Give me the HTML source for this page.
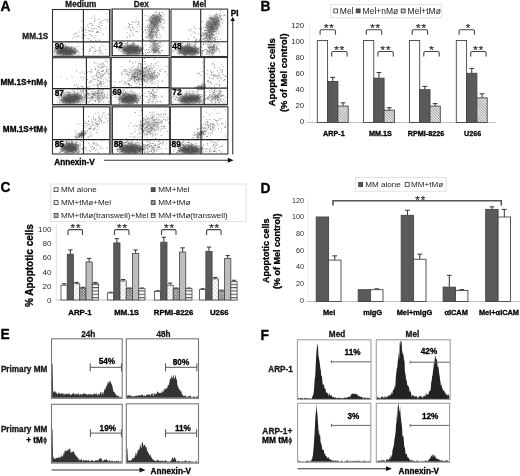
<!DOCTYPE html>
<html><head><meta charset="utf-8"><style>
html,body{margin:0;padding:0;background:#fff;overflow:hidden;}
svg{display:block;font-family:"Liberation Sans",sans-serif;filter:blur(0.35px);}
</style></head><body>
<svg width="520" height="476" viewBox="0 0 520 476">
<defs><filter id="b2" x="-50%" y="-50%" width="200%" height="200%"><feGaussianBlur stdDeviation="1.6"/></filter><filter id="b1" x="-50%" y="-50%" width="200%" height="200%"><feGaussianBlur stdDeviation="0.8"/></filter>
<pattern id="hatB" width="2.0" height="2.0" patternUnits="userSpaceOnUse" patternTransform="rotate(-45)"><rect width="2.0" height="2.0" fill="#f4f4f4"/><rect width="0.8" height="2.0" fill="#8c8c8c"/></pattern>
<pattern id="dotC" width="4" height="4" patternUnits="userSpaceOnUse"><rect width="4" height="4" fill="#fcfcfc"/><rect x="0.5" y="0.5" width="0.9" height="0.9" fill="#999"/><rect x="2.5" y="2.5" width="0.9" height="0.9" fill="#999"/></pattern>
<pattern id="crossC" width="2.0" height="2.0" patternUnits="userSpaceOnUse" patternTransform="rotate(45)"><rect width="2.0" height="2.0" fill="#eee"/><rect width="0.75" height="2.0" fill="#666"/><rect width="2.0" height="0.75" fill="#666"/></pattern>
<pattern id="strC" width="3" height="3.3" patternUnits="userSpaceOnUse"><rect width="3" height="3.3" fill="#fff"/><rect width="3" height="1.1" fill="#555"/></pattern>
<clipPath id="c52_9"><rect x="52.5" y="9.5" width="57.0" height="46.8"/></clipPath><clipPath id="c112_9"><rect x="112.3" y="9.0" width="57.000000000000014" height="46.6"/></clipPath><clipPath id="c171_9"><rect x="171" y="9.1" width="56.599999999999994" height="47.4"/></clipPath><clipPath id="c52_57"><rect x="52.5" y="57.7" width="57.8" height="46.8"/></clipPath><clipPath id="c111_57"><rect x="111.2" y="57.5" width="57.999999999999986" height="47.5"/></clipPath><clipPath id="c171_57"><rect x="171" y="57.5" width="56.5" height="46.900000000000006"/></clipPath><clipPath id="c52_106"><rect x="52.5" y="106.9" width="57.3" height="47.099999999999994"/></clipPath><clipPath id="c112_106"><rect x="112.4" y="106.9" width="57.400000000000006" height="47.099999999999994"/></clipPath><clipPath id="c170_106"><rect x="170.3" y="106.9" width="57.599999999999994" height="47.099999999999994"/></clipPath></defs>
<rect width="520" height="476" fill="#fff"/>
<text x="0.60" y="10.75" font-size="13.8" font-weight="bold" stroke="#000" stroke-width="0.3" text-anchor="start" fill="#000">A</text>
<text x="80.80" y="6.72" font-size="8.2" font-weight="bold" stroke="#1a1a1a" stroke-width="0.3" text-anchor="middle" fill="#1a1a1a">Medium</text>
<text x="141.30" y="6.72" font-size="8.2" font-weight="bold" stroke="#1a1a1a" stroke-width="0.3" text-anchor="middle" fill="#1a1a1a">Dex</text>
<text x="199.40" y="6.72" font-size="8.2" font-weight="bold" stroke="#1a1a1a" stroke-width="0.3" text-anchor="middle" fill="#1a1a1a">Mel</text>
<text x="48.30" y="39.02" font-size="8.2" font-weight="bold" stroke="#1a1a1a" stroke-width="0.3" text-anchor="end" fill="#1a1a1a">MM.1S</text>
<text x="43.10" y="85.42" font-size="8.2" font-weight="bold" stroke="#000" stroke-width="0.3" text-anchor="end" fill="#000">MM.1S+nM</text>
<ellipse cx="45.30" cy="83.29" rx="1.45" ry="1.80" fill="none" stroke="#000" stroke-width="0.85"/>
<line x1="45.30" y1="79.84" x2="45.30" y2="87.22" stroke="#000" stroke-width="0.9"/>
<text x="43.10" y="131.62" font-size="8.2" font-weight="bold" stroke="#000" stroke-width="0.3" text-anchor="end" fill="#000">MM.1S+tM</text>
<ellipse cx="45.30" cy="129.49" rx="1.45" ry="1.80" fill="none" stroke="#000" stroke-width="0.85"/>
<line x1="45.30" y1="126.04" x2="45.30" y2="133.42" stroke="#000" stroke-width="0.9"/>
<rect x="109.80" y="8.50" width="2.30" height="48.50" fill="#a0a0a0" stroke="none" stroke-width="1"/>
<rect x="168.80" y="57.00" width="2.00" height="98.00" fill="#a8a8a8" stroke="none" stroke-width="1"/>
<rect x="109.80" y="106.00" width="2.30" height="49.00" fill="#a0a0a0" stroke="none" stroke-width="1"/>
<rect x="52.00" y="104.60" width="176.00" height="2.40" fill="#aaaaaa" stroke="none" stroke-width="1"/>
<rect x="52.00" y="56.30" width="176.00" height="1.30" fill="#c8c8c8" stroke="none" stroke-width="1"/>
<g clip-path="url(#c52_9)"><ellipse cx="66" cy="51.5" rx="10.5" ry="4.2" fill="#505050" fill-opacity="0.85" filter="url(#b2)" transform="rotate(0 66 51.5)"/></g>
<path d="M66.0 50.5h0.9v0.9h-0.9zM67.8 48.1h0.9v0.9h-0.9zM64.4 51.1h0.9v0.9h-0.9zM60.7 47.3h0.9v0.9h-0.9zM63.3 53.7h0.9v0.9h-0.9zM60.1 53.2h0.9v0.9h-0.9zM66.4 54.0h0.9v0.9h-0.9zM74.0 50.7h0.9v0.9h-0.9zM63.0 52.1h0.9v0.9h-0.9zM62.3 50.2h0.9v0.9h-0.9zM68.9 50.3h0.9v0.9h-0.9zM68.1 50.3h0.9v0.9h-0.9zM66.6 47.6h0.9v0.9h-0.9zM60.4 46.4h0.9v0.9h-0.9zM65.8 53.1h0.9v0.9h-0.9zM70.2 51.0h0.9v0.9h-0.9zM57.9 50.6h0.9v0.9h-0.9zM63.3 53.4h0.9v0.9h-0.9zM54.6 45.0h0.9v0.9h-0.9zM58.3 48.0h0.9v0.9h-0.9zM54.9 50.2h0.9v0.9h-0.9zM64.6 51.9h0.9v0.9h-0.9zM58.4 49.1h0.9v0.9h-0.9zM67.6 54.0h0.9v0.9h-0.9zM66.9 51.7h0.9v0.9h-0.9zM64.9 47.6h0.9v0.9h-0.9zM62.8 52.8h0.9v0.9h-0.9zM65.7 52.2h0.9v0.9h-0.9zM66.7 45.9h0.9v0.9h-0.9zM56.8 53.6h0.9v0.9h-0.9zM63.1 52.3h0.9v0.9h-0.9zM60.1 54.0h0.9v0.9h-0.9zM61.1 49.4h0.9v0.9h-0.9zM72.4 50.9h0.9v0.9h-0.9zM61.2 47.4h0.9v0.9h-0.9zM71.3 51.1h0.9v0.9h-0.9zM65.3 49.2h0.9v0.9h-0.9zM66.7 51.5h0.9v0.9h-0.9zM66.4 46.5h0.9v0.9h-0.9zM58.6 49.1h0.9v0.9h-0.9zM66.5 53.7h0.9v0.9h-0.9zM74.2 48.6h0.9v0.9h-0.9zM56.7 52.8h0.9v0.9h-0.9zM71.2 52.5h0.9v0.9h-0.9zM66.7 48.3h0.9v0.9h-0.9zM62.2 49.2h0.9v0.9h-0.9zM78.0 51.2h0.9v0.9h-0.9zM70.6 51.4h0.9v0.9h-0.9zM58.8 48.7h0.9v0.9h-0.9zM66.4 48.8h0.9v0.9h-0.9zM69.5 50.6h0.9v0.9h-0.9zM64.9 48.1h0.9v0.9h-0.9zM70.1 48.0h0.9v0.9h-0.9zM65.6 50.8h0.9v0.9h-0.9zM70.0 53.9h0.9v0.9h-0.9zM74.6 47.9h0.9v0.9h-0.9zM61.9 50.5h0.9v0.9h-0.9zM67.2 49.4h0.9v0.9h-0.9zM63.2 48.0h0.9v0.9h-0.9zM66.8 53.4h0.9v0.9h-0.9zM58.9 48.8h0.9v0.9h-0.9zM62.5 54.7h0.9v0.9h-0.9zM64.8 48.7h0.9v0.9h-0.9zM71.4 52.7h0.9v0.9h-0.9zM72.9 51.2h0.9v0.9h-0.9zM58.1 48.0h0.9v0.9h-0.9zM61.2 52.0h0.9v0.9h-0.9zM69.9 51.0h0.9v0.9h-0.9zM54.0 51.2h0.9v0.9h-0.9zM63.2 50.5h0.9v0.9h-0.9zM65.4 48.0h0.9v0.9h-0.9zM73.5 51.6h0.9v0.9h-0.9zM70.1 51.6h0.9v0.9h-0.9zM64.0 53.4h0.9v0.9h-0.9zM63.8 48.3h0.9v0.9h-0.9zM64.5 50.7h0.9v0.9h-0.9zM75.1 47.4h0.9v0.9h-0.9zM63.4 52.5h0.9v0.9h-0.9zM64.2 47.9h0.9v0.9h-0.9zM68.1 46.3h0.9v0.9h-0.9zM65.3 50.8h0.9v0.9h-0.9zM64.8 53.9h0.9v0.9h-0.9zM59.3 46.1h0.9v0.9h-0.9zM65.9 48.0h0.9v0.9h-0.9zM63.3 48.7h0.9v0.9h-0.9zM73.0 48.8h0.9v0.9h-0.9zM69.9 52.5h0.9v0.9h-0.9zM65.9 48.8h0.9v0.9h-0.9zM70.0 49.5h0.9v0.9h-0.9zM64.0 52.3h0.9v0.9h-0.9zM72.3 49.7h0.9v0.9h-0.9zM66.0 52.2h0.9v0.9h-0.9zM69.5 48.8h0.9v0.9h-0.9zM58.3 46.8h0.9v0.9h-0.9zM68.1 46.3h0.9v0.9h-0.9zM53.8 48.7h0.9v0.9h-0.9zM64.2 51.4h0.9v0.9h-0.9zM60.6 50.3h0.9v0.9h-0.9zM67.0 51.5h0.9v0.9h-0.9zM79.5 52.7h0.9v0.9h-0.9zM62.3 47.7h0.9v0.9h-0.9zM67.2 46.9h0.9v0.9h-0.9zM69.0 48.6h0.9v0.9h-0.9zM64.9 47.3h0.9v0.9h-0.9zM64.8 52.9h0.9v0.9h-0.9zM70.2 53.7h0.9v0.9h-0.9zM69.1 48.8h0.9v0.9h-0.9zM59.8 46.5h0.9v0.9h-0.9zM65.5 50.0h0.9v0.9h-0.9zM66.2 54.8h0.9v0.9h-0.9zM59.7 42.6h0.9v0.9h-0.9zM67.6 52.6h0.9v0.9h-0.9zM60.9 47.5h0.9v0.9h-0.9zM71.8 54.5h0.9v0.9h-0.9zM67.2 48.2h0.9v0.9h-0.9zM66.5 50.3h0.9v0.9h-0.9zM62.5 46.5h0.9v0.9h-0.9zM65.3 48.3h0.9v0.9h-0.9zM54.0 53.4h0.9v0.9h-0.9zM59.2 52.4h0.9v0.9h-0.9zM68.2 50.2h0.9v0.9h-0.9zM53.2 47.2h0.9v0.9h-0.9zM71.1 46.5h0.9v0.9h-0.9zM55.5 48.7h0.9v0.9h-0.9zM70.5 51.4h0.9v0.9h-0.9zM60.9 50.2h0.9v0.9h-0.9zM70.7 51.3h0.9v0.9h-0.9zM66.8 48.1h0.9v0.9h-0.9zM56.8 49.7h0.9v0.9h-0.9zM73.5 51.8h0.9v0.9h-0.9zM64.4 50.4h0.9v0.9h-0.9zM65.0 48.8h0.9v0.9h-0.9zM60.1 50.1h0.9v0.9h-0.9zM72.6 50.1h0.9v0.9h-0.9zM62.7 48.6h0.9v0.9h-0.9zM65.7 50.8h0.9v0.9h-0.9zM61.2 47.6h0.9v0.9h-0.9zM62.2 52.2h0.9v0.9h-0.9zM58.3 49.8h0.9v0.9h-0.9zM73.5 52.6h0.9v0.9h-0.9zM65.1 50.4h0.9v0.9h-0.9zM71.8 49.7h0.9v0.9h-0.9zM66.1 48.4h0.9v0.9h-0.9zM61.8 49.9h0.9v0.9h-0.9zM64.0 49.3h0.9v0.9h-0.9zM62.6 51.2h0.9v0.9h-0.9zM66.0 51.0h0.9v0.9h-0.9zM63.7 47.0h0.9v0.9h-0.9zM64.2 51.0h0.9v0.9h-0.9zM57.7 46.4h0.9v0.9h-0.9zM61.2 48.8h0.9v0.9h-0.9zM75.9 51.4h0.9v0.9h-0.9zM62.0 44.9h0.9v0.9h-0.9zM59.7 50.5h0.9v0.9h-0.9zM68.0 51.6h0.9v0.9h-0.9zM74.4 51.6h0.9v0.9h-0.9zM57.3 48.8h0.9v0.9h-0.9zM64.7 49.8h0.9v0.9h-0.9zM62.2 47.9h0.9v0.9h-0.9zM55.4 49.0h0.9v0.9h-0.9zM70.4 50.0h0.9v0.9h-0.9zM65.9 51.2h0.9v0.9h-0.9zM66.4 47.8h0.9v0.9h-0.9zM61.5 51.1h0.9v0.9h-0.9zM68.7 51.7h0.9v0.9h-0.9zM62.8 50.2h0.9v0.9h-0.9zM65.1 49.7h0.9v0.9h-0.9zM59.4 51.7h0.9v0.9h-0.9zM58.7 45.6h0.9v0.9h-0.9zM74.0 53.2h0.9v0.9h-0.9zM63.0 51.3h0.9v0.9h-0.9zM67.8 52.0h0.9v0.9h-0.9zM65.8 52.0h0.9v0.9h-0.9zM63.4 48.9h0.9v0.9h-0.9zM63.0 49.9h0.9v0.9h-0.9zM69.8 53.2h0.9v0.9h-0.9zM64.2 52.0h0.9v0.9h-0.9zM65.1 51.5h0.9v0.9h-0.9zM66.1 46.9h0.9v0.9h-0.9zM73.1 53.3h0.9v0.9h-0.9zM70.1 54.6h0.9v0.9h-0.9zM68.3 54.0h0.9v0.9h-0.9zM62.6 51.2h0.9v0.9h-0.9zM57.7 45.8h0.9v0.9h-0.9zM71.7 54.2h0.9v0.9h-0.9zM71.8 51.3h0.9v0.9h-0.9zM65.2 44.0h0.9v0.9h-0.9zM69.3 52.4h0.9v0.9h-0.9zM70.7 47.5h0.9v0.9h-0.9zM71.0 48.1h0.9v0.9h-0.9zM71.5 49.9h0.9v0.9h-0.9zM63.3 54.1h0.9v0.9h-0.9zM75.1 51.1h0.9v0.9h-0.9zM58.5 50.9h0.9v0.9h-0.9zM71.2 51.3h0.9v0.9h-0.9zM77.3 51.7h0.9v0.9h-0.9zM74.9 48.6h0.9v0.9h-0.9zM59.1 48.3h0.9v0.9h-0.9zM55.9 51.0h0.9v0.9h-0.9zM70.9 52.6h0.9v0.9h-0.9zM59.9 50.6h0.9v0.9h-0.9zM65.9 53.7h0.9v0.9h-0.9zM71.0 49.5h0.9v0.9h-0.9zM56.1 49.7h0.9v0.9h-0.9zM53.3 51.5h0.9v0.9h-0.9zM67.6 52.8h0.9v0.9h-0.9zM66.3 53.9h0.9v0.9h-0.9zM64.5 51.9h0.9v0.9h-0.9zM66.2 50.2h0.9v0.9h-0.9zM60.8 51.4h0.9v0.9h-0.9zM56.9 47.2h0.9v0.9h-0.9zM65.0 46.4h0.9v0.9h-0.9zM60.2 51.9h0.9v0.9h-0.9zM56.1 49.7h0.9v0.9h-0.9zM69.0 52.2h0.9v0.9h-0.9zM65.6 46.4h0.9v0.9h-0.9zM68.4 50.3h0.9v0.9h-0.9zM60.1 48.7h0.9v0.9h-0.9zM62.1 48.2h0.9v0.9h-0.9zM60.0 44.2h0.9v0.9h-0.9zM60.7 49.5h0.9v0.9h-0.9zM67.2 53.6h0.9v0.9h-0.9zM61.3 51.5h0.9v0.9h-0.9zM68.1 49.6h0.9v0.9h-0.9zM68.0 51.2h0.9v0.9h-0.9zM78.2 54.5h0.9v0.9h-0.9zM57.6 42.5h0.9v0.9h-0.9zM71.3 51.3h0.9v0.9h-0.9zM65.5 52.4h0.9v0.9h-0.9zM65.9 52.8h0.9v0.9h-0.9zM57.3 54.6h0.9v0.9h-0.9zM63.2 53.8h0.9v0.9h-0.9zM70.5 52.4h0.9v0.9h-0.9zM65.5 51.8h0.9v0.9h-0.9zM66.5 53.2h0.9v0.9h-0.9zM64.3 49.3h0.9v0.9h-0.9zM72.9 51.7h0.9v0.9h-0.9zM65.9 53.4h0.9v0.9h-0.9zM61.8 50.1h0.9v0.9h-0.9zM54.2 49.5h0.9v0.9h-0.9zM62.8 54.3h0.9v0.9h-0.9zM74.0 51.9h0.9v0.9h-0.9zM59.0 47.6h0.9v0.9h-0.9zM60.4 49.8h0.9v0.9h-0.9zM72.8 51.3h0.9v0.9h-0.9zM66.9 53.2h0.9v0.9h-0.9zM66.3 53.9h0.9v0.9h-0.9zM65.7 46.9h0.9v0.9h-0.9zM66.2 48.5h0.9v0.9h-0.9zM70.8 52.5h0.9v0.9h-0.9zM69.3 49.6h0.9v0.9h-0.9zM67.3 47.0h0.9v0.9h-0.9zM59.7 53.1h0.9v0.9h-0.9zM69.1 52.7h0.9v0.9h-0.9zM61.9 51.9h0.9v0.9h-0.9zM72.6 50.5h0.9v0.9h-0.9zM58.4 52.9h0.9v0.9h-0.9zM65.2 50.3h0.9v0.9h-0.9zM66.0 54.0h0.9v0.9h-0.9zM58.1 47.6h0.9v0.9h-0.9zM76.3 49.9h0.9v0.9h-0.9zM74.8 52.6h0.9v0.9h-0.9zM63.2 48.8h0.9v0.9h-0.9zM70.6 53.4h0.9v0.9h-0.9zM68.3 52.0h0.9v0.9h-0.9zM67.5 51.4h0.9v0.9h-0.9zM65.6 50.0h0.9v0.9h-0.9zM66.5 53.5h0.9v0.9h-0.9zM59.5 48.5h0.9v0.9h-0.9zM64.4 49.6h0.9v0.9h-0.9zM64.9 54.2h0.9v0.9h-0.9zM66.0 51.2h0.9v0.9h-0.9zM75.2 52.7h0.9v0.9h-0.9zM62.7 54.8h0.9v0.9h-0.9zM63.7 50.4h0.9v0.9h-0.9zM55.1 47.1h0.9v0.9h-0.9zM75.4 52.4h0.9v0.9h-0.9zM71.8 52.9h0.9v0.9h-0.9zM71.5 49.4h0.9v0.9h-0.9zM70.0 47.0h0.9v0.9h-0.9zM66.7 47.2h0.9v0.9h-0.9zM67.3 53.0h0.9v0.9h-0.9zM64.5 48.8h0.9v0.9h-0.9zM64.8 50.5h0.9v0.9h-0.9zM66.3 51.6h0.9v0.9h-0.9zM75.1 53.7h0.9v0.9h-0.9zM69.3 50.5h0.9v0.9h-0.9zM65.6 52.3h0.9v0.9h-0.9zM62.5 48.2h0.9v0.9h-0.9zM62.2 49.6h0.9v0.9h-0.9zM75.6 49.3h0.9v0.9h-0.9zM69.0 54.4h0.9v0.9h-0.9zM66.4 51.0h0.9v0.9h-0.9zM63.9 48.8h0.9v0.9h-0.9zM59.3 49.3h0.9v0.9h-0.9zM65.6 50.4h0.9v0.9h-0.9zM71.2 53.5h0.9v0.9h-0.9zM63.6 46.4h0.9v0.9h-0.9zM64.6 48.0h0.9v0.9h-0.9zM64.7 49.8h0.9v0.9h-0.9zM56.4 52.5h0.9v0.9h-0.9zM64.6 50.5h0.9v0.9h-0.9zM60.9 52.3h0.9v0.9h-0.9zM61.4 49.8h0.9v0.9h-0.9zM69.5 50.4h0.9v0.9h-0.9zM64.1 52.1h0.9v0.9h-0.9zM62.4 52.4h0.9v0.9h-0.9zM67.1 49.8h0.9v0.9h-0.9zM68.8 52.9h0.9v0.9h-0.9zM78.1 54.3h0.9v0.9h-0.9zM64.5 45.3h0.9v0.9h-0.9zM64.8 52.6h0.9v0.9h-0.9zM59.7 49.7h0.9v0.9h-0.9zM67.9 52.4h0.9v0.9h-0.9zM58.5 52.0h0.9v0.9h-0.9zM59.4 49.3h0.9v0.9h-0.9zM73.7 47.3h0.9v0.9h-0.9zM60.6 51.4h0.9v0.9h-0.9zM72.5 49.7h0.9v0.9h-0.9zM75.1 51.2h0.9v0.9h-0.9zM67.6 49.5h0.9v0.9h-0.9zM69.3 50.5h0.9v0.9h-0.9zM77.7 46.1h0.9v0.9h-0.9zM64.8 54.2h0.9v0.9h-0.9zM62.4 51.3h0.9v0.9h-0.9zM57.9 53.1h0.9v0.9h-0.9zM74.9 52.1h0.9v0.9h-0.9zM71.8 46.8h0.9v0.9h-0.9zM60.3 47.9h0.9v0.9h-0.9zM60.9 47.1h0.9v0.9h-0.9zM63.0 49.3h0.9v0.9h-0.9zM67.8 51.4h0.9v0.9h-0.9zM64.8 45.4h0.9v0.9h-0.9zM67.3 52.1h0.9v0.9h-0.9zM67.8 47.1h0.9v0.9h-0.9zM64.2 51.6h0.9v0.9h-0.9zM65.8 50.7h0.9v0.9h-0.9zM67.2 50.3h0.9v0.9h-0.9zM65.5 50.7h0.9v0.9h-0.9zM69.0 49.9h0.9v0.9h-0.9zM77.2 50.6h0.9v0.9h-0.9zM69.6 46.9h0.9v0.9h-0.9zM66.3 51.0h0.9v0.9h-0.9zM54.3 53.2h0.9v0.9h-0.9zM57.5 51.9h0.9v0.9h-0.9zM71.1 49.8h0.9v0.9h-0.9zM65.1 50.7h0.9v0.9h-0.9zM55.7 49.6h0.9v0.9h-0.9zM63.8 50.0h0.9v0.9h-0.9zM61.9 50.8h0.9v0.9h-0.9zM69.8 50.3h0.9v0.9h-0.9zM79.5 52.4h0.9v0.9h-0.9zM67.3 48.2h0.9v0.9h-0.9zM61.3 49.4h0.9v0.9h-0.9zM65.7 50.8h0.9v0.9h-0.9zM94.3 17.9h0.9v0.9h-0.9zM99.7 22.0h0.9v0.9h-0.9zM101.0 25.2h0.9v0.9h-0.9zM88.2 30.2h0.9v0.9h-0.9zM94.5 15.5h0.9v0.9h-0.9zM102.4 20.1h0.9v0.9h-0.9zM97.9 31.5h0.9v0.9h-0.9zM96.9 30.4h0.9v0.9h-0.9zM106.9 20.2h0.9v0.9h-0.9zM91.3 23.6h0.9v0.9h-0.9zM96.6 31.0h0.9v0.9h-0.9zM92.4 25.1h0.9v0.9h-0.9zM106.4 12.9h0.9v0.9h-0.9zM82.3 29.2h0.9v0.9h-0.9zM91.3 39.7h0.9v0.9h-0.9zM92.3 30.6h0.9v0.9h-0.9zM100.6 32.4h0.9v0.9h-0.9zM100.2 21.3h0.9v0.9h-0.9zM105.8 27.9h0.9v0.9h-0.9zM85.0 29.1h0.9v0.9h-0.9zM101.3 22.9h0.9v0.9h-0.9zM93.9 45.4h0.9v0.9h-0.9zM91.3 35.0h0.9v0.9h-0.9zM99.8 21.4h0.9v0.9h-0.9zM89.6 30.1h0.9v0.9h-0.9zM81.5 37.6h0.9v0.9h-0.9zM93.4 36.9h0.9v0.9h-0.9zM85.5 29.6h0.9v0.9h-0.9zM91.5 17.5h0.9v0.9h-0.9zM98.6 23.6h0.9v0.9h-0.9zM98.2 25.9h0.9v0.9h-0.9zM107.1 21.4h0.9v0.9h-0.9zM94.6 36.9h0.9v0.9h-0.9zM85.3 35.3h0.9v0.9h-0.9zM90.7 35.7h0.9v0.9h-0.9zM89.6 23.0h0.9v0.9h-0.9zM87.5 37.9h0.9v0.9h-0.9zM99.0 39.8h0.9v0.9h-0.9zM91.5 34.9h0.9v0.9h-0.9zM82.2 36.7h0.9v0.9h-0.9zM100.9 25.3h0.9v0.9h-0.9zM95.2 39.8h0.9v0.9h-0.9zM98.5 19.1h0.9v0.9h-0.9zM96.7 25.8h0.9v0.9h-0.9zM100.4 27.7h0.9v0.9h-0.9zM96.3 32.0h0.9v0.9h-0.9zM104.7 19.0h0.9v0.9h-0.9zM99.0 27.4h0.9v0.9h-0.9zM98.7 23.5h0.9v0.9h-0.9zM98.9 26.2h0.9v0.9h-0.9zM85.8 31.9h0.9v0.9h-0.9zM94.8 19.7h0.9v0.9h-0.9zM94.2 27.9h0.9v0.9h-0.9zM97.5 32.2h0.9v0.9h-0.9zM86.5 25.7h0.9v0.9h-0.9zM107.4 18.8h0.9v0.9h-0.9zM96.7 31.2h0.9v0.9h-0.9zM87.5 24.4h0.9v0.9h-0.9zM84.0 35.1h0.9v0.9h-0.9zM94.0 20.8h0.9v0.9h-0.9zM95.4 35.2h0.9v0.9h-0.9zM91.0 45.9h0.9v0.9h-0.9zM96.6 40.6h0.9v0.9h-0.9zM91.5 28.0h0.9v0.9h-0.9zM99.9 29.9h0.9v0.9h-0.9zM90.9 30.7h0.9v0.9h-0.9zM95.7 27.9h0.9v0.9h-0.9zM102.9 33.8h0.9v0.9h-0.9zM88.9 38.3h0.9v0.9h-0.9zM92.7 28.5h0.9v0.9h-0.9zM90.1 40.1h0.9v0.9h-0.9zM101.5 25.2h0.9v0.9h-0.9zM88.0 26.9h0.9v0.9h-0.9zM92.6 30.9h0.9v0.9h-0.9zM95.8 32.2h0.9v0.9h-0.9zM89.1 31.2h0.9v0.9h-0.9zM89.3 34.2h0.9v0.9h-0.9zM92.7 25.3h0.9v0.9h-0.9zM81.3 20.6h0.9v0.9h-0.9zM81.6 30.5h0.9v0.9h-0.9zM80.8 27.2h0.9v0.9h-0.9zM78.6 31.5h0.9v0.9h-0.9zM78.3 35.8h0.9v0.9h-0.9zM82.1 34.3h0.9v0.9h-0.9zM76.2 32.7h0.9v0.9h-0.9zM75.2 36.0h0.9v0.9h-0.9zM77.2 35.7h0.9v0.9h-0.9zM82.8 28.1h0.9v0.9h-0.9zM72.5 37.5h0.9v0.9h-0.9zM82.8 30.0h0.9v0.9h-0.9zM75.4 32.8h0.9v0.9h-0.9zM73.6 34.1h0.9v0.9h-0.9zM83.0 30.2h0.9v0.9h-0.9zM95.2 51.1h0.9v0.9h-0.9zM91.6 47.3h0.9v0.9h-0.9zM92.4 47.3h0.9v0.9h-0.9zM101.7 45.3h0.9v0.9h-0.9zM96.3 49.9h0.9v0.9h-0.9zM100.3 51.5h0.9v0.9h-0.9zM102.2 53.1h0.9v0.9h-0.9zM98.5 49.6h0.9v0.9h-0.9zM90.0 50.1h0.9v0.9h-0.9zM99.9 49.7h0.9v0.9h-0.9zM93.1 51.7h0.9v0.9h-0.9zM106.1 53.2h0.9v0.9h-0.9zM105.2 49.0h0.9v0.9h-0.9zM83.3 49.3h0.9v0.9h-0.9zM89.2 49.5h0.9v0.9h-0.9zM99.0 50.2h0.9v0.9h-0.9zM99.7 47.3h0.9v0.9h-0.9zM99.4 53.1h0.9v0.9h-0.9zM94.6 48.8h0.9v0.9h-0.9zM97.7 51.4h0.9v0.9h-0.9zM98.9 47.5h0.9v0.9h-0.9zM94.5 51.1h0.9v0.9h-0.9zM101.2 51.2h0.9v0.9h-0.9zM81.4 48.7h0.9v0.9h-0.9zM88.8 51.1h0.9v0.9h-0.9zM93.6 52.9h0.9v0.9h-0.9zM89.7 48.0h0.9v0.9h-0.9z" fill="#3a3a3a" stroke="none" stroke-width="1" fill-opacity="0.6"/>
<rect x="52.50" y="9.50" width="57.00" height="46.80" fill="none" stroke="#333" stroke-width="1.1"/>
<line x1="83.40" y1="9.50" x2="83.40" y2="56.30" stroke="#222" stroke-width="1.1"/>
<line x1="52.50" y1="41.90" x2="109.50" y2="41.90" stroke="#222" stroke-width="1.1"/>
<text x="54.70" y="49.16" font-size="8.3" font-weight="bold" stroke="#000" stroke-width="0.3" text-anchor="start" fill="#000">90</text>
<g clip-path="url(#c112_9)"><ellipse cx="132" cy="50" rx="10" ry="4.8" fill="#505050" fill-opacity="0.85" filter="url(#b2)" transform="rotate(0 132 50)"/></g>
<g clip-path="url(#c112_9)"><ellipse cx="155" cy="21" rx="5.5" ry="6.5" fill="#555" fill-opacity="0.6" filter="url(#b2)" transform="rotate(20 155 21)"/></g>
<g clip-path="url(#c112_9)"><ellipse cx="151" cy="34" rx="3.5" ry="6" fill="#777" fill-opacity="0.45" filter="url(#b2)" transform="rotate(0 151 34)"/></g>
<g clip-path="url(#c112_9)"><ellipse cx="155" cy="48" rx="3.5" ry="5" fill="#777" fill-opacity="0.4" filter="url(#b2)" transform="rotate(0 155 48)"/></g>
<path d="M129.9 45.5h0.9v0.9h-0.9zM134.4 51.8h0.9v0.9h-0.9zM132.3 47.2h0.9v0.9h-0.9zM132.3 41.4h0.9v0.9h-0.9zM122.1 50.6h0.9v0.9h-0.9zM119.8 45.1h0.9v0.9h-0.9zM128.1 54.1h0.9v0.9h-0.9zM130.8 49.3h0.9v0.9h-0.9zM133.5 45.8h0.9v0.9h-0.9zM124.1 48.0h0.9v0.9h-0.9zM122.4 41.2h0.9v0.9h-0.9zM126.1 43.3h0.9v0.9h-0.9zM120.8 48.4h0.9v0.9h-0.9zM126.7 45.7h0.9v0.9h-0.9zM140.7 50.0h0.9v0.9h-0.9zM126.2 48.5h0.9v0.9h-0.9zM124.5 52.8h0.9v0.9h-0.9zM133.6 49.6h0.9v0.9h-0.9zM130.2 53.2h0.9v0.9h-0.9zM131.7 46.9h0.9v0.9h-0.9zM135.1 48.8h0.9v0.9h-0.9zM141.7 53.6h0.9v0.9h-0.9zM133.1 45.6h0.9v0.9h-0.9zM132.7 48.7h0.9v0.9h-0.9zM126.6 44.6h0.9v0.9h-0.9zM135.2 50.3h0.9v0.9h-0.9zM136.6 47.6h0.9v0.9h-0.9zM131.8 50.2h0.9v0.9h-0.9zM141.6 47.7h0.9v0.9h-0.9zM121.1 44.5h0.9v0.9h-0.9zM130.4 45.3h0.9v0.9h-0.9zM127.6 50.5h0.9v0.9h-0.9zM130.5 47.0h0.9v0.9h-0.9zM124.4 50.9h0.9v0.9h-0.9zM132.7 48.5h0.9v0.9h-0.9zM145.4 53.7h0.9v0.9h-0.9zM138.3 51.2h0.9v0.9h-0.9zM125.9 49.7h0.9v0.9h-0.9zM127.2 50.9h0.9v0.9h-0.9zM129.8 47.4h0.9v0.9h-0.9zM137.5 48.9h0.9v0.9h-0.9zM127.5 43.4h0.9v0.9h-0.9zM128.2 47.6h0.9v0.9h-0.9zM136.9 45.5h0.9v0.9h-0.9zM136.8 49.6h0.9v0.9h-0.9zM129.9 46.2h0.9v0.9h-0.9zM125.9 49.1h0.9v0.9h-0.9zM123.5 49.9h0.9v0.9h-0.9zM128.2 44.4h0.9v0.9h-0.9zM119.7 45.4h0.9v0.9h-0.9zM136.1 46.9h0.9v0.9h-0.9zM128.5 51.5h0.9v0.9h-0.9zM142.3 53.5h0.9v0.9h-0.9zM138.5 49.1h0.9v0.9h-0.9zM125.7 53.5h0.9v0.9h-0.9zM136.8 45.2h0.9v0.9h-0.9zM127.9 46.9h0.9v0.9h-0.9zM126.8 39.9h0.9v0.9h-0.9zM123.2 53.5h0.9v0.9h-0.9zM140.1 47.1h0.9v0.9h-0.9zM118.8 48.5h0.9v0.9h-0.9zM125.9 48.1h0.9v0.9h-0.9zM130.5 49.7h0.9v0.9h-0.9zM130.8 44.6h0.9v0.9h-0.9zM132.9 47.4h0.9v0.9h-0.9zM133.5 51.2h0.9v0.9h-0.9zM130.8 50.1h0.9v0.9h-0.9zM120.2 48.3h0.9v0.9h-0.9zM128.1 46.7h0.9v0.9h-0.9zM132.7 50.4h0.9v0.9h-0.9zM133.2 43.4h0.9v0.9h-0.9zM127.0 44.8h0.9v0.9h-0.9zM128.5 53.4h0.9v0.9h-0.9zM136.4 47.0h0.9v0.9h-0.9zM133.9 51.4h0.9v0.9h-0.9zM128.3 48.9h0.9v0.9h-0.9zM143.2 47.5h0.9v0.9h-0.9zM144.7 49.9h0.9v0.9h-0.9zM124.0 46.9h0.9v0.9h-0.9zM133.7 48.1h0.9v0.9h-0.9zM145.8 53.6h0.9v0.9h-0.9zM136.3 52.1h0.9v0.9h-0.9zM133.2 47.8h0.9v0.9h-0.9zM130.9 46.4h0.9v0.9h-0.9zM129.0 50.1h0.9v0.9h-0.9zM130.8 49.0h0.9v0.9h-0.9zM129.0 52.5h0.9v0.9h-0.9zM129.8 52.0h0.9v0.9h-0.9zM129.6 49.1h0.9v0.9h-0.9zM125.4 48.2h0.9v0.9h-0.9zM131.7 46.7h0.9v0.9h-0.9zM127.1 46.0h0.9v0.9h-0.9zM131.0 46.1h0.9v0.9h-0.9zM137.7 48.9h0.9v0.9h-0.9zM134.0 48.4h0.9v0.9h-0.9zM134.8 52.2h0.9v0.9h-0.9zM134.0 48.4h0.9v0.9h-0.9zM132.3 48.9h0.9v0.9h-0.9zM131.3 45.5h0.9v0.9h-0.9zM136.2 51.6h0.9v0.9h-0.9zM139.4 53.0h0.9v0.9h-0.9zM127.9 48.2h0.9v0.9h-0.9zM129.3 51.5h0.9v0.9h-0.9zM132.9 45.6h0.9v0.9h-0.9zM128.1 52.8h0.9v0.9h-0.9zM127.7 50.3h0.9v0.9h-0.9zM119.5 50.5h0.9v0.9h-0.9zM128.0 53.2h0.9v0.9h-0.9zM121.0 46.0h0.9v0.9h-0.9zM131.8 50.8h0.9v0.9h-0.9zM137.8 47.3h0.9v0.9h-0.9zM135.6 47.7h0.9v0.9h-0.9zM124.6 46.6h0.9v0.9h-0.9zM127.8 48.5h0.9v0.9h-0.9zM141.8 51.2h0.9v0.9h-0.9zM133.8 51.2h0.9v0.9h-0.9zM132.0 44.8h0.9v0.9h-0.9zM139.1 52.8h0.9v0.9h-0.9zM132.8 48.4h0.9v0.9h-0.9zM134.0 49.4h0.9v0.9h-0.9zM135.4 51.7h0.9v0.9h-0.9zM128.6 50.5h0.9v0.9h-0.9zM126.2 43.2h0.9v0.9h-0.9zM132.3 52.0h0.9v0.9h-0.9zM131.7 43.3h0.9v0.9h-0.9zM132.5 52.9h0.9v0.9h-0.9zM144.9 52.3h0.9v0.9h-0.9zM127.3 48.6h0.9v0.9h-0.9zM131.3 54.0h0.9v0.9h-0.9zM131.1 45.5h0.9v0.9h-0.9zM134.4 50.3h0.9v0.9h-0.9zM129.3 48.5h0.9v0.9h-0.9zM127.5 47.6h0.9v0.9h-0.9zM123.0 48.8h0.9v0.9h-0.9zM126.9 47.4h0.9v0.9h-0.9zM132.3 46.5h0.9v0.9h-0.9zM126.4 51.7h0.9v0.9h-0.9zM129.9 45.1h0.9v0.9h-0.9zM132.2 51.7h0.9v0.9h-0.9zM134.8 49.5h0.9v0.9h-0.9zM128.7 40.5h0.9v0.9h-0.9zM130.6 49.3h0.9v0.9h-0.9zM122.0 44.8h0.9v0.9h-0.9zM125.7 47.3h0.9v0.9h-0.9zM120.0 44.3h0.9v0.9h-0.9zM130.1 45.8h0.9v0.9h-0.9zM129.9 49.6h0.9v0.9h-0.9zM127.6 54.1h0.9v0.9h-0.9zM131.7 50.5h0.9v0.9h-0.9zM132.0 46.6h0.9v0.9h-0.9zM131.5 49.2h0.9v0.9h-0.9zM121.7 52.3h0.9v0.9h-0.9zM131.2 52.5h0.9v0.9h-0.9zM127.3 48.9h0.9v0.9h-0.9zM129.0 49.3h0.9v0.9h-0.9zM133.2 49.3h0.9v0.9h-0.9zM135.5 48.0h0.9v0.9h-0.9zM129.3 49.2h0.9v0.9h-0.9zM137.1 46.3h0.9v0.9h-0.9zM138.5 48.7h0.9v0.9h-0.9zM138.3 52.7h0.9v0.9h-0.9zM139.6 52.5h0.9v0.9h-0.9zM131.2 48.9h0.9v0.9h-0.9zM131.0 47.2h0.9v0.9h-0.9zM136.5 50.1h0.9v0.9h-0.9zM124.5 43.0h0.9v0.9h-0.9zM133.2 45.3h0.9v0.9h-0.9zM129.1 51.8h0.9v0.9h-0.9zM130.0 47.7h0.9v0.9h-0.9zM122.4 49.6h0.9v0.9h-0.9zM127.1 53.0h0.9v0.9h-0.9zM131.9 51.6h0.9v0.9h-0.9zM136.9 50.2h0.9v0.9h-0.9zM131.6 51.7h0.9v0.9h-0.9zM131.0 48.2h0.9v0.9h-0.9zM127.4 51.4h0.9v0.9h-0.9zM134.2 51.1h0.9v0.9h-0.9zM130.6 46.5h0.9v0.9h-0.9zM135.3 50.1h0.9v0.9h-0.9zM141.6 50.1h0.9v0.9h-0.9zM131.8 42.9h0.9v0.9h-0.9zM123.8 47.9h0.9v0.9h-0.9zM127.3 48.0h0.9v0.9h-0.9zM124.0 47.1h0.9v0.9h-0.9zM125.4 43.2h0.9v0.9h-0.9zM139.2 49.2h0.9v0.9h-0.9zM133.2 49.5h0.9v0.9h-0.9zM123.6 48.8h0.9v0.9h-0.9zM135.6 46.2h0.9v0.9h-0.9zM138.9 52.4h0.9v0.9h-0.9zM130.0 45.2h0.9v0.9h-0.9zM128.3 48.3h0.9v0.9h-0.9zM130.1 53.6h0.9v0.9h-0.9zM133.6 47.4h0.9v0.9h-0.9zM135.5 48.2h0.9v0.9h-0.9zM138.5 53.8h0.9v0.9h-0.9zM138.7 49.0h0.9v0.9h-0.9zM138.5 49.3h0.9v0.9h-0.9zM139.5 51.1h0.9v0.9h-0.9zM135.6 53.4h0.9v0.9h-0.9zM123.6 41.2h0.9v0.9h-0.9zM131.3 46.7h0.9v0.9h-0.9zM133.7 46.4h0.9v0.9h-0.9zM129.9 45.6h0.9v0.9h-0.9zM137.0 47.3h0.9v0.9h-0.9zM130.0 46.5h0.9v0.9h-0.9zM126.9 49.9h0.9v0.9h-0.9zM139.9 47.5h0.9v0.9h-0.9zM135.7 50.3h0.9v0.9h-0.9zM133.2 51.0h0.9v0.9h-0.9zM137.1 47.7h0.9v0.9h-0.9zM137.8 50.6h0.9v0.9h-0.9zM118.5 48.9h0.9v0.9h-0.9zM128.3 46.9h0.9v0.9h-0.9zM129.5 49.0h0.9v0.9h-0.9zM126.6 45.8h0.9v0.9h-0.9zM133.1 50.5h0.9v0.9h-0.9zM138.6 53.1h0.9v0.9h-0.9zM129.3 46.5h0.9v0.9h-0.9zM125.8 48.1h0.9v0.9h-0.9zM129.5 47.6h0.9v0.9h-0.9zM125.2 49.3h0.9v0.9h-0.9zM133.3 46.3h0.9v0.9h-0.9zM134.3 47.1h0.9v0.9h-0.9zM128.1 47.3h0.9v0.9h-0.9zM129.3 47.9h0.9v0.9h-0.9zM126.9 47.2h0.9v0.9h-0.9zM133.0 47.8h0.9v0.9h-0.9zM136.2 49.5h0.9v0.9h-0.9zM128.5 51.2h0.9v0.9h-0.9zM133.8 50.3h0.9v0.9h-0.9zM147.5 52.1h0.9v0.9h-0.9zM128.1 53.7h0.9v0.9h-0.9zM139.6 51.3h0.9v0.9h-0.9zM131.7 51.4h0.9v0.9h-0.9zM131.3 44.7h0.9v0.9h-0.9zM136.0 49.6h0.9v0.9h-0.9zM136.9 49.9h0.9v0.9h-0.9zM139.0 49.6h0.9v0.9h-0.9zM133.8 42.8h0.9v0.9h-0.9zM128.7 52.0h0.9v0.9h-0.9zM129.0 47.9h0.9v0.9h-0.9zM134.8 48.4h0.9v0.9h-0.9zM135.2 49.1h0.9v0.9h-0.9zM139.7 49.7h0.9v0.9h-0.9zM134.3 51.1h0.9v0.9h-0.9zM137.8 46.1h0.9v0.9h-0.9zM140.3 47.5h0.9v0.9h-0.9zM132.9 50.5h0.9v0.9h-0.9zM123.8 49.0h0.9v0.9h-0.9zM125.5 47.5h0.9v0.9h-0.9zM124.1 46.7h0.9v0.9h-0.9zM140.8 47.9h0.9v0.9h-0.9zM127.3 48.8h0.9v0.9h-0.9zM135.2 46.5h0.9v0.9h-0.9zM137.5 52.9h0.9v0.9h-0.9zM131.4 48.0h0.9v0.9h-0.9zM130.9 51.9h0.9v0.9h-0.9zM132.5 44.8h0.9v0.9h-0.9zM133.0 44.0h0.9v0.9h-0.9zM129.1 45.0h0.9v0.9h-0.9zM131.8 48.2h0.9v0.9h-0.9zM140.9 49.5h0.9v0.9h-0.9zM122.6 46.7h0.9v0.9h-0.9zM133.4 50.0h0.9v0.9h-0.9zM127.0 42.0h0.9v0.9h-0.9zM133.0 51.2h0.9v0.9h-0.9zM136.6 45.5h0.9v0.9h-0.9zM131.7 47.3h0.9v0.9h-0.9zM136.3 48.7h0.9v0.9h-0.9zM123.3 44.7h0.9v0.9h-0.9zM138.1 45.8h0.9v0.9h-0.9zM128.7 45.8h0.9v0.9h-0.9zM135.4 49.9h0.9v0.9h-0.9zM133.0 51.5h0.9v0.9h-0.9zM117.8 49.6h0.9v0.9h-0.9zM127.8 45.8h0.9v0.9h-0.9zM133.2 47.1h0.9v0.9h-0.9zM140.5 47.5h0.9v0.9h-0.9zM133.6 51.1h0.9v0.9h-0.9zM133.4 43.1h0.9v0.9h-0.9zM124.2 52.6h0.9v0.9h-0.9zM139.9 48.9h0.9v0.9h-0.9zM141.9 48.2h0.9v0.9h-0.9zM132.2 50.6h0.9v0.9h-0.9zM130.8 52.7h0.9v0.9h-0.9zM123.1 49.5h0.9v0.9h-0.9zM136.9 53.5h0.9v0.9h-0.9zM146.9 51.7h0.9v0.9h-0.9zM135.9 53.9h0.9v0.9h-0.9zM135.0 49.5h0.9v0.9h-0.9zM126.6 53.5h0.9v0.9h-0.9zM139.4 50.9h0.9v0.9h-0.9zM125.2 49.0h0.9v0.9h-0.9zM130.8 46.4h0.9v0.9h-0.9zM133.5 48.8h0.9v0.9h-0.9zM136.9 52.6h0.9v0.9h-0.9zM134.3 45.5h0.9v0.9h-0.9zM134.1 51.9h0.9v0.9h-0.9zM127.8 50.1h0.9v0.9h-0.9zM124.9 49.5h0.9v0.9h-0.9zM132.3 42.4h0.9v0.9h-0.9zM128.1 48.7h0.9v0.9h-0.9zM124.8 50.7h0.9v0.9h-0.9zM125.0 46.2h0.9v0.9h-0.9zM129.3 49.5h0.9v0.9h-0.9zM121.8 40.6h0.9v0.9h-0.9zM124.6 50.8h0.9v0.9h-0.9zM123.0 46.3h0.9v0.9h-0.9zM133.0 52.4h0.9v0.9h-0.9zM134.2 43.8h0.9v0.9h-0.9zM143.0 53.1h0.9v0.9h-0.9zM123.8 47.7h0.9v0.9h-0.9zM128.3 51.7h0.9v0.9h-0.9zM137.0 47.1h0.9v0.9h-0.9zM130.8 47.4h0.9v0.9h-0.9zM141.4 47.9h0.9v0.9h-0.9zM130.1 47.0h0.9v0.9h-0.9zM125.6 47.8h0.9v0.9h-0.9zM124.8 45.3h0.9v0.9h-0.9zM133.8 53.6h0.9v0.9h-0.9zM124.5 46.3h0.9v0.9h-0.9zM126.6 43.3h0.9v0.9h-0.9zM134.9 53.6h0.9v0.9h-0.9zM135.2 53.5h0.9v0.9h-0.9zM128.5 51.7h0.9v0.9h-0.9zM135.4 53.7h0.9v0.9h-0.9zM135.1 47.1h0.9v0.9h-0.9zM122.2 47.8h0.9v0.9h-0.9zM130.3 44.8h0.9v0.9h-0.9zM134.3 45.2h0.9v0.9h-0.9zM128.8 52.3h0.9v0.9h-0.9zM120.2 45.9h0.9v0.9h-0.9zM136.1 50.2h0.9v0.9h-0.9zM140.7 48.5h0.9v0.9h-0.9zM120.0 50.6h0.9v0.9h-0.9zM125.8 50.3h0.9v0.9h-0.9zM137.3 46.2h0.9v0.9h-0.9zM138.8 51.5h0.9v0.9h-0.9zM132.8 48.0h0.9v0.9h-0.9zM151.9 21.1h0.9v0.9h-0.9zM159.1 19.6h0.9v0.9h-0.9zM155.6 15.8h0.9v0.9h-0.9zM150.6 25.3h0.9v0.9h-0.9zM153.5 23.5h0.9v0.9h-0.9zM152.0 35.9h0.9v0.9h-0.9zM156.2 21.9h0.9v0.9h-0.9zM155.4 12.2h0.9v0.9h-0.9zM159.6 16.6h0.9v0.9h-0.9zM157.8 21.1h0.9v0.9h-0.9zM148.7 19.4h0.9v0.9h-0.9zM156.6 17.2h0.9v0.9h-0.9zM158.6 18.5h0.9v0.9h-0.9zM156.8 22.7h0.9v0.9h-0.9zM159.1 19.2h0.9v0.9h-0.9zM152.8 19.0h0.9v0.9h-0.9zM151.2 27.5h0.9v0.9h-0.9zM158.7 17.7h0.9v0.9h-0.9zM150.7 21.8h0.9v0.9h-0.9zM146.4 20.0h0.9v0.9h-0.9zM159.1 16.3h0.9v0.9h-0.9zM152.1 26.4h0.9v0.9h-0.9zM153.8 15.2h0.9v0.9h-0.9zM149.4 24.5h0.9v0.9h-0.9zM149.7 27.9h0.9v0.9h-0.9zM150.4 22.6h0.9v0.9h-0.9zM153.6 23.8h0.9v0.9h-0.9zM156.5 16.1h0.9v0.9h-0.9zM145.8 32.6h0.9v0.9h-0.9zM158.0 25.5h0.9v0.9h-0.9zM150.3 25.4h0.9v0.9h-0.9zM150.7 16.1h0.9v0.9h-0.9zM157.7 15.9h0.9v0.9h-0.9zM154.7 26.6h0.9v0.9h-0.9zM148.9 32.9h0.9v0.9h-0.9zM162.4 19.7h0.9v0.9h-0.9zM151.6 29.4h0.9v0.9h-0.9zM156.0 18.7h0.9v0.9h-0.9zM155.8 20.7h0.9v0.9h-0.9zM160.6 19.2h0.9v0.9h-0.9zM153.2 24.9h0.9v0.9h-0.9zM159.0 13.0h0.9v0.9h-0.9zM152.0 27.8h0.9v0.9h-0.9zM159.5 25.8h0.9v0.9h-0.9zM151.9 18.3h0.9v0.9h-0.9zM153.6 16.5h0.9v0.9h-0.9zM162.6 19.8h0.9v0.9h-0.9zM156.3 18.4h0.9v0.9h-0.9zM155.4 10.9h0.9v0.9h-0.9zM164.0 21.2h0.9v0.9h-0.9zM156.4 22.0h0.9v0.9h-0.9zM151.7 21.4h0.9v0.9h-0.9zM157.9 30.2h0.9v0.9h-0.9zM150.3 25.0h0.9v0.9h-0.9zM159.5 16.3h0.9v0.9h-0.9zM159.8 20.1h0.9v0.9h-0.9zM152.7 18.4h0.9v0.9h-0.9zM152.5 19.8h0.9v0.9h-0.9zM155.7 23.4h0.9v0.9h-0.9zM155.1 19.4h0.9v0.9h-0.9zM151.1 21.9h0.9v0.9h-0.9zM157.3 28.5h0.9v0.9h-0.9zM146.8 30.0h0.9v0.9h-0.9zM153.3 26.5h0.9v0.9h-0.9zM153.4 25.2h0.9v0.9h-0.9zM153.9 24.8h0.9v0.9h-0.9zM156.2 28.1h0.9v0.9h-0.9zM150.1 24.4h0.9v0.9h-0.9zM157.4 29.3h0.9v0.9h-0.9zM154.3 18.0h0.9v0.9h-0.9zM152.4 22.1h0.9v0.9h-0.9zM149.5 18.4h0.9v0.9h-0.9zM150.3 22.8h0.9v0.9h-0.9zM156.4 23.7h0.9v0.9h-0.9zM151.1 30.6h0.9v0.9h-0.9zM155.3 18.8h0.9v0.9h-0.9zM159.2 19.9h0.9v0.9h-0.9zM159.1 18.3h0.9v0.9h-0.9zM161.2 15.5h0.9v0.9h-0.9zM153.8 17.1h0.9v0.9h-0.9zM150.7 24.4h0.9v0.9h-0.9zM159.1 12.0h0.9v0.9h-0.9zM156.2 21.9h0.9v0.9h-0.9zM159.5 19.8h0.9v0.9h-0.9zM155.0 19.0h0.9v0.9h-0.9zM159.8 15.0h0.9v0.9h-0.9zM158.4 14.0h0.9v0.9h-0.9zM157.9 29.1h0.9v0.9h-0.9zM157.0 14.8h0.9v0.9h-0.9zM156.6 28.3h0.9v0.9h-0.9zM155.9 24.3h0.9v0.9h-0.9zM155.9 19.9h0.9v0.9h-0.9zM159.0 14.7h0.9v0.9h-0.9zM153.0 27.8h0.9v0.9h-0.9zM161.9 26.5h0.9v0.9h-0.9zM154.6 17.9h0.9v0.9h-0.9zM158.9 18.7h0.9v0.9h-0.9zM154.6 27.0h0.9v0.9h-0.9zM154.0 24.0h0.9v0.9h-0.9zM163.1 27.1h0.9v0.9h-0.9zM153.8 20.0h0.9v0.9h-0.9zM149.9 27.0h0.9v0.9h-0.9zM152.1 17.7h0.9v0.9h-0.9zM153.7 32.2h0.9v0.9h-0.9zM163.6 14.3h0.9v0.9h-0.9zM155.8 11.5h0.9v0.9h-0.9zM158.7 19.6h0.9v0.9h-0.9zM151.0 23.4h0.9v0.9h-0.9zM156.4 30.1h0.9v0.9h-0.9zM157.7 19.1h0.9v0.9h-0.9zM162.2 18.3h0.9v0.9h-0.9zM152.2 26.1h0.9v0.9h-0.9zM157.4 28.1h0.9v0.9h-0.9zM156.2 21.1h0.9v0.9h-0.9zM150.9 28.8h0.9v0.9h-0.9zM154.9 24.4h0.9v0.9h-0.9zM153.9 21.2h0.9v0.9h-0.9zM145.7 27.0h0.9v0.9h-0.9zM157.4 20.9h0.9v0.9h-0.9zM157.2 16.7h0.9v0.9h-0.9zM153.2 28.4h0.9v0.9h-0.9zM149.6 18.3h0.9v0.9h-0.9zM160.9 24.4h0.9v0.9h-0.9zM156.1 25.8h0.9v0.9h-0.9zM159.1 19.5h0.9v0.9h-0.9zM160.6 15.7h0.9v0.9h-0.9zM152.9 22.0h0.9v0.9h-0.9zM158.2 22.5h0.9v0.9h-0.9zM154.0 25.9h0.9v0.9h-0.9zM154.7 23.4h0.9v0.9h-0.9zM154.7 26.7h0.9v0.9h-0.9zM155.0 19.4h0.9v0.9h-0.9zM159.5 20.8h0.9v0.9h-0.9zM155.5 14.6h0.9v0.9h-0.9zM154.4 25.8h0.9v0.9h-0.9zM153.9 23.3h0.9v0.9h-0.9zM156.4 19.4h0.9v0.9h-0.9zM151.4 29.1h0.9v0.9h-0.9zM153.0 26.2h0.9v0.9h-0.9zM152.7 23.3h0.9v0.9h-0.9zM154.5 15.6h0.9v0.9h-0.9zM152.6 28.1h0.9v0.9h-0.9zM163.0 29.4h0.9v0.9h-0.9zM160.3 17.0h0.9v0.9h-0.9zM156.8 21.4h0.9v0.9h-0.9zM154.8 21.0h0.9v0.9h-0.9zM163.8 19.2h0.9v0.9h-0.9zM156.3 24.3h0.9v0.9h-0.9zM154.7 28.1h0.9v0.9h-0.9zM156.2 16.9h0.9v0.9h-0.9zM156.2 28.6h0.9v0.9h-0.9zM160.6 14.9h0.9v0.9h-0.9zM154.9 23.3h0.9v0.9h-0.9zM163.4 23.1h0.9v0.9h-0.9zM151.5 27.0h0.9v0.9h-0.9zM157.8 16.3h0.9v0.9h-0.9zM151.0 20.8h0.9v0.9h-0.9zM162.3 16.2h0.9v0.9h-0.9zM153.7 22.4h0.9v0.9h-0.9zM154.8 27.4h0.9v0.9h-0.9zM158.7 14.2h0.9v0.9h-0.9zM160.0 21.6h0.9v0.9h-0.9zM150.6 27.0h0.9v0.9h-0.9zM153.6 25.3h0.9v0.9h-0.9zM149.4 26.9h0.9v0.9h-0.9zM155.5 28.7h0.9v0.9h-0.9zM154.6 24.4h0.9v0.9h-0.9zM153.6 26.6h0.9v0.9h-0.9zM152.3 26.0h0.9v0.9h-0.9zM153.5 31.0h0.9v0.9h-0.9zM152.0 14.8h0.9v0.9h-0.9zM157.1 26.8h0.9v0.9h-0.9zM161.1 17.8h0.9v0.9h-0.9zM147.3 24.6h0.9v0.9h-0.9zM154.5 17.8h0.9v0.9h-0.9zM153.3 14.3h0.9v0.9h-0.9zM157.0 19.3h0.9v0.9h-0.9zM151.2 20.8h0.9v0.9h-0.9zM154.4 24.6h0.9v0.9h-0.9zM150.8 17.3h0.9v0.9h-0.9zM157.8 27.2h0.9v0.9h-0.9zM155.4 23.0h0.9v0.9h-0.9zM154.4 21.2h0.9v0.9h-0.9zM156.5 18.0h0.9v0.9h-0.9zM154.0 18.9h0.9v0.9h-0.9zM148.8 19.9h0.9v0.9h-0.9zM157.4 18.3h0.9v0.9h-0.9zM156.2 21.5h0.9v0.9h-0.9zM154.4 21.5h0.9v0.9h-0.9zM158.9 13.5h0.9v0.9h-0.9zM159.9 18.3h0.9v0.9h-0.9zM150.6 20.1h0.9v0.9h-0.9zM151.9 24.3h0.9v0.9h-0.9zM161.2 27.5h0.9v0.9h-0.9zM160.7 22.0h0.9v0.9h-0.9zM152.0 22.0h0.9v0.9h-0.9zM150.3 16.9h0.9v0.9h-0.9zM152.4 16.8h0.9v0.9h-0.9zM153.0 15.3h0.9v0.9h-0.9zM148.7 28.5h0.9v0.9h-0.9zM155.1 18.4h0.9v0.9h-0.9zM149.9 24.8h0.9v0.9h-0.9zM150.2 21.6h0.9v0.9h-0.9zM158.7 20.6h0.9v0.9h-0.9zM152.3 29.8h0.9v0.9h-0.9zM154.7 19.0h0.9v0.9h-0.9zM157.5 19.2h0.9v0.9h-0.9zM158.3 16.7h0.9v0.9h-0.9zM153.7 26.7h0.9v0.9h-0.9zM155.2 17.2h0.9v0.9h-0.9zM151.7 18.5h0.9v0.9h-0.9zM162.0 12.1h0.9v0.9h-0.9zM157.6 14.2h0.9v0.9h-0.9zM150.6 26.4h0.9v0.9h-0.9zM155.0 33.8h0.9v0.9h-0.9zM157.9 16.0h0.9v0.9h-0.9zM156.9 25.4h0.9v0.9h-0.9zM162.3 19.5h0.9v0.9h-0.9zM160.5 14.2h0.9v0.9h-0.9zM151.0 32.1h0.9v0.9h-0.9zM151.2 35.3h0.9v0.9h-0.9zM149.6 37.1h0.9v0.9h-0.9zM158.8 34.2h0.9v0.9h-0.9zM145.3 29.6h0.9v0.9h-0.9zM153.3 29.1h0.9v0.9h-0.9zM153.2 41.3h0.9v0.9h-0.9zM150.0 31.6h0.9v0.9h-0.9zM152.5 31.5h0.9v0.9h-0.9zM155.1 40.3h0.9v0.9h-0.9zM152.5 38.4h0.9v0.9h-0.9zM153.5 35.7h0.9v0.9h-0.9zM154.4 31.0h0.9v0.9h-0.9zM144.9 44.8h0.9v0.9h-0.9zM157.2 35.0h0.9v0.9h-0.9zM160.0 35.7h0.9v0.9h-0.9zM155.4 32.1h0.9v0.9h-0.9zM155.5 25.9h0.9v0.9h-0.9zM147.1 26.3h0.9v0.9h-0.9zM151.6 35.0h0.9v0.9h-0.9zM149.2 35.0h0.9v0.9h-0.9zM149.9 31.8h0.9v0.9h-0.9zM155.4 27.1h0.9v0.9h-0.9zM149.2 25.8h0.9v0.9h-0.9zM151.5 31.4h0.9v0.9h-0.9zM145.3 25.7h0.9v0.9h-0.9zM151.4 37.5h0.9v0.9h-0.9zM152.3 38.8h0.9v0.9h-0.9zM149.5 47.1h0.9v0.9h-0.9zM149.5 37.4h0.9v0.9h-0.9zM158.6 30.0h0.9v0.9h-0.9zM147.8 28.6h0.9v0.9h-0.9zM148.3 15.7h0.9v0.9h-0.9zM149.2 30.0h0.9v0.9h-0.9zM156.2 32.1h0.9v0.9h-0.9zM159.4 37.8h0.9v0.9h-0.9zM153.2 36.1h0.9v0.9h-0.9zM149.5 35.9h0.9v0.9h-0.9zM150.5 34.1h0.9v0.9h-0.9zM155.7 36.3h0.9v0.9h-0.9zM148.8 40.2h0.9v0.9h-0.9zM157.1 27.7h0.9v0.9h-0.9zM157.0 30.7h0.9v0.9h-0.9zM152.2 26.1h0.9v0.9h-0.9zM154.3 41.1h0.9v0.9h-0.9zM154.6 39.5h0.9v0.9h-0.9zM157.4 36.8h0.9v0.9h-0.9zM148.3 27.0h0.9v0.9h-0.9zM156.1 33.9h0.9v0.9h-0.9zM150.7 31.8h0.9v0.9h-0.9zM149.3 33.4h0.9v0.9h-0.9zM152.4 32.1h0.9v0.9h-0.9zM151.2 35.6h0.9v0.9h-0.9zM148.5 31.0h0.9v0.9h-0.9zM146.4 37.3h0.9v0.9h-0.9zM148.7 34.2h0.9v0.9h-0.9zM157.1 31.5h0.9v0.9h-0.9zM158.9 32.4h0.9v0.9h-0.9zM154.3 30.8h0.9v0.9h-0.9zM156.2 37.1h0.9v0.9h-0.9zM150.2 31.6h0.9v0.9h-0.9zM151.7 34.5h0.9v0.9h-0.9zM153.0 31.0h0.9v0.9h-0.9zM148.2 25.6h0.9v0.9h-0.9zM148.5 37.5h0.9v0.9h-0.9zM152.3 27.7h0.9v0.9h-0.9zM150.9 36.4h0.9v0.9h-0.9zM148.3 35.1h0.9v0.9h-0.9zM153.4 24.7h0.9v0.9h-0.9zM151.1 28.3h0.9v0.9h-0.9zM155.6 30.4h0.9v0.9h-0.9zM152.0 28.9h0.9v0.9h-0.9zM150.9 27.1h0.9v0.9h-0.9zM152.4 36.7h0.9v0.9h-0.9zM151.4 31.8h0.9v0.9h-0.9zM149.7 34.9h0.9v0.9h-0.9zM150.6 30.8h0.9v0.9h-0.9zM154.6 34.5h0.9v0.9h-0.9zM154.3 29.2h0.9v0.9h-0.9zM156.5 32.9h0.9v0.9h-0.9zM146.1 35.9h0.9v0.9h-0.9zM150.6 33.2h0.9v0.9h-0.9zM150.5 30.7h0.9v0.9h-0.9zM152.6 27.6h0.9v0.9h-0.9zM150.4 33.8h0.9v0.9h-0.9zM150.2 34.7h0.9v0.9h-0.9zM154.7 31.7h0.9v0.9h-0.9zM152.6 29.2h0.9v0.9h-0.9zM147.9 35.7h0.9v0.9h-0.9zM156.7 45.4h0.9v0.9h-0.9zM155.5 31.5h0.9v0.9h-0.9zM150.0 34.7h0.9v0.9h-0.9zM154.9 34.9h0.9v0.9h-0.9zM149.4 20.2h0.9v0.9h-0.9zM155.9 33.6h0.9v0.9h-0.9zM151.2 29.5h0.9v0.9h-0.9zM149.2 39.9h0.9v0.9h-0.9zM150.7 31.7h0.9v0.9h-0.9zM149.3 29.1h0.9v0.9h-0.9zM152.7 31.9h0.9v0.9h-0.9zM152.6 33.8h0.9v0.9h-0.9zM152.1 30.2h0.9v0.9h-0.9zM150.1 32.7h0.9v0.9h-0.9zM139.2 26.2h0.9v0.9h-0.9zM152.3 31.9h0.9v0.9h-0.9zM145.4 36.9h0.9v0.9h-0.9zM152.9 42.8h0.9v0.9h-0.9zM156.0 36.5h0.9v0.9h-0.9zM153.0 34.4h0.9v0.9h-0.9zM150.6 38.9h0.9v0.9h-0.9zM151.4 38.1h0.9v0.9h-0.9zM151.5 41.3h0.9v0.9h-0.9zM150.1 38.4h0.9v0.9h-0.9zM150.0 32.4h0.9v0.9h-0.9zM148.8 34.3h0.9v0.9h-0.9zM156.2 33.9h0.9v0.9h-0.9zM151.9 34.5h0.9v0.9h-0.9zM155.3 34.0h0.9v0.9h-0.9zM151.1 29.1h0.9v0.9h-0.9zM152.3 22.5h0.9v0.9h-0.9zM153.0 52.0h0.9v0.9h-0.9zM148.9 51.3h0.9v0.9h-0.9zM155.2 51.2h0.9v0.9h-0.9zM155.0 51.9h0.9v0.9h-0.9zM157.1 47.8h0.9v0.9h-0.9zM157.6 51.8h0.9v0.9h-0.9zM155.3 45.0h0.9v0.9h-0.9zM160.0 46.6h0.9v0.9h-0.9zM160.6 52.2h0.9v0.9h-0.9zM151.4 49.6h0.9v0.9h-0.9zM158.1 42.7h0.9v0.9h-0.9zM156.3 49.4h0.9v0.9h-0.9zM156.3 47.3h0.9v0.9h-0.9zM157.8 44.7h0.9v0.9h-0.9zM152.8 49.7h0.9v0.9h-0.9zM153.2 46.4h0.9v0.9h-0.9zM152.5 41.7h0.9v0.9h-0.9zM152.7 43.6h0.9v0.9h-0.9zM150.6 41.9h0.9v0.9h-0.9zM151.9 48.9h0.9v0.9h-0.9zM156.7 50.4h0.9v0.9h-0.9zM154.8 50.6h0.9v0.9h-0.9zM156.1 43.1h0.9v0.9h-0.9zM149.3 46.7h0.9v0.9h-0.9zM152.6 48.6h0.9v0.9h-0.9zM153.3 51.2h0.9v0.9h-0.9zM155.1 45.4h0.9v0.9h-0.9zM153.2 43.3h0.9v0.9h-0.9zM157.8 52.0h0.9v0.9h-0.9zM154.8 52.4h0.9v0.9h-0.9zM155.1 49.5h0.9v0.9h-0.9zM155.0 45.6h0.9v0.9h-0.9zM157.1 49.6h0.9v0.9h-0.9zM153.6 48.4h0.9v0.9h-0.9zM158.4 51.4h0.9v0.9h-0.9zM156.4 43.0h0.9v0.9h-0.9zM155.5 48.5h0.9v0.9h-0.9zM155.1 47.4h0.9v0.9h-0.9zM156.6 43.6h0.9v0.9h-0.9zM158.0 48.9h0.9v0.9h-0.9zM157.8 48.1h0.9v0.9h-0.9zM156.1 46.4h0.9v0.9h-0.9zM157.6 49.6h0.9v0.9h-0.9zM155.4 42.3h0.9v0.9h-0.9zM158.8 47.8h0.9v0.9h-0.9zM154.9 49.7h0.9v0.9h-0.9zM148.8 49.1h0.9v0.9h-0.9zM159.0 52.3h0.9v0.9h-0.9zM155.3 43.2h0.9v0.9h-0.9zM151.5 42.0h0.9v0.9h-0.9zM154.4 49.0h0.9v0.9h-0.9zM152.3 49.8h0.9v0.9h-0.9zM156.5 50.5h0.9v0.9h-0.9zM150.3 44.5h0.9v0.9h-0.9zM156.6 51.2h0.9v0.9h-0.9zM153.8 44.6h0.9v0.9h-0.9zM160.8 42.1h0.9v0.9h-0.9zM148.3 49.3h0.9v0.9h-0.9zM155.2 50.9h0.9v0.9h-0.9zM154.0 50.3h0.9v0.9h-0.9zM148.6 49.1h0.9v0.9h-0.9zM156.3 52.9h0.9v0.9h-0.9zM160.0 43.9h0.9v0.9h-0.9zM149.3 42.4h0.9v0.9h-0.9zM158.5 53.7h0.9v0.9h-0.9zM153.3 53.9h0.9v0.9h-0.9zM162.0 50.0h0.9v0.9h-0.9zM156.3 48.9h0.9v0.9h-0.9zM154.4 48.7h0.9v0.9h-0.9zM158.3 45.2h0.9v0.9h-0.9zM153.2 50.6h0.9v0.9h-0.9zM157.1 50.0h0.9v0.9h-0.9zM153.5 49.5h0.9v0.9h-0.9zM149.6 52.2h0.9v0.9h-0.9zM161.1 50.0h0.9v0.9h-0.9zM154.0 51.0h0.9v0.9h-0.9zM153.2 43.3h0.9v0.9h-0.9zM156.0 50.0h0.9v0.9h-0.9zM150.9 45.9h0.9v0.9h-0.9zM153.5 47.5h0.9v0.9h-0.9zM153.4 51.6h0.9v0.9h-0.9zM155.2 51.8h0.9v0.9h-0.9zM158.4 50.5h0.9v0.9h-0.9zM153.6 41.5h0.9v0.9h-0.9zM156.5 50.0h0.9v0.9h-0.9zM156.8 43.3h0.9v0.9h-0.9zM151.7 44.7h0.9v0.9h-0.9zM155.7 50.2h0.9v0.9h-0.9zM152.2 46.8h0.9v0.9h-0.9zM158.2 51.2h0.9v0.9h-0.9zM155.0 51.1h0.9v0.9h-0.9zM151.0 50.9h0.9v0.9h-0.9zM155.3 44.4h0.9v0.9h-0.9zM152.7 45.4h0.9v0.9h-0.9zM157.1 43.7h0.9v0.9h-0.9zM154.6 45.9h0.9v0.9h-0.9zM152.6 43.6h0.9v0.9h-0.9zM157.8 45.4h0.9v0.9h-0.9zM157.2 47.2h0.9v0.9h-0.9zM153.2 44.0h0.9v0.9h-0.9zM158.5 42.3h0.9v0.9h-0.9zM154.1 42.6h0.9v0.9h-0.9zM154.1 49.8h0.9v0.9h-0.9zM155.4 48.2h0.9v0.9h-0.9zM152.7 52.1h0.9v0.9h-0.9zM153.7 52.2h0.9v0.9h-0.9zM154.5 46.6h0.9v0.9h-0.9zM159.6 50.7h0.9v0.9h-0.9zM159.5 42.2h0.9v0.9h-0.9zM159.8 52.8h0.9v0.9h-0.9zM154.9 47.1h0.9v0.9h-0.9zM156.1 43.3h0.9v0.9h-0.9zM157.7 49.5h0.9v0.9h-0.9zM155.9 40.5h0.9v0.9h-0.9zM162.2 44.9h0.9v0.9h-0.9zM155.7 51.0h0.9v0.9h-0.9zM151.4 48.3h0.9v0.9h-0.9zM158.9 46.0h0.9v0.9h-0.9zM153.8 51.8h0.9v0.9h-0.9zM154.1 43.8h0.9v0.9h-0.9zM146.0 49.1h0.9v0.9h-0.9zM132.5 26.7h0.9v0.9h-0.9zM130.8 30.1h0.9v0.9h-0.9zM137.3 31.3h0.9v0.9h-0.9zM130.0 29.3h0.9v0.9h-0.9zM144.5 29.3h0.9v0.9h-0.9zM132.1 22.0h0.9v0.9h-0.9zM144.9 15.1h0.9v0.9h-0.9zM129.5 24.9h0.9v0.9h-0.9zM138.0 22.3h0.9v0.9h-0.9zM129.0 24.1h0.9v0.9h-0.9zM128.3 26.4h0.9v0.9h-0.9zM135.8 20.5h0.9v0.9h-0.9zM138.4 21.3h0.9v0.9h-0.9zM128.6 27.4h0.9v0.9h-0.9zM140.9 28.7h0.9v0.9h-0.9zM131.0 24.1h0.9v0.9h-0.9zM135.7 31.0h0.9v0.9h-0.9zM136.9 26.7h0.9v0.9h-0.9zM138.0 21.9h0.9v0.9h-0.9zM126.0 28.2h0.9v0.9h-0.9zM143.1 39.3h0.9v0.9h-0.9zM137.8 24.0h0.9v0.9h-0.9zM132.9 35.0h0.9v0.9h-0.9zM129.9 36.3h0.9v0.9h-0.9zM126.5 37.0h0.9v0.9h-0.9zM128.2 23.1h0.9v0.9h-0.9zM137.7 40.1h0.9v0.9h-0.9zM133.3 28.7h0.9v0.9h-0.9zM129.3 26.5h0.9v0.9h-0.9zM132.4 26.6h0.9v0.9h-0.9zM142.8 31.6h0.9v0.9h-0.9zM133.3 28.3h0.9v0.9h-0.9zM132.1 26.9h0.9v0.9h-0.9zM141.8 35.7h0.9v0.9h-0.9zM137.3 23.7h0.9v0.9h-0.9zM135.2 21.7h0.9v0.9h-0.9zM132.0 32.8h0.9v0.9h-0.9zM127.2 32.2h0.9v0.9h-0.9zM129.1 34.6h0.9v0.9h-0.9zM132.6 21.6h0.9v0.9h-0.9z" fill="#3a3a3a" stroke="none" stroke-width="1" fill-opacity="0.6"/>
<rect x="112.30" y="9.00" width="57.00" height="46.60" fill="none" stroke="#333" stroke-width="1.1"/>
<line x1="142.40" y1="9.00" x2="142.40" y2="55.60" stroke="#222" stroke-width="1.1"/>
<line x1="112.30" y1="41.00" x2="169.30" y2="41.00" stroke="#222" stroke-width="1.1"/>
<text x="113.60" y="48.26" font-size="8.3" font-weight="bold" stroke="#000" stroke-width="0.3" text-anchor="start" fill="#000">42</text>
<g clip-path="url(#c171_9)"><ellipse cx="188.5" cy="50.5" rx="10.5" ry="4.5" fill="#505050" fill-opacity="0.85" filter="url(#b2)" transform="rotate(0 188.5 50.5)"/></g>
<g clip-path="url(#c171_9)"><ellipse cx="213" cy="24" rx="6" ry="8.5" fill="#555" fill-opacity="0.6" filter="url(#b2)" transform="rotate(30 213 24)"/></g>
<g clip-path="url(#c171_9)"><ellipse cx="209" cy="36" rx="4" ry="6" fill="#777" fill-opacity="0.45" filter="url(#b2)" transform="rotate(0 209 36)"/></g>
<g clip-path="url(#c171_9)"><ellipse cx="212" cy="49" rx="4" ry="5" fill="#777" fill-opacity="0.4" filter="url(#b2)" transform="rotate(0 212 49)"/></g>
<path d="M195.5 49.2h0.9v0.9h-0.9zM200.0 50.2h0.9v0.9h-0.9zM180.4 48.6h0.9v0.9h-0.9zM189.9 49.4h0.9v0.9h-0.9zM186.7 47.6h0.9v0.9h-0.9zM178.2 50.3h0.9v0.9h-0.9zM183.9 49.6h0.9v0.9h-0.9zM185.5 51.6h0.9v0.9h-0.9zM183.8 51.2h0.9v0.9h-0.9zM194.1 49.9h0.9v0.9h-0.9zM194.9 46.2h0.9v0.9h-0.9zM194.9 50.4h0.9v0.9h-0.9zM183.4 46.8h0.9v0.9h-0.9zM188.1 52.9h0.9v0.9h-0.9zM195.2 50.6h0.9v0.9h-0.9zM184.2 54.8h0.9v0.9h-0.9zM183.6 51.8h0.9v0.9h-0.9zM193.9 53.1h0.9v0.9h-0.9zM198.7 51.7h0.9v0.9h-0.9zM181.0 49.9h0.9v0.9h-0.9zM171.6 50.4h0.9v0.9h-0.9zM179.1 52.0h0.9v0.9h-0.9zM181.9 47.1h0.9v0.9h-0.9zM187.6 51.5h0.9v0.9h-0.9zM187.5 49.6h0.9v0.9h-0.9zM183.9 48.8h0.9v0.9h-0.9zM189.5 47.9h0.9v0.9h-0.9zM182.2 44.8h0.9v0.9h-0.9zM188.2 53.7h0.9v0.9h-0.9zM184.3 49.8h0.9v0.9h-0.9zM205.9 52.7h0.9v0.9h-0.9zM182.0 46.6h0.9v0.9h-0.9zM185.7 53.0h0.9v0.9h-0.9zM177.8 50.9h0.9v0.9h-0.9zM183.8 50.8h0.9v0.9h-0.9zM183.7 51.0h0.9v0.9h-0.9zM194.2 50.5h0.9v0.9h-0.9zM185.7 54.7h0.9v0.9h-0.9zM183.4 51.4h0.9v0.9h-0.9zM179.8 50.2h0.9v0.9h-0.9zM180.9 53.2h0.9v0.9h-0.9zM188.1 52.8h0.9v0.9h-0.9zM187.1 51.3h0.9v0.9h-0.9zM195.9 51.8h0.9v0.9h-0.9zM195.4 52.3h0.9v0.9h-0.9zM190.2 49.9h0.9v0.9h-0.9zM188.5 47.3h0.9v0.9h-0.9zM175.4 47.6h0.9v0.9h-0.9zM180.1 45.9h0.9v0.9h-0.9zM193.3 50.8h0.9v0.9h-0.9zM197.6 51.7h0.9v0.9h-0.9zM189.8 43.7h0.9v0.9h-0.9zM193.5 50.6h0.9v0.9h-0.9zM185.8 51.8h0.9v0.9h-0.9zM186.1 50.3h0.9v0.9h-0.9zM184.2 46.6h0.9v0.9h-0.9zM194.8 54.6h0.9v0.9h-0.9zM190.7 48.0h0.9v0.9h-0.9zM187.0 46.0h0.9v0.9h-0.9zM186.4 46.4h0.9v0.9h-0.9zM192.1 50.3h0.9v0.9h-0.9zM190.6 53.3h0.9v0.9h-0.9zM183.1 53.1h0.9v0.9h-0.9zM199.7 51.8h0.9v0.9h-0.9zM190.2 46.4h0.9v0.9h-0.9zM188.6 48.0h0.9v0.9h-0.9zM198.1 48.1h0.9v0.9h-0.9zM195.2 50.1h0.9v0.9h-0.9zM187.9 44.4h0.9v0.9h-0.9zM192.0 50.7h0.9v0.9h-0.9zM181.5 51.3h0.9v0.9h-0.9zM184.3 49.1h0.9v0.9h-0.9zM173.8 50.0h0.9v0.9h-0.9zM196.4 47.8h0.9v0.9h-0.9zM176.2 44.2h0.9v0.9h-0.9zM192.9 48.4h0.9v0.9h-0.9zM183.1 53.1h0.9v0.9h-0.9zM182.1 52.6h0.9v0.9h-0.9zM187.2 48.4h0.9v0.9h-0.9zM190.2 53.9h0.9v0.9h-0.9zM192.5 49.4h0.9v0.9h-0.9zM190.8 51.7h0.9v0.9h-0.9zM194.2 49.1h0.9v0.9h-0.9zM184.6 52.1h0.9v0.9h-0.9zM193.1 48.0h0.9v0.9h-0.9zM189.5 47.2h0.9v0.9h-0.9zM185.5 45.2h0.9v0.9h-0.9zM187.9 50.7h0.9v0.9h-0.9zM188.1 49.8h0.9v0.9h-0.9zM189.7 49.9h0.9v0.9h-0.9zM191.1 49.0h0.9v0.9h-0.9zM185.2 54.2h0.9v0.9h-0.9zM183.7 48.2h0.9v0.9h-0.9zM193.4 48.2h0.9v0.9h-0.9zM177.5 52.8h0.9v0.9h-0.9zM184.5 54.1h0.9v0.9h-0.9zM198.6 52.1h0.9v0.9h-0.9zM184.0 47.7h0.9v0.9h-0.9zM193.0 52.4h0.9v0.9h-0.9zM177.8 49.0h0.9v0.9h-0.9zM171.7 44.1h0.9v0.9h-0.9zM197.8 53.0h0.9v0.9h-0.9zM198.6 49.0h0.9v0.9h-0.9zM194.5 54.7h0.9v0.9h-0.9zM187.1 49.6h0.9v0.9h-0.9zM190.8 53.5h0.9v0.9h-0.9zM182.7 47.4h0.9v0.9h-0.9zM193.8 46.1h0.9v0.9h-0.9zM181.2 45.8h0.9v0.9h-0.9zM186.7 47.9h0.9v0.9h-0.9zM195.0 47.4h0.9v0.9h-0.9zM181.3 53.1h0.9v0.9h-0.9zM186.1 54.0h0.9v0.9h-0.9zM189.6 51.0h0.9v0.9h-0.9zM179.8 45.9h0.9v0.9h-0.9zM196.1 50.4h0.9v0.9h-0.9zM190.7 48.1h0.9v0.9h-0.9zM178.6 53.6h0.9v0.9h-0.9zM188.2 51.0h0.9v0.9h-0.9zM183.5 51.0h0.9v0.9h-0.9zM184.2 48.3h0.9v0.9h-0.9zM189.0 43.7h0.9v0.9h-0.9zM183.9 47.1h0.9v0.9h-0.9zM194.8 47.1h0.9v0.9h-0.9zM183.9 50.7h0.9v0.9h-0.9zM194.9 50.9h0.9v0.9h-0.9zM188.2 47.5h0.9v0.9h-0.9zM194.1 49.3h0.9v0.9h-0.9zM185.0 54.6h0.9v0.9h-0.9zM185.2 46.7h0.9v0.9h-0.9zM181.0 46.4h0.9v0.9h-0.9zM192.3 49.7h0.9v0.9h-0.9zM194.6 48.4h0.9v0.9h-0.9zM202.3 50.0h0.9v0.9h-0.9zM196.9 52.5h0.9v0.9h-0.9zM187.1 44.3h0.9v0.9h-0.9zM191.0 50.2h0.9v0.9h-0.9zM188.3 50.1h0.9v0.9h-0.9zM198.0 50.7h0.9v0.9h-0.9zM194.6 50.0h0.9v0.9h-0.9zM183.1 48.4h0.9v0.9h-0.9zM184.0 52.7h0.9v0.9h-0.9zM197.4 49.4h0.9v0.9h-0.9zM190.5 49.8h0.9v0.9h-0.9zM187.0 49.9h0.9v0.9h-0.9zM196.2 51.1h0.9v0.9h-0.9zM186.0 49.2h0.9v0.9h-0.9zM186.7 53.0h0.9v0.9h-0.9zM185.5 49.7h0.9v0.9h-0.9zM175.7 49.3h0.9v0.9h-0.9zM194.1 50.4h0.9v0.9h-0.9zM180.6 46.1h0.9v0.9h-0.9zM184.8 47.0h0.9v0.9h-0.9zM183.7 46.2h0.9v0.9h-0.9zM193.2 51.1h0.9v0.9h-0.9zM188.1 47.7h0.9v0.9h-0.9zM188.6 46.7h0.9v0.9h-0.9zM177.6 49.7h0.9v0.9h-0.9zM187.9 51.6h0.9v0.9h-0.9zM178.9 43.5h0.9v0.9h-0.9zM190.9 50.3h0.9v0.9h-0.9zM188.4 49.7h0.9v0.9h-0.9zM201.8 54.7h0.9v0.9h-0.9zM191.9 50.6h0.9v0.9h-0.9zM192.4 48.5h0.9v0.9h-0.9zM187.2 46.5h0.9v0.9h-0.9zM194.8 50.3h0.9v0.9h-0.9zM195.7 53.4h0.9v0.9h-0.9zM180.0 45.8h0.9v0.9h-0.9zM195.4 50.4h0.9v0.9h-0.9zM191.8 51.5h0.9v0.9h-0.9zM191.5 47.5h0.9v0.9h-0.9zM180.4 49.1h0.9v0.9h-0.9zM180.9 51.3h0.9v0.9h-0.9zM200.4 51.4h0.9v0.9h-0.9zM190.1 46.4h0.9v0.9h-0.9zM179.3 50.4h0.9v0.9h-0.9zM190.8 50.6h0.9v0.9h-0.9zM186.1 51.2h0.9v0.9h-0.9zM176.5 52.4h0.9v0.9h-0.9zM173.6 51.7h0.9v0.9h-0.9zM178.1 50.3h0.9v0.9h-0.9zM190.3 51.1h0.9v0.9h-0.9zM188.2 46.5h0.9v0.9h-0.9zM186.9 49.4h0.9v0.9h-0.9zM190.4 50.9h0.9v0.9h-0.9zM192.4 49.1h0.9v0.9h-0.9zM174.8 49.0h0.9v0.9h-0.9zM186.5 47.2h0.9v0.9h-0.9zM183.1 54.3h0.9v0.9h-0.9zM184.9 48.4h0.9v0.9h-0.9zM187.7 51.2h0.9v0.9h-0.9zM186.8 49.1h0.9v0.9h-0.9zM179.0 53.0h0.9v0.9h-0.9zM185.4 51.1h0.9v0.9h-0.9zM201.6 51.5h0.9v0.9h-0.9zM181.6 48.6h0.9v0.9h-0.9zM177.5 49.3h0.9v0.9h-0.9zM190.3 47.0h0.9v0.9h-0.9zM192.4 52.5h0.9v0.9h-0.9zM191.5 48.1h0.9v0.9h-0.9zM181.2 51.0h0.9v0.9h-0.9zM195.0 51.0h0.9v0.9h-0.9zM183.4 52.9h0.9v0.9h-0.9zM181.1 49.2h0.9v0.9h-0.9zM184.5 52.8h0.9v0.9h-0.9zM187.8 47.0h0.9v0.9h-0.9zM193.1 52.4h0.9v0.9h-0.9zM192.6 49.7h0.9v0.9h-0.9zM188.4 50.6h0.9v0.9h-0.9zM194.6 50.8h0.9v0.9h-0.9zM189.0 53.0h0.9v0.9h-0.9zM194.3 44.2h0.9v0.9h-0.9zM179.4 50.1h0.9v0.9h-0.9zM178.3 44.3h0.9v0.9h-0.9zM193.5 54.3h0.9v0.9h-0.9zM179.5 42.9h0.9v0.9h-0.9zM186.5 46.7h0.9v0.9h-0.9zM187.9 44.7h0.9v0.9h-0.9zM185.3 54.8h0.9v0.9h-0.9zM185.6 45.7h0.9v0.9h-0.9zM197.6 51.2h0.9v0.9h-0.9zM172.1 46.7h0.9v0.9h-0.9zM194.2 44.9h0.9v0.9h-0.9zM203.4 50.4h0.9v0.9h-0.9zM188.7 52.1h0.9v0.9h-0.9zM188.4 49.4h0.9v0.9h-0.9zM193.2 53.4h0.9v0.9h-0.9zM200.4 50.0h0.9v0.9h-0.9zM180.8 49.3h0.9v0.9h-0.9zM189.1 48.8h0.9v0.9h-0.9zM187.3 51.0h0.9v0.9h-0.9zM189.5 51.2h0.9v0.9h-0.9zM192.8 51.0h0.9v0.9h-0.9zM185.8 47.8h0.9v0.9h-0.9zM188.8 47.7h0.9v0.9h-0.9zM184.1 54.2h0.9v0.9h-0.9zM184.2 46.1h0.9v0.9h-0.9zM187.6 47.0h0.9v0.9h-0.9zM187.6 49.6h0.9v0.9h-0.9zM180.9 47.9h0.9v0.9h-0.9zM187.6 42.5h0.9v0.9h-0.9zM179.5 50.2h0.9v0.9h-0.9zM195.7 52.9h0.9v0.9h-0.9zM183.6 46.0h0.9v0.9h-0.9zM191.8 48.3h0.9v0.9h-0.9zM188.4 51.3h0.9v0.9h-0.9zM189.6 47.2h0.9v0.9h-0.9zM184.8 44.7h0.9v0.9h-0.9zM188.8 53.1h0.9v0.9h-0.9zM174.0 47.5h0.9v0.9h-0.9zM188.9 43.1h0.9v0.9h-0.9zM191.3 54.8h0.9v0.9h-0.9zM181.7 48.7h0.9v0.9h-0.9zM179.6 52.6h0.9v0.9h-0.9zM202.5 51.2h0.9v0.9h-0.9zM186.1 48.6h0.9v0.9h-0.9zM202.0 49.9h0.9v0.9h-0.9zM192.0 55.0h0.9v0.9h-0.9zM189.0 54.5h0.9v0.9h-0.9zM191.6 43.6h0.9v0.9h-0.9zM192.6 47.5h0.9v0.9h-0.9zM191.3 49.1h0.9v0.9h-0.9zM189.4 45.8h0.9v0.9h-0.9zM189.6 50.1h0.9v0.9h-0.9zM197.3 50.5h0.9v0.9h-0.9zM193.8 50.2h0.9v0.9h-0.9zM182.0 47.9h0.9v0.9h-0.9zM184.4 48.6h0.9v0.9h-0.9zM190.6 48.8h0.9v0.9h-0.9zM184.5 50.6h0.9v0.9h-0.9zM186.1 47.2h0.9v0.9h-0.9zM182.3 48.5h0.9v0.9h-0.9zM186.8 49.4h0.9v0.9h-0.9zM191.3 54.4h0.9v0.9h-0.9zM195.0 51.8h0.9v0.9h-0.9zM188.6 49.7h0.9v0.9h-0.9zM202.0 53.0h0.9v0.9h-0.9zM188.0 51.2h0.9v0.9h-0.9zM195.0 52.2h0.9v0.9h-0.9zM185.3 53.9h0.9v0.9h-0.9zM187.5 48.6h0.9v0.9h-0.9zM189.7 52.9h0.9v0.9h-0.9zM201.0 52.9h0.9v0.9h-0.9zM179.5 48.8h0.9v0.9h-0.9zM200.9 46.6h0.9v0.9h-0.9zM186.9 44.1h0.9v0.9h-0.9zM193.2 51.6h0.9v0.9h-0.9zM172.0 50.8h0.9v0.9h-0.9zM189.4 52.6h0.9v0.9h-0.9zM186.3 45.7h0.9v0.9h-0.9zM192.9 53.7h0.9v0.9h-0.9zM189.1 48.4h0.9v0.9h-0.9zM181.1 50.5h0.9v0.9h-0.9zM194.7 51.9h0.9v0.9h-0.9zM193.0 47.9h0.9v0.9h-0.9zM192.4 48.5h0.9v0.9h-0.9zM195.1 44.1h0.9v0.9h-0.9zM195.7 47.8h0.9v0.9h-0.9zM188.4 44.3h0.9v0.9h-0.9zM179.7 50.5h0.9v0.9h-0.9zM179.5 49.3h0.9v0.9h-0.9zM197.3 53.7h0.9v0.9h-0.9zM193.1 51.6h0.9v0.9h-0.9zM189.2 48.1h0.9v0.9h-0.9zM185.7 50.8h0.9v0.9h-0.9zM188.7 48.8h0.9v0.9h-0.9zM188.7 51.9h0.9v0.9h-0.9zM186.3 50.8h0.9v0.9h-0.9zM184.0 46.5h0.9v0.9h-0.9zM202.6 51.4h0.9v0.9h-0.9zM190.0 50.3h0.9v0.9h-0.9zM184.6 48.6h0.9v0.9h-0.9zM180.0 52.0h0.9v0.9h-0.9zM183.8 54.9h0.9v0.9h-0.9zM193.2 49.3h0.9v0.9h-0.9zM193.4 49.4h0.9v0.9h-0.9zM187.1 42.8h0.9v0.9h-0.9zM188.8 49.6h0.9v0.9h-0.9zM186.5 48.4h0.9v0.9h-0.9zM181.3 42.5h0.9v0.9h-0.9zM197.0 51.7h0.9v0.9h-0.9zM190.9 52.1h0.9v0.9h-0.9zM204.6 49.3h0.9v0.9h-0.9zM183.6 48.3h0.9v0.9h-0.9zM187.6 46.9h0.9v0.9h-0.9zM194.2 53.0h0.9v0.9h-0.9zM186.9 45.1h0.9v0.9h-0.9zM179.5 48.1h0.9v0.9h-0.9zM189.2 50.2h0.9v0.9h-0.9zM190.7 51.7h0.9v0.9h-0.9zM187.9 49.5h0.9v0.9h-0.9zM195.0 47.0h0.9v0.9h-0.9zM195.0 50.5h0.9v0.9h-0.9zM190.6 51.5h0.9v0.9h-0.9zM188.7 46.8h0.9v0.9h-0.9zM186.9 50.9h0.9v0.9h-0.9zM192.1 54.3h0.9v0.9h-0.9zM194.5 53.9h0.9v0.9h-0.9zM188.9 45.1h0.9v0.9h-0.9zM191.4 47.2h0.9v0.9h-0.9zM186.4 44.7h0.9v0.9h-0.9zM179.3 52.5h0.9v0.9h-0.9zM182.0 51.3h0.9v0.9h-0.9zM193.5 52.7h0.9v0.9h-0.9zM191.4 47.5h0.9v0.9h-0.9zM198.8 47.4h0.9v0.9h-0.9zM188.9 50.3h0.9v0.9h-0.9zM194.1 50.9h0.9v0.9h-0.9zM197.1 48.2h0.9v0.9h-0.9zM195.0 51.1h0.9v0.9h-0.9zM184.5 51.6h0.9v0.9h-0.9zM187.3 50.6h0.9v0.9h-0.9zM189.3 46.8h0.9v0.9h-0.9zM182.1 42.7h0.9v0.9h-0.9zM191.6 49.5h0.9v0.9h-0.9zM195.2 51.2h0.9v0.9h-0.9zM211.8 27.8h0.9v0.9h-0.9zM211.1 27.7h0.9v0.9h-0.9zM209.9 18.3h0.9v0.9h-0.9zM216.2 27.2h0.9v0.9h-0.9zM212.8 21.6h0.9v0.9h-0.9zM213.6 21.4h0.9v0.9h-0.9zM208.6 34.9h0.9v0.9h-0.9zM210.2 30.1h0.9v0.9h-0.9zM213.7 21.9h0.9v0.9h-0.9zM208.5 17.9h0.9v0.9h-0.9zM207.3 28.2h0.9v0.9h-0.9zM211.5 27.5h0.9v0.9h-0.9zM218.4 20.3h0.9v0.9h-0.9zM213.9 17.5h0.9v0.9h-0.9zM219.6 16.2h0.9v0.9h-0.9zM212.4 18.4h0.9v0.9h-0.9zM211.6 25.9h0.9v0.9h-0.9zM206.7 31.7h0.9v0.9h-0.9zM210.4 30.5h0.9v0.9h-0.9zM219.5 16.6h0.9v0.9h-0.9zM214.5 24.2h0.9v0.9h-0.9zM216.3 24.6h0.9v0.9h-0.9zM216.2 19.6h0.9v0.9h-0.9zM213.0 23.3h0.9v0.9h-0.9zM212.1 34.7h0.9v0.9h-0.9zM213.5 24.6h0.9v0.9h-0.9zM216.0 26.4h0.9v0.9h-0.9zM215.1 20.7h0.9v0.9h-0.9zM215.2 22.8h0.9v0.9h-0.9zM213.7 15.4h0.9v0.9h-0.9zM209.5 26.0h0.9v0.9h-0.9zM211.8 30.4h0.9v0.9h-0.9zM208.8 36.6h0.9v0.9h-0.9zM217.5 26.9h0.9v0.9h-0.9zM203.5 33.1h0.9v0.9h-0.9zM212.0 24.9h0.9v0.9h-0.9zM223.7 14.6h0.9v0.9h-0.9zM211.5 24.2h0.9v0.9h-0.9zM207.9 30.0h0.9v0.9h-0.9zM212.9 20.3h0.9v0.9h-0.9zM218.8 24.9h0.9v0.9h-0.9zM212.3 19.8h0.9v0.9h-0.9zM215.8 13.8h0.9v0.9h-0.9zM213.4 18.9h0.9v0.9h-0.9zM211.3 17.1h0.9v0.9h-0.9zM213.3 29.2h0.9v0.9h-0.9zM210.6 24.5h0.9v0.9h-0.9zM210.8 26.4h0.9v0.9h-0.9zM214.7 28.5h0.9v0.9h-0.9zM214.8 28.9h0.9v0.9h-0.9zM216.5 19.5h0.9v0.9h-0.9zM213.6 29.9h0.9v0.9h-0.9zM206.6 29.8h0.9v0.9h-0.9zM215.4 22.6h0.9v0.9h-0.9zM211.6 27.0h0.9v0.9h-0.9zM211.7 18.0h0.9v0.9h-0.9zM206.3 24.3h0.9v0.9h-0.9zM210.4 25.1h0.9v0.9h-0.9zM209.7 28.9h0.9v0.9h-0.9zM212.8 22.3h0.9v0.9h-0.9zM206.5 27.4h0.9v0.9h-0.9zM213.2 28.5h0.9v0.9h-0.9zM213.6 30.4h0.9v0.9h-0.9zM208.0 30.7h0.9v0.9h-0.9zM210.2 31.8h0.9v0.9h-0.9zM209.1 24.4h0.9v0.9h-0.9zM217.1 20.0h0.9v0.9h-0.9zM201.6 32.5h0.9v0.9h-0.9zM211.5 23.5h0.9v0.9h-0.9zM205.5 26.2h0.9v0.9h-0.9zM211.1 33.1h0.9v0.9h-0.9zM216.8 20.7h0.9v0.9h-0.9zM210.2 21.1h0.9v0.9h-0.9zM213.6 25.9h0.9v0.9h-0.9zM209.2 35.1h0.9v0.9h-0.9zM221.7 19.1h0.9v0.9h-0.9zM217.1 27.4h0.9v0.9h-0.9zM218.1 18.8h0.9v0.9h-0.9zM207.0 25.3h0.9v0.9h-0.9zM208.0 23.7h0.9v0.9h-0.9zM217.9 20.3h0.9v0.9h-0.9zM212.1 33.3h0.9v0.9h-0.9zM211.8 19.2h0.9v0.9h-0.9zM214.5 30.9h0.9v0.9h-0.9zM207.4 22.6h0.9v0.9h-0.9zM216.5 20.8h0.9v0.9h-0.9zM213.1 27.9h0.9v0.9h-0.9zM215.2 25.7h0.9v0.9h-0.9zM210.0 27.2h0.9v0.9h-0.9zM215.3 14.7h0.9v0.9h-0.9zM209.8 27.7h0.9v0.9h-0.9zM217.3 16.5h0.9v0.9h-0.9zM218.1 33.1h0.9v0.9h-0.9zM217.1 20.5h0.9v0.9h-0.9zM215.3 23.5h0.9v0.9h-0.9zM215.9 16.8h0.9v0.9h-0.9zM200.8 29.2h0.9v0.9h-0.9zM216.8 15.6h0.9v0.9h-0.9zM211.8 29.4h0.9v0.9h-0.9zM213.4 22.5h0.9v0.9h-0.9zM211.7 27.5h0.9v0.9h-0.9zM206.7 24.6h0.9v0.9h-0.9zM210.6 23.1h0.9v0.9h-0.9zM216.0 28.3h0.9v0.9h-0.9zM219.4 15.5h0.9v0.9h-0.9zM210.2 17.1h0.9v0.9h-0.9zM208.9 28.4h0.9v0.9h-0.9zM219.5 14.6h0.9v0.9h-0.9zM209.0 24.3h0.9v0.9h-0.9zM222.3 22.6h0.9v0.9h-0.9zM213.2 20.0h0.9v0.9h-0.9zM209.0 30.6h0.9v0.9h-0.9zM217.4 18.0h0.9v0.9h-0.9zM220.6 26.4h0.9v0.9h-0.9zM206.5 34.3h0.9v0.9h-0.9zM220.0 17.5h0.9v0.9h-0.9zM211.7 23.8h0.9v0.9h-0.9zM219.7 15.9h0.9v0.9h-0.9zM211.3 26.0h0.9v0.9h-0.9zM205.9 33.8h0.9v0.9h-0.9zM215.3 15.7h0.9v0.9h-0.9zM217.2 25.8h0.9v0.9h-0.9zM222.4 11.9h0.9v0.9h-0.9zM220.8 15.2h0.9v0.9h-0.9zM216.1 13.6h0.9v0.9h-0.9zM211.9 34.7h0.9v0.9h-0.9zM210.7 25.7h0.9v0.9h-0.9zM211.7 26.0h0.9v0.9h-0.9zM209.3 23.1h0.9v0.9h-0.9zM211.8 29.8h0.9v0.9h-0.9zM201.5 21.0h0.9v0.9h-0.9zM213.8 23.6h0.9v0.9h-0.9zM212.9 34.6h0.9v0.9h-0.9zM224.5 15.1h0.9v0.9h-0.9zM216.4 22.0h0.9v0.9h-0.9zM210.8 28.5h0.9v0.9h-0.9zM215.5 18.6h0.9v0.9h-0.9zM207.5 27.5h0.9v0.9h-0.9zM210.3 30.2h0.9v0.9h-0.9zM204.6 30.1h0.9v0.9h-0.9zM219.5 21.8h0.9v0.9h-0.9zM215.7 20.7h0.9v0.9h-0.9zM207.7 28.7h0.9v0.9h-0.9zM212.7 24.4h0.9v0.9h-0.9zM217.3 28.3h0.9v0.9h-0.9zM215.2 26.1h0.9v0.9h-0.9zM214.7 21.8h0.9v0.9h-0.9zM209.1 14.7h0.9v0.9h-0.9zM210.1 29.2h0.9v0.9h-0.9zM213.4 27.3h0.9v0.9h-0.9zM217.1 17.1h0.9v0.9h-0.9zM209.3 16.8h0.9v0.9h-0.9zM208.0 21.6h0.9v0.9h-0.9zM218.1 25.3h0.9v0.9h-0.9zM208.8 21.5h0.9v0.9h-0.9zM217.8 18.8h0.9v0.9h-0.9zM214.1 24.4h0.9v0.9h-0.9zM217.0 27.4h0.9v0.9h-0.9zM220.8 19.1h0.9v0.9h-0.9zM216.1 21.6h0.9v0.9h-0.9zM216.5 19.3h0.9v0.9h-0.9zM208.9 34.3h0.9v0.9h-0.9zM209.9 31.0h0.9v0.9h-0.9zM215.9 21.8h0.9v0.9h-0.9zM219.9 13.1h0.9v0.9h-0.9zM219.3 16.4h0.9v0.9h-0.9zM223.4 20.4h0.9v0.9h-0.9zM214.4 19.7h0.9v0.9h-0.9zM213.9 27.7h0.9v0.9h-0.9zM217.5 23.0h0.9v0.9h-0.9zM213.1 25.3h0.9v0.9h-0.9zM212.7 27.3h0.9v0.9h-0.9zM208.3 29.3h0.9v0.9h-0.9zM217.5 17.2h0.9v0.9h-0.9zM208.2 25.4h0.9v0.9h-0.9zM215.3 33.7h0.9v0.9h-0.9zM206.6 22.1h0.9v0.9h-0.9zM217.9 18.7h0.9v0.9h-0.9zM208.4 31.9h0.9v0.9h-0.9zM216.8 20.9h0.9v0.9h-0.9zM205.8 24.5h0.9v0.9h-0.9zM211.0 18.9h0.9v0.9h-0.9zM218.3 23.3h0.9v0.9h-0.9zM209.4 31.1h0.9v0.9h-0.9zM213.3 30.5h0.9v0.9h-0.9zM210.8 25.6h0.9v0.9h-0.9zM202.6 35.3h0.9v0.9h-0.9zM214.4 18.2h0.9v0.9h-0.9zM214.9 23.6h0.9v0.9h-0.9zM208.0 23.8h0.9v0.9h-0.9zM215.6 23.3h0.9v0.9h-0.9zM209.4 29.8h0.9v0.9h-0.9zM208.5 31.9h0.9v0.9h-0.9zM213.0 19.3h0.9v0.9h-0.9zM209.9 31.9h0.9v0.9h-0.9zM223.3 15.4h0.9v0.9h-0.9zM206.0 23.4h0.9v0.9h-0.9zM216.3 21.2h0.9v0.9h-0.9zM217.5 14.3h0.9v0.9h-0.9zM204.1 29.5h0.9v0.9h-0.9zM205.2 30.1h0.9v0.9h-0.9zM215.5 21.5h0.9v0.9h-0.9zM210.8 27.9h0.9v0.9h-0.9zM214.7 21.4h0.9v0.9h-0.9zM218.1 20.9h0.9v0.9h-0.9zM211.3 18.2h0.9v0.9h-0.9zM208.2 27.1h0.9v0.9h-0.9zM200.7 27.5h0.9v0.9h-0.9zM213.9 21.3h0.9v0.9h-0.9zM208.8 26.1h0.9v0.9h-0.9zM214.4 24.0h0.9v0.9h-0.9zM214.0 15.5h0.9v0.9h-0.9zM206.8 20.4h0.9v0.9h-0.9zM220.8 17.8h0.9v0.9h-0.9zM217.9 23.3h0.9v0.9h-0.9zM216.8 23.4h0.9v0.9h-0.9zM207.7 31.5h0.9v0.9h-0.9zM211.2 31.3h0.9v0.9h-0.9zM210.5 27.9h0.9v0.9h-0.9zM211.1 25.0h0.9v0.9h-0.9zM207.9 22.2h0.9v0.9h-0.9zM215.0 18.3h0.9v0.9h-0.9zM214.0 21.1h0.9v0.9h-0.9zM214.6 24.3h0.9v0.9h-0.9zM210.7 26.4h0.9v0.9h-0.9zM218.8 20.5h0.9v0.9h-0.9zM213.8 22.8h0.9v0.9h-0.9zM200.7 34.5h0.9v0.9h-0.9zM210.1 26.8h0.9v0.9h-0.9zM212.7 25.6h0.9v0.9h-0.9zM217.3 22.8h0.9v0.9h-0.9zM211.6 22.2h0.9v0.9h-0.9zM211.9 19.8h0.9v0.9h-0.9zM210.0 28.2h0.9v0.9h-0.9zM216.0 24.2h0.9v0.9h-0.9zM211.0 24.2h0.9v0.9h-0.9zM210.3 23.7h0.9v0.9h-0.9zM209.7 36.9h0.9v0.9h-0.9zM215.5 18.9h0.9v0.9h-0.9zM210.6 24.4h0.9v0.9h-0.9zM205.5 29.9h0.9v0.9h-0.9zM215.8 16.8h0.9v0.9h-0.9zM209.8 26.5h0.9v0.9h-0.9zM214.6 31.6h0.9v0.9h-0.9zM214.7 27.4h0.9v0.9h-0.9zM218.4 23.7h0.9v0.9h-0.9zM217.7 23.9h0.9v0.9h-0.9zM210.4 26.1h0.9v0.9h-0.9zM212.3 29.0h0.9v0.9h-0.9zM207.2 26.8h0.9v0.9h-0.9zM220.5 17.4h0.9v0.9h-0.9zM215.0 23.3h0.9v0.9h-0.9zM219.3 24.5h0.9v0.9h-0.9zM211.6 26.5h0.9v0.9h-0.9zM203.8 32.8h0.9v0.9h-0.9zM219.9 10.1h0.9v0.9h-0.9zM213.4 29.4h0.9v0.9h-0.9zM213.6 34.8h0.9v0.9h-0.9zM213.2 30.2h0.9v0.9h-0.9zM207.7 40.2h0.9v0.9h-0.9zM205.6 37.1h0.9v0.9h-0.9zM210.1 39.3h0.9v0.9h-0.9zM205.1 26.9h0.9v0.9h-0.9zM211.9 26.0h0.9v0.9h-0.9zM206.9 25.6h0.9v0.9h-0.9zM212.8 29.4h0.9v0.9h-0.9zM214.4 37.9h0.9v0.9h-0.9zM200.9 40.7h0.9v0.9h-0.9zM210.2 34.4h0.9v0.9h-0.9zM206.2 36.7h0.9v0.9h-0.9zM203.4 40.7h0.9v0.9h-0.9zM206.5 34.5h0.9v0.9h-0.9zM208.1 37.2h0.9v0.9h-0.9zM213.1 34.1h0.9v0.9h-0.9zM202.9 26.9h0.9v0.9h-0.9zM213.2 31.6h0.9v0.9h-0.9zM217.1 38.5h0.9v0.9h-0.9zM211.4 32.2h0.9v0.9h-0.9zM211.2 33.5h0.9v0.9h-0.9zM208.9 32.1h0.9v0.9h-0.9zM204.3 34.5h0.9v0.9h-0.9zM211.1 39.6h0.9v0.9h-0.9zM210.5 33.1h0.9v0.9h-0.9zM211.9 29.0h0.9v0.9h-0.9zM219.3 16.3h0.9v0.9h-0.9zM211.9 31.2h0.9v0.9h-0.9zM210.7 25.0h0.9v0.9h-0.9zM215.2 24.0h0.9v0.9h-0.9zM203.6 40.8h0.9v0.9h-0.9zM204.4 40.1h0.9v0.9h-0.9zM207.5 26.4h0.9v0.9h-0.9zM206.4 40.0h0.9v0.9h-0.9zM211.8 36.2h0.9v0.9h-0.9zM207.7 31.7h0.9v0.9h-0.9zM216.0 35.9h0.9v0.9h-0.9zM215.1 25.0h0.9v0.9h-0.9zM212.1 28.1h0.9v0.9h-0.9zM207.5 28.7h0.9v0.9h-0.9zM211.5 28.8h0.9v0.9h-0.9zM212.2 38.0h0.9v0.9h-0.9zM204.7 30.2h0.9v0.9h-0.9zM210.4 29.0h0.9v0.9h-0.9zM211.8 29.4h0.9v0.9h-0.9zM209.9 35.6h0.9v0.9h-0.9zM215.3 31.0h0.9v0.9h-0.9zM213.9 37.3h0.9v0.9h-0.9zM205.7 32.8h0.9v0.9h-0.9zM209.5 28.7h0.9v0.9h-0.9zM205.7 33.8h0.9v0.9h-0.9zM211.3 34.3h0.9v0.9h-0.9zM205.5 31.8h0.9v0.9h-0.9zM212.7 34.9h0.9v0.9h-0.9zM210.6 43.1h0.9v0.9h-0.9zM212.9 30.7h0.9v0.9h-0.9zM208.4 35.4h0.9v0.9h-0.9zM203.2 43.6h0.9v0.9h-0.9zM216.1 29.2h0.9v0.9h-0.9zM208.3 31.2h0.9v0.9h-0.9zM214.5 27.7h0.9v0.9h-0.9zM210.7 36.2h0.9v0.9h-0.9zM211.7 36.4h0.9v0.9h-0.9zM216.3 31.5h0.9v0.9h-0.9zM210.4 34.6h0.9v0.9h-0.9zM214.6 38.9h0.9v0.9h-0.9zM203.1 41.3h0.9v0.9h-0.9zM212.5 26.9h0.9v0.9h-0.9zM208.0 35.2h0.9v0.9h-0.9zM208.5 35.6h0.9v0.9h-0.9zM209.0 38.3h0.9v0.9h-0.9zM210.4 33.3h0.9v0.9h-0.9zM215.6 29.3h0.9v0.9h-0.9zM201.6 35.5h0.9v0.9h-0.9zM209.2 26.3h0.9v0.9h-0.9zM206.1 35.8h0.9v0.9h-0.9zM213.7 30.3h0.9v0.9h-0.9zM207.3 37.7h0.9v0.9h-0.9zM210.8 29.3h0.9v0.9h-0.9zM207.4 33.4h0.9v0.9h-0.9zM211.7 29.2h0.9v0.9h-0.9zM213.1 28.2h0.9v0.9h-0.9zM207.4 38.8h0.9v0.9h-0.9zM209.2 32.6h0.9v0.9h-0.9zM203.3 39.1h0.9v0.9h-0.9zM210.2 29.0h0.9v0.9h-0.9zM212.4 34.0h0.9v0.9h-0.9zM206.8 27.6h0.9v0.9h-0.9zM213.5 30.9h0.9v0.9h-0.9zM200.7 35.5h0.9v0.9h-0.9zM201.6 40.4h0.9v0.9h-0.9zM203.4 37.8h0.9v0.9h-0.9zM207.1 34.7h0.9v0.9h-0.9zM209.1 38.8h0.9v0.9h-0.9zM208.7 35.8h0.9v0.9h-0.9zM208.7 37.5h0.9v0.9h-0.9zM211.9 37.4h0.9v0.9h-0.9zM207.1 35.2h0.9v0.9h-0.9zM203.9 35.3h0.9v0.9h-0.9zM204.0 38.2h0.9v0.9h-0.9zM217.5 29.6h0.9v0.9h-0.9zM199.6 40.2h0.9v0.9h-0.9zM208.3 40.3h0.9v0.9h-0.9zM214.8 36.7h0.9v0.9h-0.9zM210.9 32.2h0.9v0.9h-0.9zM205.7 29.9h0.9v0.9h-0.9zM209.0 34.5h0.9v0.9h-0.9zM212.5 32.9h0.9v0.9h-0.9zM213.8 38.2h0.9v0.9h-0.9zM205.4 34.3h0.9v0.9h-0.9zM212.0 32.6h0.9v0.9h-0.9zM210.0 37.9h0.9v0.9h-0.9zM213.4 30.8h0.9v0.9h-0.9zM214.6 31.9h0.9v0.9h-0.9zM207.6 43.5h0.9v0.9h-0.9zM203.2 44.0h0.9v0.9h-0.9zM210.6 37.2h0.9v0.9h-0.9zM216.1 33.4h0.9v0.9h-0.9zM211.7 29.1h0.9v0.9h-0.9zM209.9 37.1h0.9v0.9h-0.9zM218.6 31.4h0.9v0.9h-0.9zM204.8 37.4h0.9v0.9h-0.9zM212.6 31.0h0.9v0.9h-0.9zM206.7 35.6h0.9v0.9h-0.9zM209.2 33.8h0.9v0.9h-0.9zM209.4 36.1h0.9v0.9h-0.9zM215.1 39.3h0.9v0.9h-0.9zM205.3 37.9h0.9v0.9h-0.9zM206.9 27.7h0.9v0.9h-0.9zM202.6 32.5h0.9v0.9h-0.9zM210.9 26.5h0.9v0.9h-0.9zM207.2 31.7h0.9v0.9h-0.9zM210.7 36.8h0.9v0.9h-0.9zM204.7 38.3h0.9v0.9h-0.9zM207.6 32.5h0.9v0.9h-0.9zM213.2 34.5h0.9v0.9h-0.9zM208.3 31.4h0.9v0.9h-0.9zM211.5 27.1h0.9v0.9h-0.9zM211.1 27.3h0.9v0.9h-0.9zM207.6 31.2h0.9v0.9h-0.9zM202.8 43.9h0.9v0.9h-0.9zM207.1 44.0h0.9v0.9h-0.9zM216.2 47.6h0.9v0.9h-0.9zM216.5 45.9h0.9v0.9h-0.9zM211.2 49.8h0.9v0.9h-0.9zM211.7 52.8h0.9v0.9h-0.9zM209.7 49.8h0.9v0.9h-0.9zM211.7 49.6h0.9v0.9h-0.9zM214.1 48.9h0.9v0.9h-0.9zM211.9 52.2h0.9v0.9h-0.9zM215.3 41.4h0.9v0.9h-0.9zM216.0 50.2h0.9v0.9h-0.9zM213.0 45.0h0.9v0.9h-0.9zM213.0 43.8h0.9v0.9h-0.9zM211.6 48.8h0.9v0.9h-0.9zM213.0 47.2h0.9v0.9h-0.9zM207.9 51.1h0.9v0.9h-0.9zM213.2 53.2h0.9v0.9h-0.9zM212.5 39.5h0.9v0.9h-0.9zM208.8 48.5h0.9v0.9h-0.9zM208.4 52.2h0.9v0.9h-0.9zM208.8 54.5h0.9v0.9h-0.9zM212.8 49.2h0.9v0.9h-0.9zM205.1 43.0h0.9v0.9h-0.9zM209.1 44.3h0.9v0.9h-0.9zM206.5 51.6h0.9v0.9h-0.9zM208.4 52.6h0.9v0.9h-0.9zM211.4 45.8h0.9v0.9h-0.9zM212.9 47.7h0.9v0.9h-0.9zM215.7 49.8h0.9v0.9h-0.9zM214.6 41.8h0.9v0.9h-0.9zM216.0 47.4h0.9v0.9h-0.9zM215.7 48.3h0.9v0.9h-0.9zM209.7 46.7h0.9v0.9h-0.9zM217.2 45.5h0.9v0.9h-0.9zM214.6 39.8h0.9v0.9h-0.9zM212.6 52.6h0.9v0.9h-0.9zM214.4 47.3h0.9v0.9h-0.9zM207.0 50.1h0.9v0.9h-0.9zM211.5 49.5h0.9v0.9h-0.9zM207.7 41.5h0.9v0.9h-0.9zM212.2 54.8h0.9v0.9h-0.9zM209.5 47.3h0.9v0.9h-0.9zM216.6 48.1h0.9v0.9h-0.9zM213.6 39.9h0.9v0.9h-0.9zM209.0 52.5h0.9v0.9h-0.9zM211.7 52.7h0.9v0.9h-0.9zM207.6 46.3h0.9v0.9h-0.9zM211.9 49.1h0.9v0.9h-0.9zM213.7 50.3h0.9v0.9h-0.9zM212.7 52.6h0.9v0.9h-0.9zM205.1 49.2h0.9v0.9h-0.9zM213.6 47.8h0.9v0.9h-0.9zM212.9 46.3h0.9v0.9h-0.9zM215.9 46.9h0.9v0.9h-0.9zM207.3 38.6h0.9v0.9h-0.9zM213.6 45.5h0.9v0.9h-0.9zM209.5 52.8h0.9v0.9h-0.9zM212.5 49.8h0.9v0.9h-0.9zM213.2 45.5h0.9v0.9h-0.9zM214.2 50.2h0.9v0.9h-0.9zM209.8 40.7h0.9v0.9h-0.9zM212.4 47.6h0.9v0.9h-0.9zM207.7 50.9h0.9v0.9h-0.9zM206.9 51.6h0.9v0.9h-0.9zM213.7 45.7h0.9v0.9h-0.9zM211.6 52.4h0.9v0.9h-0.9zM208.8 47.1h0.9v0.9h-0.9zM211.9 51.7h0.9v0.9h-0.9zM217.2 42.6h0.9v0.9h-0.9zM215.5 40.9h0.9v0.9h-0.9zM214.6 51.2h0.9v0.9h-0.9zM205.6 49.0h0.9v0.9h-0.9zM211.5 49.6h0.9v0.9h-0.9zM213.5 46.5h0.9v0.9h-0.9zM213.2 47.6h0.9v0.9h-0.9zM213.3 52.0h0.9v0.9h-0.9zM217.9 47.9h0.9v0.9h-0.9zM217.0 42.2h0.9v0.9h-0.9zM211.5 53.9h0.9v0.9h-0.9zM208.4 51.2h0.9v0.9h-0.9zM219.0 51.5h0.9v0.9h-0.9zM209.9 49.5h0.9v0.9h-0.9zM218.5 49.1h0.9v0.9h-0.9zM208.5 50.9h0.9v0.9h-0.9zM212.8 41.4h0.9v0.9h-0.9zM210.6 46.5h0.9v0.9h-0.9zM213.6 46.0h0.9v0.9h-0.9zM212.9 48.7h0.9v0.9h-0.9zM218.6 50.2h0.9v0.9h-0.9zM213.9 45.8h0.9v0.9h-0.9zM215.7 44.5h0.9v0.9h-0.9zM210.8 47.0h0.9v0.9h-0.9zM210.5 49.7h0.9v0.9h-0.9zM219.6 43.8h0.9v0.9h-0.9zM208.9 51.1h0.9v0.9h-0.9zM210.1 51.3h0.9v0.9h-0.9zM211.9 47.6h0.9v0.9h-0.9zM204.4 49.1h0.9v0.9h-0.9zM215.5 49.9h0.9v0.9h-0.9zM209.0 45.0h0.9v0.9h-0.9zM209.9 42.1h0.9v0.9h-0.9zM210.5 46.3h0.9v0.9h-0.9zM208.4 47.5h0.9v0.9h-0.9zM208.0 47.0h0.9v0.9h-0.9zM212.4 51.9h0.9v0.9h-0.9zM220.2 39.2h0.9v0.9h-0.9zM214.4 44.3h0.9v0.9h-0.9zM214.4 41.5h0.9v0.9h-0.9zM206.5 54.2h0.9v0.9h-0.9zM211.7 46.5h0.9v0.9h-0.9zM207.7 46.7h0.9v0.9h-0.9zM214.5 44.4h0.9v0.9h-0.9zM211.0 52.4h0.9v0.9h-0.9zM211.9 47.1h0.9v0.9h-0.9zM211.5 49.7h0.9v0.9h-0.9zM209.8 40.7h0.9v0.9h-0.9zM206.5 53.5h0.9v0.9h-0.9zM213.8 50.4h0.9v0.9h-0.9zM207.0 51.0h0.9v0.9h-0.9zM201.9 38.5h0.9v0.9h-0.9zM194.8 32.5h0.9v0.9h-0.9zM194.9 28.1h0.9v0.9h-0.9zM199.3 28.1h0.9v0.9h-0.9zM197.9 33.5h0.9v0.9h-0.9zM194.5 42.5h0.9v0.9h-0.9zM196.0 39.0h0.9v0.9h-0.9zM193.2 31.5h0.9v0.9h-0.9zM199.3 39.5h0.9v0.9h-0.9zM200.4 28.9h0.9v0.9h-0.9zM195.8 39.8h0.9v0.9h-0.9zM205.2 32.8h0.9v0.9h-0.9zM188.1 38.6h0.9v0.9h-0.9zM194.6 37.9h0.9v0.9h-0.9zM204.3 33.4h0.9v0.9h-0.9zM193.6 36.4h0.9v0.9h-0.9zM187.7 29.4h0.9v0.9h-0.9zM202.7 34.4h0.9v0.9h-0.9zM198.5 40.2h0.9v0.9h-0.9zM199.6 38.3h0.9v0.9h-0.9zM190.6 35.2h0.9v0.9h-0.9zM189.0 29.7h0.9v0.9h-0.9zM195.0 40.1h0.9v0.9h-0.9zM193.4 26.5h0.9v0.9h-0.9zM190.3 30.7h0.9v0.9h-0.9zM193.9 36.6h0.9v0.9h-0.9zM190.7 28.7h0.9v0.9h-0.9zM196.1 42.5h0.9v0.9h-0.9zM195.6 40.2h0.9v0.9h-0.9z" fill="#3a3a3a" stroke="none" stroke-width="1" fill-opacity="0.6"/>
<rect x="171.00" y="9.10" width="56.60" height="47.40" fill="none" stroke="#333" stroke-width="1.1"/>
<line x1="200.70" y1="9.10" x2="200.70" y2="56.50" stroke="#222" stroke-width="1.1"/>
<line x1="171.00" y1="41.70" x2="227.60" y2="41.70" stroke="#222" stroke-width="1.1"/>
<text x="172.30" y="48.96" font-size="8.3" font-weight="bold" stroke="#000" stroke-width="0.3" text-anchor="start" fill="#000">48</text>
<g clip-path="url(#c52_57)"><ellipse cx="71" cy="99" rx="10.5" ry="4.8" fill="#505050" fill-opacity="0.85" filter="url(#b2)" transform="rotate(-12 71 99)"/></g>
<g clip-path="url(#c52_57)"><ellipse cx="98" cy="96" rx="8" ry="5" fill="#888" fill-opacity="0.35" filter="url(#b2)" transform="rotate(0 98 96)"/></g>
<path d="M67.3 97.3h0.9v0.9h-0.9zM67.4 97.8h0.9v0.9h-0.9zM62.8 102.1h0.9v0.9h-0.9zM62.3 97.8h0.9v0.9h-0.9zM73.4 101.6h0.9v0.9h-0.9zM74.5 102.7h0.9v0.9h-0.9zM72.8 95.8h0.9v0.9h-0.9zM67.4 100.1h0.9v0.9h-0.9zM72.9 101.9h0.9v0.9h-0.9zM61.9 94.3h0.9v0.9h-0.9zM70.8 101.1h0.9v0.9h-0.9zM79.6 101.3h0.9v0.9h-0.9zM78.7 98.1h0.9v0.9h-0.9zM68.7 100.0h0.9v0.9h-0.9zM79.0 99.1h0.9v0.9h-0.9zM81.5 100.9h0.9v0.9h-0.9zM61.7 99.9h0.9v0.9h-0.9zM68.2 101.6h0.9v0.9h-0.9zM72.1 100.6h0.9v0.9h-0.9zM65.7 102.3h0.9v0.9h-0.9zM74.6 95.3h0.9v0.9h-0.9zM68.9 96.7h0.9v0.9h-0.9zM85.0 97.9h0.9v0.9h-0.9zM73.3 99.2h0.9v0.9h-0.9zM69.9 102.9h0.9v0.9h-0.9zM68.7 100.2h0.9v0.9h-0.9zM77.1 96.3h0.9v0.9h-0.9zM74.8 98.3h0.9v0.9h-0.9zM64.2 100.7h0.9v0.9h-0.9zM72.0 97.1h0.9v0.9h-0.9zM62.7 96.9h0.9v0.9h-0.9zM66.2 98.7h0.9v0.9h-0.9zM62.9 91.5h0.9v0.9h-0.9zM62.7 99.7h0.9v0.9h-0.9zM66.6 98.9h0.9v0.9h-0.9zM64.8 99.3h0.9v0.9h-0.9zM73.9 96.0h0.9v0.9h-0.9zM75.5 96.9h0.9v0.9h-0.9zM69.3 96.4h0.9v0.9h-0.9zM64.0 98.2h0.9v0.9h-0.9zM75.6 99.5h0.9v0.9h-0.9zM58.5 96.9h0.9v0.9h-0.9zM59.1 102.2h0.9v0.9h-0.9zM74.7 96.9h0.9v0.9h-0.9zM76.6 97.4h0.9v0.9h-0.9zM63.1 96.3h0.9v0.9h-0.9zM67.7 102.4h0.9v0.9h-0.9zM66.1 96.0h0.9v0.9h-0.9zM66.5 97.0h0.9v0.9h-0.9zM62.3 97.4h0.9v0.9h-0.9zM63.7 94.6h0.9v0.9h-0.9zM75.8 96.3h0.9v0.9h-0.9zM73.5 97.7h0.9v0.9h-0.9zM63.7 100.0h0.9v0.9h-0.9zM64.2 96.0h0.9v0.9h-0.9zM67.3 97.3h0.9v0.9h-0.9zM74.0 97.6h0.9v0.9h-0.9zM63.7 93.1h0.9v0.9h-0.9zM57.8 89.0h0.9v0.9h-0.9zM63.2 95.2h0.9v0.9h-0.9zM73.3 100.7h0.9v0.9h-0.9zM76.1 95.0h0.9v0.9h-0.9zM63.8 99.3h0.9v0.9h-0.9zM66.1 101.7h0.9v0.9h-0.9zM75.5 96.6h0.9v0.9h-0.9zM68.4 98.8h0.9v0.9h-0.9zM67.5 94.5h0.9v0.9h-0.9zM73.9 100.6h0.9v0.9h-0.9zM71.9 99.0h0.9v0.9h-0.9zM77.4 100.3h0.9v0.9h-0.9zM67.3 99.4h0.9v0.9h-0.9zM70.0 102.6h0.9v0.9h-0.9zM70.4 100.5h0.9v0.9h-0.9zM62.6 93.4h0.9v0.9h-0.9zM64.9 98.4h0.9v0.9h-0.9zM76.6 101.0h0.9v0.9h-0.9zM61.2 92.4h0.9v0.9h-0.9zM72.5 99.0h0.9v0.9h-0.9zM69.9 99.5h0.9v0.9h-0.9zM74.0 96.2h0.9v0.9h-0.9zM73.6 99.2h0.9v0.9h-0.9zM78.0 100.7h0.9v0.9h-0.9zM68.3 97.1h0.9v0.9h-0.9zM69.4 98.5h0.9v0.9h-0.9zM69.3 91.6h0.9v0.9h-0.9zM76.4 96.0h0.9v0.9h-0.9zM65.2 90.7h0.9v0.9h-0.9zM68.7 95.2h0.9v0.9h-0.9zM66.5 95.2h0.9v0.9h-0.9zM70.8 100.2h0.9v0.9h-0.9zM72.0 95.9h0.9v0.9h-0.9zM84.6 101.7h0.9v0.9h-0.9zM59.8 93.7h0.9v0.9h-0.9zM73.4 100.7h0.9v0.9h-0.9zM69.9 95.2h0.9v0.9h-0.9zM67.8 100.1h0.9v0.9h-0.9zM71.1 95.6h0.9v0.9h-0.9zM76.8 101.3h0.9v0.9h-0.9zM61.6 99.1h0.9v0.9h-0.9zM78.7 94.8h0.9v0.9h-0.9zM68.5 94.6h0.9v0.9h-0.9zM79.8 96.3h0.9v0.9h-0.9zM73.2 94.2h0.9v0.9h-0.9zM78.2 97.4h0.9v0.9h-0.9zM74.2 96.1h0.9v0.9h-0.9zM77.3 95.0h0.9v0.9h-0.9zM71.1 98.9h0.9v0.9h-0.9zM65.8 99.4h0.9v0.9h-0.9zM74.8 95.0h0.9v0.9h-0.9zM75.1 97.5h0.9v0.9h-0.9zM83.4 100.6h0.9v0.9h-0.9zM58.7 95.8h0.9v0.9h-0.9zM69.6 96.1h0.9v0.9h-0.9zM77.2 102.1h0.9v0.9h-0.9zM63.3 99.9h0.9v0.9h-0.9zM69.4 100.4h0.9v0.9h-0.9zM83.5 100.0h0.9v0.9h-0.9zM79.4 98.7h0.9v0.9h-0.9zM77.9 99.3h0.9v0.9h-0.9zM73.1 96.4h0.9v0.9h-0.9zM72.2 100.0h0.9v0.9h-0.9zM65.6 97.8h0.9v0.9h-0.9zM67.7 95.8h0.9v0.9h-0.9zM75.2 98.5h0.9v0.9h-0.9zM71.7 93.7h0.9v0.9h-0.9zM81.9 98.6h0.9v0.9h-0.9zM68.8 91.9h0.9v0.9h-0.9zM68.8 102.9h0.9v0.9h-0.9zM72.5 102.6h0.9v0.9h-0.9zM73.1 99.8h0.9v0.9h-0.9zM71.2 101.7h0.9v0.9h-0.9zM65.9 101.7h0.9v0.9h-0.9zM66.8 100.7h0.9v0.9h-0.9zM75.1 96.3h0.9v0.9h-0.9zM69.1 99.6h0.9v0.9h-0.9zM63.6 95.6h0.9v0.9h-0.9zM79.3 96.2h0.9v0.9h-0.9zM55.8 92.4h0.9v0.9h-0.9zM65.7 99.0h0.9v0.9h-0.9zM73.4 102.2h0.9v0.9h-0.9zM68.7 93.8h0.9v0.9h-0.9zM68.1 96.8h0.9v0.9h-0.9zM83.8 99.2h0.9v0.9h-0.9zM69.5 98.0h0.9v0.9h-0.9zM69.9 101.4h0.9v0.9h-0.9zM64.4 96.2h0.9v0.9h-0.9zM66.4 94.3h0.9v0.9h-0.9zM74.8 100.2h0.9v0.9h-0.9zM74.2 92.5h0.9v0.9h-0.9zM70.9 98.9h0.9v0.9h-0.9zM66.7 101.4h0.9v0.9h-0.9zM75.0 100.1h0.9v0.9h-0.9zM60.6 99.3h0.9v0.9h-0.9zM68.8 99.7h0.9v0.9h-0.9zM69.4 100.5h0.9v0.9h-0.9zM65.8 98.1h0.9v0.9h-0.9zM71.8 96.0h0.9v0.9h-0.9zM66.9 97.1h0.9v0.9h-0.9zM66.1 97.5h0.9v0.9h-0.9zM78.1 101.0h0.9v0.9h-0.9zM71.2 96.2h0.9v0.9h-0.9zM76.7 97.1h0.9v0.9h-0.9zM75.6 98.7h0.9v0.9h-0.9zM85.1 101.9h0.9v0.9h-0.9zM69.6 98.1h0.9v0.9h-0.9zM72.5 96.3h0.9v0.9h-0.9zM70.6 101.2h0.9v0.9h-0.9zM62.6 96.9h0.9v0.9h-0.9zM71.1 98.8h0.9v0.9h-0.9zM67.5 97.4h0.9v0.9h-0.9zM68.5 98.2h0.9v0.9h-0.9zM79.5 102.7h0.9v0.9h-0.9zM81.5 99.8h0.9v0.9h-0.9zM73.8 96.3h0.9v0.9h-0.9zM65.1 96.7h0.9v0.9h-0.9zM79.8 97.1h0.9v0.9h-0.9zM70.0 99.9h0.9v0.9h-0.9zM68.7 98.2h0.9v0.9h-0.9zM71.7 100.4h0.9v0.9h-0.9zM67.8 100.6h0.9v0.9h-0.9zM77.4 89.7h0.9v0.9h-0.9zM75.7 100.2h0.9v0.9h-0.9zM78.3 94.0h0.9v0.9h-0.9zM74.5 99.6h0.9v0.9h-0.9zM66.2 95.0h0.9v0.9h-0.9zM70.0 98.7h0.9v0.9h-0.9zM68.6 92.7h0.9v0.9h-0.9zM88.5 102.0h0.9v0.9h-0.9zM69.5 98.0h0.9v0.9h-0.9zM67.5 92.0h0.9v0.9h-0.9zM77.9 101.7h0.9v0.9h-0.9zM75.5 99.3h0.9v0.9h-0.9zM70.8 96.9h0.9v0.9h-0.9zM69.6 96.0h0.9v0.9h-0.9zM76.0 98.1h0.9v0.9h-0.9zM75.6 93.6h0.9v0.9h-0.9zM69.2 95.3h0.9v0.9h-0.9zM73.6 97.8h0.9v0.9h-0.9zM76.1 98.1h0.9v0.9h-0.9zM75.6 99.0h0.9v0.9h-0.9zM65.7 99.3h0.9v0.9h-0.9zM66.3 96.2h0.9v0.9h-0.9zM69.6 94.0h0.9v0.9h-0.9zM72.1 96.1h0.9v0.9h-0.9zM76.5 98.2h0.9v0.9h-0.9zM74.7 101.8h0.9v0.9h-0.9zM70.2 99.9h0.9v0.9h-0.9zM71.1 97.5h0.9v0.9h-0.9zM81.6 100.3h0.9v0.9h-0.9zM67.3 98.6h0.9v0.9h-0.9zM80.4 98.1h0.9v0.9h-0.9zM73.1 100.3h0.9v0.9h-0.9zM58.7 98.8h0.9v0.9h-0.9zM73.2 95.9h0.9v0.9h-0.9zM68.7 98.7h0.9v0.9h-0.9zM70.3 98.9h0.9v0.9h-0.9zM77.3 98.1h0.9v0.9h-0.9zM73.8 100.8h0.9v0.9h-0.9zM69.4 101.5h0.9v0.9h-0.9zM76.4 102.9h0.9v0.9h-0.9zM73.6 98.3h0.9v0.9h-0.9zM71.6 99.2h0.9v0.9h-0.9zM72.5 95.3h0.9v0.9h-0.9zM69.0 98.9h0.9v0.9h-0.9zM68.2 100.8h0.9v0.9h-0.9zM71.2 99.0h0.9v0.9h-0.9zM65.3 99.6h0.9v0.9h-0.9zM63.4 97.8h0.9v0.9h-0.9zM78.8 102.2h0.9v0.9h-0.9zM69.6 102.3h0.9v0.9h-0.9zM70.9 97.8h0.9v0.9h-0.9zM70.2 99.0h0.9v0.9h-0.9zM71.1 98.3h0.9v0.9h-0.9zM71.1 97.3h0.9v0.9h-0.9zM71.4 98.5h0.9v0.9h-0.9zM66.2 94.1h0.9v0.9h-0.9zM76.6 101.8h0.9v0.9h-0.9zM59.5 100.6h0.9v0.9h-0.9zM64.6 94.4h0.9v0.9h-0.9zM70.1 96.1h0.9v0.9h-0.9zM67.0 97.7h0.9v0.9h-0.9zM64.7 94.1h0.9v0.9h-0.9zM71.5 101.2h0.9v0.9h-0.9zM57.7 97.2h0.9v0.9h-0.9zM68.3 97.6h0.9v0.9h-0.9zM67.1 95.1h0.9v0.9h-0.9zM74.2 100.4h0.9v0.9h-0.9zM76.3 97.9h0.9v0.9h-0.9zM65.9 100.9h0.9v0.9h-0.9zM67.4 93.6h0.9v0.9h-0.9zM58.7 94.9h0.9v0.9h-0.9zM56.7 95.1h0.9v0.9h-0.9zM80.2 96.3h0.9v0.9h-0.9zM70.5 94.9h0.9v0.9h-0.9zM67.1 98.1h0.9v0.9h-0.9zM66.5 97.1h0.9v0.9h-0.9zM64.4 92.2h0.9v0.9h-0.9zM79.1 98.1h0.9v0.9h-0.9zM70.5 100.1h0.9v0.9h-0.9zM81.7 96.5h0.9v0.9h-0.9zM69.8 95.4h0.9v0.9h-0.9zM56.9 101.2h0.9v0.9h-0.9zM68.8 93.0h0.9v0.9h-0.9zM69.6 94.0h0.9v0.9h-0.9zM80.4 101.2h0.9v0.9h-0.9zM69.4 94.5h0.9v0.9h-0.9zM78.0 98.9h0.9v0.9h-0.9zM71.0 97.1h0.9v0.9h-0.9zM66.5 99.5h0.9v0.9h-0.9zM74.0 91.0h0.9v0.9h-0.9zM67.4 91.0h0.9v0.9h-0.9zM78.4 95.9h0.9v0.9h-0.9zM76.8 102.6h0.9v0.9h-0.9zM71.4 98.1h0.9v0.9h-0.9zM74.7 93.7h0.9v0.9h-0.9zM74.4 100.6h0.9v0.9h-0.9zM69.3 100.5h0.9v0.9h-0.9zM76.4 98.6h0.9v0.9h-0.9zM69.6 97.2h0.9v0.9h-0.9zM74.7 100.5h0.9v0.9h-0.9zM65.3 101.4h0.9v0.9h-0.9zM71.6 99.1h0.9v0.9h-0.9zM73.5 100.6h0.9v0.9h-0.9zM66.3 97.6h0.9v0.9h-0.9zM68.5 96.9h0.9v0.9h-0.9zM67.8 95.1h0.9v0.9h-0.9zM75.4 100.0h0.9v0.9h-0.9zM66.7 96.8h0.9v0.9h-0.9zM73.7 98.2h0.9v0.9h-0.9zM80.2 102.9h0.9v0.9h-0.9zM73.2 100.4h0.9v0.9h-0.9zM61.4 99.6h0.9v0.9h-0.9zM71.8 93.7h0.9v0.9h-0.9zM77.3 101.3h0.9v0.9h-0.9zM69.3 96.4h0.9v0.9h-0.9zM77.7 97.1h0.9v0.9h-0.9zM74.7 96.4h0.9v0.9h-0.9zM73.6 102.7h0.9v0.9h-0.9zM69.5 100.9h0.9v0.9h-0.9zM68.0 95.7h0.9v0.9h-0.9zM69.5 94.7h0.9v0.9h-0.9zM71.4 98.6h0.9v0.9h-0.9zM74.2 97.6h0.9v0.9h-0.9zM69.3 93.6h0.9v0.9h-0.9zM71.5 92.8h0.9v0.9h-0.9zM73.4 98.1h0.9v0.9h-0.9zM61.3 96.9h0.9v0.9h-0.9zM66.5 98.2h0.9v0.9h-0.9zM66.3 100.1h0.9v0.9h-0.9zM69.4 97.2h0.9v0.9h-0.9zM69.5 96.5h0.9v0.9h-0.9zM65.8 92.1h0.9v0.9h-0.9zM75.1 99.9h0.9v0.9h-0.9zM72.7 101.5h0.9v0.9h-0.9zM61.2 96.1h0.9v0.9h-0.9zM71.2 102.2h0.9v0.9h-0.9zM64.3 97.5h0.9v0.9h-0.9zM68.4 99.1h0.9v0.9h-0.9zM68.7 94.8h0.9v0.9h-0.9zM71.6 96.6h0.9v0.9h-0.9zM75.3 96.5h0.9v0.9h-0.9zM74.3 93.8h0.9v0.9h-0.9zM84.3 94.7h0.9v0.9h-0.9zM92.8 94.1h0.9v0.9h-0.9zM82.7 91.1h0.9v0.9h-0.9zM81.8 96.0h0.9v0.9h-0.9zM77.5 93.7h0.9v0.9h-0.9zM87.9 93.8h0.9v0.9h-0.9zM84.9 94.7h0.9v0.9h-0.9zM80.0 98.1h0.9v0.9h-0.9zM86.4 96.0h0.9v0.9h-0.9zM85.8 90.2h0.9v0.9h-0.9zM73.7 94.5h0.9v0.9h-0.9zM86.7 96.9h0.9v0.9h-0.9zM83.7 93.1h0.9v0.9h-0.9zM81.0 99.6h0.9v0.9h-0.9zM80.9 98.1h0.9v0.9h-0.9zM91.7 91.0h0.9v0.9h-0.9zM90.7 96.3h0.9v0.9h-0.9zM92.1 102.9h0.9v0.9h-0.9zM77.3 101.2h0.9v0.9h-0.9zM79.7 94.8h0.9v0.9h-0.9zM87.5 98.6h0.9v0.9h-0.9zM77.0 92.3h0.9v0.9h-0.9zM79.4 89.2h0.9v0.9h-0.9zM74.0 97.2h0.9v0.9h-0.9zM92.3 96.0h0.9v0.9h-0.9zM88.3 97.1h0.9v0.9h-0.9zM85.3 94.9h0.9v0.9h-0.9zM84.1 96.3h0.9v0.9h-0.9zM80.9 92.9h0.9v0.9h-0.9zM81.0 96.9h0.9v0.9h-0.9zM86.1 98.3h0.9v0.9h-0.9zM79.4 94.8h0.9v0.9h-0.9zM89.1 98.3h0.9v0.9h-0.9zM80.5 87.9h0.9v0.9h-0.9zM78.6 91.9h0.9v0.9h-0.9zM89.5 100.8h0.9v0.9h-0.9zM82.3 102.0h0.9v0.9h-0.9zM85.8 96.0h0.9v0.9h-0.9zM80.9 94.6h0.9v0.9h-0.9zM71.7 89.9h0.9v0.9h-0.9zM85.7 96.5h0.9v0.9h-0.9zM76.3 98.1h0.9v0.9h-0.9zM88.4 89.1h0.9v0.9h-0.9zM75.2 97.2h0.9v0.9h-0.9zM73.7 97.0h0.9v0.9h-0.9zM84.5 96.8h0.9v0.9h-0.9zM85.1 90.5h0.9v0.9h-0.9zM83.5 97.2h0.9v0.9h-0.9zM76.9 89.0h0.9v0.9h-0.9zM87.4 101.0h0.9v0.9h-0.9zM75.7 95.5h0.9v0.9h-0.9zM80.7 90.3h0.9v0.9h-0.9zM79.1 100.4h0.9v0.9h-0.9zM81.1 99.6h0.9v0.9h-0.9zM87.3 92.4h0.9v0.9h-0.9zM85.8 91.0h0.9v0.9h-0.9zM86.5 96.3h0.9v0.9h-0.9zM74.4 99.7h0.9v0.9h-0.9zM77.2 85.9h0.9v0.9h-0.9zM81.1 99.0h0.9v0.9h-0.9zM80.0 94.7h0.9v0.9h-0.9zM84.5 94.9h0.9v0.9h-0.9zM73.3 90.7h0.9v0.9h-0.9zM86.6 96.3h0.9v0.9h-0.9zM86.7 90.6h0.9v0.9h-0.9zM82.2 91.1h0.9v0.9h-0.9zM76.1 93.2h0.9v0.9h-0.9zM83.0 90.1h0.9v0.9h-0.9zM80.3 101.3h0.9v0.9h-0.9zM85.8 89.7h0.9v0.9h-0.9zM82.6 92.0h0.9v0.9h-0.9zM86.6 93.7h0.9v0.9h-0.9zM80.8 95.0h0.9v0.9h-0.9zM90.2 98.2h0.9v0.9h-0.9zM71.5 98.3h0.9v0.9h-0.9zM77.9 93.8h0.9v0.9h-0.9zM85.5 93.5h0.9v0.9h-0.9zM75.4 95.1h0.9v0.9h-0.9zM86.7 98.3h0.9v0.9h-0.9zM76.9 97.8h0.9v0.9h-0.9zM83.5 92.9h0.9v0.9h-0.9zM78.4 86.8h0.9v0.9h-0.9zM83.9 98.8h0.9v0.9h-0.9zM82.5 96.1h0.9v0.9h-0.9zM81.1 96.4h0.9v0.9h-0.9zM93.8 92.9h0.9v0.9h-0.9zM83.0 91.0h0.9v0.9h-0.9zM78.2 93.7h0.9v0.9h-0.9zM87.6 94.1h0.9v0.9h-0.9zM87.1 92.5h0.9v0.9h-0.9zM89.1 89.2h0.9v0.9h-0.9zM91.9 93.7h0.9v0.9h-0.9zM78.3 97.3h0.9v0.9h-0.9zM88.3 93.0h0.9v0.9h-0.9zM88.7 95.1h0.9v0.9h-0.9zM83.0 86.7h0.9v0.9h-0.9zM84.2 94.2h0.9v0.9h-0.9zM68.0 94.5h0.9v0.9h-0.9zM80.1 90.1h0.9v0.9h-0.9zM91.9 88.1h0.9v0.9h-0.9zM74.1 96.6h0.9v0.9h-0.9zM80.3 91.8h0.9v0.9h-0.9zM84.4 97.0h0.9v0.9h-0.9zM85.9 93.3h0.9v0.9h-0.9zM91.2 97.5h0.9v0.9h-0.9zM74.2 93.6h0.9v0.9h-0.9zM83.2 89.0h0.9v0.9h-0.9zM87.3 94.7h0.9v0.9h-0.9zM76.4 93.7h0.9v0.9h-0.9zM82.8 97.6h0.9v0.9h-0.9zM92.4 93.2h0.9v0.9h-0.9zM89.6 93.4h0.9v0.9h-0.9zM85.7 98.4h0.9v0.9h-0.9zM69.9 99.7h0.9v0.9h-0.9zM82.3 98.0h0.9v0.9h-0.9zM103.2 101.8h0.9v0.9h-0.9zM99.7 97.8h0.9v0.9h-0.9zM101.6 91.5h0.9v0.9h-0.9zM102.3 97.4h0.9v0.9h-0.9zM99.4 98.6h0.9v0.9h-0.9zM97.4 91.4h0.9v0.9h-0.9zM97.9 92.8h0.9v0.9h-0.9zM97.1 92.0h0.9v0.9h-0.9zM95.6 96.7h0.9v0.9h-0.9zM94.8 100.1h0.9v0.9h-0.9zM98.5 101.0h0.9v0.9h-0.9zM90.2 100.1h0.9v0.9h-0.9zM85.1 100.7h0.9v0.9h-0.9zM98.8 101.7h0.9v0.9h-0.9zM87.4 93.1h0.9v0.9h-0.9zM98.6 98.5h0.9v0.9h-0.9zM97.8 96.6h0.9v0.9h-0.9zM103.9 94.4h0.9v0.9h-0.9zM107.0 92.7h0.9v0.9h-0.9zM99.2 92.5h0.9v0.9h-0.9zM93.7 93.7h0.9v0.9h-0.9zM90.0 88.8h0.9v0.9h-0.9zM92.2 97.6h0.9v0.9h-0.9zM97.2 94.9h0.9v0.9h-0.9zM84.6 95.5h0.9v0.9h-0.9zM97.5 96.7h0.9v0.9h-0.9zM96.9 98.6h0.9v0.9h-0.9zM100.9 92.0h0.9v0.9h-0.9zM95.0 94.5h0.9v0.9h-0.9zM97.6 87.0h0.9v0.9h-0.9zM92.6 83.9h0.9v0.9h-0.9zM94.2 85.3h0.9v0.9h-0.9zM86.4 102.7h0.9v0.9h-0.9zM97.7 85.9h0.9v0.9h-0.9zM106.3 97.4h0.9v0.9h-0.9zM98.0 102.4h0.9v0.9h-0.9zM99.2 92.7h0.9v0.9h-0.9zM92.4 99.7h0.9v0.9h-0.9zM97.6 98.1h0.9v0.9h-0.9zM91.2 91.4h0.9v0.9h-0.9zM103.2 97.6h0.9v0.9h-0.9zM97.1 92.8h0.9v0.9h-0.9zM98.1 88.5h0.9v0.9h-0.9zM99.7 88.6h0.9v0.9h-0.9zM94.7 92.3h0.9v0.9h-0.9zM99.8 94.9h0.9v0.9h-0.9zM94.6 91.7h0.9v0.9h-0.9zM97.4 95.7h0.9v0.9h-0.9zM93.0 93.8h0.9v0.9h-0.9zM88.1 93.0h0.9v0.9h-0.9zM93.0 89.0h0.9v0.9h-0.9zM94.0 88.0h0.9v0.9h-0.9zM97.1 91.3h0.9v0.9h-0.9zM104.1 96.5h0.9v0.9h-0.9zM97.8 100.3h0.9v0.9h-0.9zM90.7 97.5h0.9v0.9h-0.9zM94.0 94.6h0.9v0.9h-0.9zM83.5 88.5h0.9v0.9h-0.9zM85.9 95.1h0.9v0.9h-0.9zM97.9 84.4h0.9v0.9h-0.9zM97.5 93.6h0.9v0.9h-0.9zM92.2 96.7h0.9v0.9h-0.9zM96.0 93.2h0.9v0.9h-0.9zM91.8 88.2h0.9v0.9h-0.9zM107.1 92.7h0.9v0.9h-0.9zM100.7 93.1h0.9v0.9h-0.9zM94.8 101.1h0.9v0.9h-0.9zM97.9 91.4h0.9v0.9h-0.9zM100.9 93.3h0.9v0.9h-0.9zM98.4 94.4h0.9v0.9h-0.9zM90.8 93.4h0.9v0.9h-0.9zM102.8 88.9h0.9v0.9h-0.9zM98.0 95.6h0.9v0.9h-0.9zM90.9 96.9h0.9v0.9h-0.9zM92.4 97.1h0.9v0.9h-0.9zM102.7 89.1h0.9v0.9h-0.9zM94.8 94.6h0.9v0.9h-0.9zM97.3 86.4h0.9v0.9h-0.9zM100.9 99.7h0.9v0.9h-0.9zM97.8 90.0h0.9v0.9h-0.9zM87.8 93.8h0.9v0.9h-0.9zM100.8 92.9h0.9v0.9h-0.9zM102.6 92.2h0.9v0.9h-0.9zM102.2 89.8h0.9v0.9h-0.9zM106.7 86.3h0.9v0.9h-0.9zM101.7 96.4h0.9v0.9h-0.9zM106.5 96.5h0.9v0.9h-0.9zM107.4 94.6h0.9v0.9h-0.9zM107.4 97.9h0.9v0.9h-0.9zM101.7 95.3h0.9v0.9h-0.9zM108.0 101.1h0.9v0.9h-0.9zM102.1 97.7h0.9v0.9h-0.9zM91.7 96.7h0.9v0.9h-0.9zM103.8 93.9h0.9v0.9h-0.9zM99.0 96.6h0.9v0.9h-0.9zM99.5 101.0h0.9v0.9h-0.9zM97.9 84.8h0.9v0.9h-0.9zM99.4 63.9h0.9v0.9h-0.9zM97.7 70.5h0.9v0.9h-0.9zM98.4 74.2h0.9v0.9h-0.9zM88.3 70.9h0.9v0.9h-0.9zM104.6 82.3h0.9v0.9h-0.9zM95.1 68.1h0.9v0.9h-0.9zM98.8 88.3h0.9v0.9h-0.9zM97.2 82.4h0.9v0.9h-0.9zM90.2 71.2h0.9v0.9h-0.9zM97.5 76.5h0.9v0.9h-0.9zM89.1 87.8h0.9v0.9h-0.9zM94.5 75.2h0.9v0.9h-0.9zM98.3 66.1h0.9v0.9h-0.9zM100.2 75.3h0.9v0.9h-0.9zM100.5 89.5h0.9v0.9h-0.9zM99.4 63.4h0.9v0.9h-0.9zM102.8 73.4h0.9v0.9h-0.9zM92.9 76.5h0.9v0.9h-0.9zM96.5 72.9h0.9v0.9h-0.9zM96.3 73.6h0.9v0.9h-0.9zM99.1 82.8h0.9v0.9h-0.9zM96.6 80.4h0.9v0.9h-0.9zM95.1 68.9h0.9v0.9h-0.9zM100.5 64.4h0.9v0.9h-0.9zM98.2 80.3h0.9v0.9h-0.9zM98.7 76.5h0.9v0.9h-0.9zM98.9 84.1h0.9v0.9h-0.9zM108.6 73.8h0.9v0.9h-0.9zM103.1 81.4h0.9v0.9h-0.9zM106.9 71.6h0.9v0.9h-0.9zM81.5 89.4h0.9v0.9h-0.9zM102.2 76.3h0.9v0.9h-0.9zM106.6 88.3h0.9v0.9h-0.9zM100.4 83.5h0.9v0.9h-0.9zM89.9 82.1h0.9v0.9h-0.9zM103.7 74.4h0.9v0.9h-0.9zM96.6 71.6h0.9v0.9h-0.9zM89.5 82.2h0.9v0.9h-0.9zM96.5 64.7h0.9v0.9h-0.9zM106.5 61.5h0.9v0.9h-0.9zM107.4 77.0h0.9v0.9h-0.9zM104.5 60.9h0.9v0.9h-0.9zM93.9 88.0h0.9v0.9h-0.9zM93.2 79.2h0.9v0.9h-0.9zM99.8 75.2h0.9v0.9h-0.9zM91.5 81.2h0.9v0.9h-0.9zM108.1 69.2h0.9v0.9h-0.9zM102.9 70.6h0.9v0.9h-0.9zM105.6 71.4h0.9v0.9h-0.9zM100.8 82.3h0.9v0.9h-0.9zM99.8 83.3h0.9v0.9h-0.9zM101.3 83.8h0.9v0.9h-0.9zM88.9 81.8h0.9v0.9h-0.9zM106.2 70.6h0.9v0.9h-0.9zM105.7 59.5h0.9v0.9h-0.9zM97.9 80.3h0.9v0.9h-0.9zM100.2 80.9h0.9v0.9h-0.9zM102.0 70.7h0.9v0.9h-0.9zM102.8 83.3h0.9v0.9h-0.9zM100.5 75.1h0.9v0.9h-0.9zM97.2 83.8h0.9v0.9h-0.9zM91.2 80.4h0.9v0.9h-0.9zM96.7 62.7h0.9v0.9h-0.9zM100.7 70.7h0.9v0.9h-0.9zM98.7 72.0h0.9v0.9h-0.9zM100.7 78.3h0.9v0.9h-0.9zM104.7 66.1h0.9v0.9h-0.9zM102.9 70.1h0.9v0.9h-0.9zM101.9 66.5h0.9v0.9h-0.9zM104.2 72.6h0.9v0.9h-0.9zM101.4 74.6h0.9v0.9h-0.9zM100.1 82.0h0.9v0.9h-0.9zM103.1 79.4h0.9v0.9h-0.9zM89.9 79.9h0.9v0.9h-0.9zM107.8 73.3h0.9v0.9h-0.9zM92.5 78.4h0.9v0.9h-0.9zM105.3 73.3h0.9v0.9h-0.9zM100.4 86.2h0.9v0.9h-0.9zM100.5 73.0h0.9v0.9h-0.9zM94.6 79.1h0.9v0.9h-0.9zM106.7 80.5h0.9v0.9h-0.9zM101.4 65.7h0.9v0.9h-0.9zM101.0 76.8h0.9v0.9h-0.9zM100.8 80.9h0.9v0.9h-0.9zM106.3 68.7h0.9v0.9h-0.9zM101.7 71.2h0.9v0.9h-0.9zM91.0 69.0h0.9v0.9h-0.9zM97.9 80.4h0.9v0.9h-0.9zM100.9 67.7h0.9v0.9h-0.9zM102.6 74.6h0.9v0.9h-0.9zM99.8 68.5h0.9v0.9h-0.9zM107.5 67.7h0.9v0.9h-0.9zM99.6 66.4h0.9v0.9h-0.9zM100.2 77.5h0.9v0.9h-0.9zM101.3 85.5h0.9v0.9h-0.9zM91.3 76.4h0.9v0.9h-0.9zM106.1 79.2h0.9v0.9h-0.9zM102.9 66.2h0.9v0.9h-0.9zM98.6 77.5h0.9v0.9h-0.9zM93.5 94.8h0.9v0.9h-0.9zM101.6 63.2h0.9v0.9h-0.9zM108.7 80.5h0.9v0.9h-0.9zM96.5 85.0h0.9v0.9h-0.9zM94.0 62.7h0.9v0.9h-0.9zM102.9 62.5h0.9v0.9h-0.9zM90.8 70.8h0.9v0.9h-0.9zM87.0 87.2h0.9v0.9h-0.9zM97.7 72.2h0.9v0.9h-0.9zM96.2 74.8h0.9v0.9h-0.9zM98.7 80.5h0.9v0.9h-0.9zM97.0 76.7h0.9v0.9h-0.9zM102.3 75.4h0.9v0.9h-0.9zM99.0 72.5h0.9v0.9h-0.9zM96.7 84.5h0.9v0.9h-0.9zM97.6 69.6h0.9v0.9h-0.9zM104.1 85.7h0.9v0.9h-0.9zM106.1 69.6h0.9v0.9h-0.9zM105.8 66.2h0.9v0.9h-0.9zM104.5 77.7h0.9v0.9h-0.9zM80.6 85.8h0.9v0.9h-0.9zM94.3 61.7h0.9v0.9h-0.9zM98.5 76.9h0.9v0.9h-0.9zM101.6 63.6h0.9v0.9h-0.9zM90.6 72.0h0.9v0.9h-0.9zM102.2 67.1h0.9v0.9h-0.9zM96.6 78.6h0.9v0.9h-0.9zM101.3 71.1h0.9v0.9h-0.9zM98.3 90.0h0.9v0.9h-0.9zM95.8 75.5h0.9v0.9h-0.9zM103.4 64.2h0.9v0.9h-0.9zM97.6 67.1h0.9v0.9h-0.9zM73.3 88.9h0.9v0.9h-0.9zM81.6 86.7h0.9v0.9h-0.9zM80.5 76.8h0.9v0.9h-0.9zM88.3 86.3h0.9v0.9h-0.9zM81.9 86.2h0.9v0.9h-0.9zM81.6 71.6h0.9v0.9h-0.9zM83.1 94.4h0.9v0.9h-0.9zM79.5 72.7h0.9v0.9h-0.9zM82.9 76.8h0.9v0.9h-0.9zM86.8 71.8h0.9v0.9h-0.9zM86.8 78.8h0.9v0.9h-0.9zM76.2 70.5h0.9v0.9h-0.9zM66.4 78.3h0.9v0.9h-0.9zM74.1 84.8h0.9v0.9h-0.9zM82.8 79.6h0.9v0.9h-0.9zM60.6 76.7h0.9v0.9h-0.9zM76.7 87.6h0.9v0.9h-0.9zM84.1 73.0h0.9v0.9h-0.9zM76.0 84.1h0.9v0.9h-0.9zM71.6 76.5h0.9v0.9h-0.9z" fill="#3a3a3a" stroke="none" stroke-width="1" fill-opacity="0.6"/>
<rect x="52.50" y="57.70" width="57.80" height="46.80" fill="none" stroke="#333" stroke-width="1.1"/>
<line x1="86.40" y1="57.70" x2="86.40" y2="104.50" stroke="#222" stroke-width="1.1"/>
<line x1="52.50" y1="88.60" x2="110.30" y2="88.60" stroke="#222" stroke-width="1.1"/>
<text x="54.70" y="95.86" font-size="8.3" font-weight="bold" stroke="#000" stroke-width="0.3" text-anchor="start" fill="#000">87</text>
<g clip-path="url(#c111_57)"><ellipse cx="129" cy="99" rx="9.5" ry="5" fill="#505050" fill-opacity="0.85" filter="url(#b2)" transform="rotate(-10 129 99)"/></g>
<g clip-path="url(#c111_57)"><ellipse cx="143" cy="75" rx="13" ry="7.5" fill="#777" fill-opacity="0.4" filter="url(#b2)" transform="rotate(0 143 75)"/></g>
<path d="M130.6 96.1h0.9v0.9h-0.9zM129.5 101.6h0.9v0.9h-0.9zM130.1 99.8h0.9v0.9h-0.9zM129.0 96.7h0.9v0.9h-0.9zM124.6 96.1h0.9v0.9h-0.9zM125.9 93.0h0.9v0.9h-0.9zM131.9 98.2h0.9v0.9h-0.9zM122.3 95.1h0.9v0.9h-0.9zM125.1 99.2h0.9v0.9h-0.9zM125.1 96.0h0.9v0.9h-0.9zM128.9 101.1h0.9v0.9h-0.9zM130.3 100.1h0.9v0.9h-0.9zM129.8 97.8h0.9v0.9h-0.9zM125.3 91.9h0.9v0.9h-0.9zM129.4 96.7h0.9v0.9h-0.9zM121.0 101.3h0.9v0.9h-0.9zM112.0 95.1h0.9v0.9h-0.9zM128.9 100.5h0.9v0.9h-0.9zM119.3 95.4h0.9v0.9h-0.9zM123.6 91.4h0.9v0.9h-0.9zM122.0 98.8h0.9v0.9h-0.9zM133.0 100.1h0.9v0.9h-0.9zM122.0 95.5h0.9v0.9h-0.9zM130.9 97.4h0.9v0.9h-0.9zM126.3 99.0h0.9v0.9h-0.9zM121.8 95.4h0.9v0.9h-0.9zM119.7 98.2h0.9v0.9h-0.9zM132.0 98.2h0.9v0.9h-0.9zM131.5 90.9h0.9v0.9h-0.9zM133.8 98.6h0.9v0.9h-0.9zM140.1 98.0h0.9v0.9h-0.9zM130.8 95.9h0.9v0.9h-0.9zM130.8 100.0h0.9v0.9h-0.9zM128.4 96.7h0.9v0.9h-0.9zM129.8 100.3h0.9v0.9h-0.9zM127.0 101.8h0.9v0.9h-0.9zM123.8 98.1h0.9v0.9h-0.9zM141.1 95.0h0.9v0.9h-0.9zM117.9 94.4h0.9v0.9h-0.9zM130.6 101.7h0.9v0.9h-0.9zM131.8 98.0h0.9v0.9h-0.9zM130.0 95.9h0.9v0.9h-0.9zM123.3 97.3h0.9v0.9h-0.9zM127.9 100.0h0.9v0.9h-0.9zM126.3 98.9h0.9v0.9h-0.9zM122.6 99.7h0.9v0.9h-0.9zM128.8 95.6h0.9v0.9h-0.9zM126.6 97.2h0.9v0.9h-0.9zM125.7 97.1h0.9v0.9h-0.9zM133.1 99.0h0.9v0.9h-0.9zM122.7 90.5h0.9v0.9h-0.9zM131.7 98.0h0.9v0.9h-0.9zM125.4 93.4h0.9v0.9h-0.9zM131.6 103.5h0.9v0.9h-0.9zM123.1 100.3h0.9v0.9h-0.9zM124.4 96.1h0.9v0.9h-0.9zM123.9 100.9h0.9v0.9h-0.9zM130.0 97.9h0.9v0.9h-0.9zM133.5 101.1h0.9v0.9h-0.9zM135.4 96.4h0.9v0.9h-0.9zM126.0 96.0h0.9v0.9h-0.9zM129.5 100.1h0.9v0.9h-0.9zM119.3 103.0h0.9v0.9h-0.9zM115.7 96.4h0.9v0.9h-0.9zM119.7 92.8h0.9v0.9h-0.9zM118.3 96.8h0.9v0.9h-0.9zM132.1 95.7h0.9v0.9h-0.9zM124.1 97.3h0.9v0.9h-0.9zM118.9 95.2h0.9v0.9h-0.9zM142.8 100.2h0.9v0.9h-0.9zM130.0 101.8h0.9v0.9h-0.9zM127.0 101.3h0.9v0.9h-0.9zM133.0 99.9h0.9v0.9h-0.9zM124.4 97.8h0.9v0.9h-0.9zM138.4 100.2h0.9v0.9h-0.9zM119.7 97.5h0.9v0.9h-0.9zM121.1 99.2h0.9v0.9h-0.9zM128.1 98.3h0.9v0.9h-0.9zM124.3 99.4h0.9v0.9h-0.9zM137.3 95.3h0.9v0.9h-0.9zM119.3 99.7h0.9v0.9h-0.9zM130.3 99.3h0.9v0.9h-0.9zM132.2 94.2h0.9v0.9h-0.9zM130.9 97.6h0.9v0.9h-0.9zM142.0 90.3h0.9v0.9h-0.9zM126.0 97.3h0.9v0.9h-0.9zM129.9 100.6h0.9v0.9h-0.9zM133.9 100.5h0.9v0.9h-0.9zM126.9 102.3h0.9v0.9h-0.9zM127.1 100.3h0.9v0.9h-0.9zM126.0 98.4h0.9v0.9h-0.9zM124.9 91.2h0.9v0.9h-0.9zM122.0 93.7h0.9v0.9h-0.9zM125.5 98.5h0.9v0.9h-0.9zM119.5 99.3h0.9v0.9h-0.9zM131.1 95.3h0.9v0.9h-0.9zM119.3 95.0h0.9v0.9h-0.9zM141.1 101.8h0.9v0.9h-0.9zM138.9 93.5h0.9v0.9h-0.9zM135.4 92.9h0.9v0.9h-0.9zM127.5 97.5h0.9v0.9h-0.9zM125.2 98.8h0.9v0.9h-0.9zM136.1 97.9h0.9v0.9h-0.9zM129.8 90.9h0.9v0.9h-0.9zM132.1 99.0h0.9v0.9h-0.9zM124.4 93.3h0.9v0.9h-0.9zM135.1 101.5h0.9v0.9h-0.9zM124.0 97.4h0.9v0.9h-0.9zM129.4 99.4h0.9v0.9h-0.9zM118.4 99.1h0.9v0.9h-0.9zM124.8 96.1h0.9v0.9h-0.9zM131.7 101.6h0.9v0.9h-0.9zM126.0 102.2h0.9v0.9h-0.9zM126.0 99.4h0.9v0.9h-0.9zM128.3 96.3h0.9v0.9h-0.9zM136.1 102.6h0.9v0.9h-0.9zM114.3 97.2h0.9v0.9h-0.9zM132.1 95.6h0.9v0.9h-0.9zM131.7 98.6h0.9v0.9h-0.9zM119.5 95.3h0.9v0.9h-0.9zM120.9 95.4h0.9v0.9h-0.9zM133.9 99.5h0.9v0.9h-0.9zM122.3 101.0h0.9v0.9h-0.9zM124.9 96.8h0.9v0.9h-0.9zM132.3 99.4h0.9v0.9h-0.9zM126.7 93.2h0.9v0.9h-0.9zM131.5 99.2h0.9v0.9h-0.9zM123.5 101.5h0.9v0.9h-0.9zM130.5 101.4h0.9v0.9h-0.9zM135.2 101.0h0.9v0.9h-0.9zM130.6 96.9h0.9v0.9h-0.9zM115.6 93.2h0.9v0.9h-0.9zM132.6 98.7h0.9v0.9h-0.9zM129.0 94.0h0.9v0.9h-0.9zM123.3 93.5h0.9v0.9h-0.9zM137.0 102.8h0.9v0.9h-0.9zM118.3 93.8h0.9v0.9h-0.9zM124.9 93.1h0.9v0.9h-0.9zM138.1 101.2h0.9v0.9h-0.9zM128.4 94.4h0.9v0.9h-0.9zM120.7 97.8h0.9v0.9h-0.9zM129.2 95.0h0.9v0.9h-0.9zM130.7 98.8h0.9v0.9h-0.9zM131.9 98.4h0.9v0.9h-0.9zM135.0 97.8h0.9v0.9h-0.9zM123.3 99.4h0.9v0.9h-0.9zM133.1 97.1h0.9v0.9h-0.9zM127.1 101.1h0.9v0.9h-0.9zM123.1 97.9h0.9v0.9h-0.9zM123.0 97.5h0.9v0.9h-0.9zM133.4 91.8h0.9v0.9h-0.9zM123.7 95.4h0.9v0.9h-0.9zM120.7 91.2h0.9v0.9h-0.9zM136.1 98.4h0.9v0.9h-0.9zM119.4 96.3h0.9v0.9h-0.9zM123.9 98.9h0.9v0.9h-0.9zM118.2 102.9h0.9v0.9h-0.9zM129.4 102.9h0.9v0.9h-0.9zM127.5 96.8h0.9v0.9h-0.9zM137.3 101.3h0.9v0.9h-0.9zM127.5 98.8h0.9v0.9h-0.9zM134.8 100.0h0.9v0.9h-0.9zM134.9 101.0h0.9v0.9h-0.9zM125.5 92.9h0.9v0.9h-0.9zM123.5 94.9h0.9v0.9h-0.9zM138.3 100.9h0.9v0.9h-0.9zM126.5 99.9h0.9v0.9h-0.9zM128.5 95.3h0.9v0.9h-0.9zM126.9 97.1h0.9v0.9h-0.9zM127.9 97.9h0.9v0.9h-0.9zM125.1 97.4h0.9v0.9h-0.9zM133.1 101.4h0.9v0.9h-0.9zM136.2 99.9h0.9v0.9h-0.9zM126.4 98.6h0.9v0.9h-0.9zM120.4 92.5h0.9v0.9h-0.9zM129.0 94.9h0.9v0.9h-0.9zM119.8 98.2h0.9v0.9h-0.9zM124.8 92.5h0.9v0.9h-0.9zM136.0 100.4h0.9v0.9h-0.9zM142.5 98.2h0.9v0.9h-0.9zM130.9 96.0h0.9v0.9h-0.9zM122.3 99.7h0.9v0.9h-0.9zM133.3 96.8h0.9v0.9h-0.9zM115.3 93.6h0.9v0.9h-0.9zM124.5 95.5h0.9v0.9h-0.9zM137.8 99.9h0.9v0.9h-0.9zM120.4 90.1h0.9v0.9h-0.9zM118.7 96.9h0.9v0.9h-0.9zM133.8 98.3h0.9v0.9h-0.9zM128.4 101.6h0.9v0.9h-0.9zM125.1 96.6h0.9v0.9h-0.9zM131.1 90.4h0.9v0.9h-0.9zM125.2 102.3h0.9v0.9h-0.9zM117.2 93.0h0.9v0.9h-0.9zM133.5 98.9h0.9v0.9h-0.9zM124.8 93.2h0.9v0.9h-0.9zM122.7 93.8h0.9v0.9h-0.9zM120.7 95.5h0.9v0.9h-0.9zM130.2 101.5h0.9v0.9h-0.9zM123.9 100.5h0.9v0.9h-0.9zM132.4 96.9h0.9v0.9h-0.9zM127.1 99.8h0.9v0.9h-0.9zM135.1 98.1h0.9v0.9h-0.9zM126.4 98.4h0.9v0.9h-0.9zM124.8 98.3h0.9v0.9h-0.9zM116.9 98.7h0.9v0.9h-0.9zM122.1 95.3h0.9v0.9h-0.9zM133.0 98.5h0.9v0.9h-0.9zM146.9 101.8h0.9v0.9h-0.9zM121.2 97.6h0.9v0.9h-0.9zM122.5 94.8h0.9v0.9h-0.9zM131.5 97.2h0.9v0.9h-0.9zM124.6 100.3h0.9v0.9h-0.9zM129.1 99.1h0.9v0.9h-0.9zM119.1 101.1h0.9v0.9h-0.9zM126.9 90.7h0.9v0.9h-0.9zM138.4 99.1h0.9v0.9h-0.9zM127.7 94.1h0.9v0.9h-0.9zM127.1 98.6h0.9v0.9h-0.9zM135.3 101.0h0.9v0.9h-0.9zM131.6 94.6h0.9v0.9h-0.9zM124.2 96.1h0.9v0.9h-0.9zM130.8 103.2h0.9v0.9h-0.9zM134.4 94.5h0.9v0.9h-0.9zM124.4 97.1h0.9v0.9h-0.9zM120.7 96.2h0.9v0.9h-0.9zM130.9 97.7h0.9v0.9h-0.9zM129.2 96.1h0.9v0.9h-0.9zM124.8 95.1h0.9v0.9h-0.9zM126.1 101.4h0.9v0.9h-0.9zM122.5 99.6h0.9v0.9h-0.9zM123.0 91.7h0.9v0.9h-0.9zM125.3 100.0h0.9v0.9h-0.9zM125.8 100.1h0.9v0.9h-0.9zM135.3 97.3h0.9v0.9h-0.9zM121.4 98.0h0.9v0.9h-0.9zM128.4 99.2h0.9v0.9h-0.9zM125.2 96.2h0.9v0.9h-0.9zM137.6 97.7h0.9v0.9h-0.9zM130.3 96.3h0.9v0.9h-0.9zM126.5 97.1h0.9v0.9h-0.9zM133.6 94.6h0.9v0.9h-0.9zM129.1 98.3h0.9v0.9h-0.9zM125.9 92.9h0.9v0.9h-0.9zM137.9 99.9h0.9v0.9h-0.9zM132.9 98.7h0.9v0.9h-0.9zM139.0 96.4h0.9v0.9h-0.9zM135.6 102.2h0.9v0.9h-0.9zM129.5 102.9h0.9v0.9h-0.9zM122.2 92.8h0.9v0.9h-0.9zM132.9 103.2h0.9v0.9h-0.9zM129.2 99.1h0.9v0.9h-0.9zM132.8 98.8h0.9v0.9h-0.9zM128.7 96.3h0.9v0.9h-0.9zM124.6 97.7h0.9v0.9h-0.9zM122.7 102.1h0.9v0.9h-0.9zM132.9 100.8h0.9v0.9h-0.9zM136.4 98.1h0.9v0.9h-0.9zM127.0 95.8h0.9v0.9h-0.9zM131.4 97.3h0.9v0.9h-0.9zM137.0 101.5h0.9v0.9h-0.9zM126.7 94.5h0.9v0.9h-0.9zM122.1 97.4h0.9v0.9h-0.9zM135.8 98.1h0.9v0.9h-0.9zM130.3 96.0h0.9v0.9h-0.9zM126.0 99.3h0.9v0.9h-0.9zM118.9 98.8h0.9v0.9h-0.9zM127.7 93.4h0.9v0.9h-0.9zM134.7 95.7h0.9v0.9h-0.9zM127.0 102.1h0.9v0.9h-0.9zM126.2 99.0h0.9v0.9h-0.9zM132.6 100.7h0.9v0.9h-0.9zM121.4 95.6h0.9v0.9h-0.9zM129.1 97.1h0.9v0.9h-0.9zM132.3 100.4h0.9v0.9h-0.9zM124.1 96.0h0.9v0.9h-0.9zM123.8 93.9h0.9v0.9h-0.9zM130.2 98.6h0.9v0.9h-0.9zM128.2 101.3h0.9v0.9h-0.9zM127.4 94.7h0.9v0.9h-0.9zM130.0 102.1h0.9v0.9h-0.9zM130.1 100.9h0.9v0.9h-0.9zM123.3 94.6h0.9v0.9h-0.9zM124.8 97.8h0.9v0.9h-0.9zM131.4 98.6h0.9v0.9h-0.9zM135.5 101.5h0.9v0.9h-0.9zM136.8 101.8h0.9v0.9h-0.9zM123.7 93.2h0.9v0.9h-0.9zM135.3 94.8h0.9v0.9h-0.9zM133.3 102.5h0.9v0.9h-0.9zM128.6 98.7h0.9v0.9h-0.9zM131.7 100.2h0.9v0.9h-0.9zM133.7 100.2h0.9v0.9h-0.9zM122.5 93.4h0.9v0.9h-0.9zM132.4 102.5h0.9v0.9h-0.9zM128.0 95.5h0.9v0.9h-0.9zM127.6 100.6h0.9v0.9h-0.9zM133.7 94.4h0.9v0.9h-0.9zM122.8 98.8h0.9v0.9h-0.9zM127.1 97.2h0.9v0.9h-0.9zM130.2 97.6h0.9v0.9h-0.9zM120.4 97.3h0.9v0.9h-0.9zM133.9 95.6h0.9v0.9h-0.9zM128.4 95.1h0.9v0.9h-0.9zM129.8 100.7h0.9v0.9h-0.9zM130.8 101.5h0.9v0.9h-0.9zM139.6 98.0h0.9v0.9h-0.9zM129.0 93.5h0.9v0.9h-0.9zM125.8 99.1h0.9v0.9h-0.9zM125.7 94.5h0.9v0.9h-0.9zM120.6 95.2h0.9v0.9h-0.9zM135.2 100.1h0.9v0.9h-0.9zM130.4 95.4h0.9v0.9h-0.9zM129.8 99.0h0.9v0.9h-0.9zM128.0 99.6h0.9v0.9h-0.9zM124.2 94.2h0.9v0.9h-0.9zM124.2 94.6h0.9v0.9h-0.9zM131.4 96.1h0.9v0.9h-0.9zM129.6 99.4h0.9v0.9h-0.9zM138.5 98.9h0.9v0.9h-0.9zM124.3 96.7h0.9v0.9h-0.9zM125.9 99.0h0.9v0.9h-0.9zM122.8 98.2h0.9v0.9h-0.9zM121.5 96.6h0.9v0.9h-0.9zM133.4 95.6h0.9v0.9h-0.9zM137.4 99.6h0.9v0.9h-0.9zM128.0 103.1h0.9v0.9h-0.9zM133.1 97.1h0.9v0.9h-0.9zM116.2 96.7h0.9v0.9h-0.9zM126.5 96.8h0.9v0.9h-0.9zM119.0 98.3h0.9v0.9h-0.9zM129.9 99.4h0.9v0.9h-0.9zM128.9 95.7h0.9v0.9h-0.9zM139.2 79.2h0.9v0.9h-0.9zM151.8 73.5h0.9v0.9h-0.9zM153.5 67.1h0.9v0.9h-0.9zM151.6 78.5h0.9v0.9h-0.9zM151.0 63.3h0.9v0.9h-0.9zM138.0 79.5h0.9v0.9h-0.9zM137.7 69.1h0.9v0.9h-0.9zM151.7 76.1h0.9v0.9h-0.9zM128.9 85.5h0.9v0.9h-0.9zM141.0 78.5h0.9v0.9h-0.9zM121.5 73.1h0.9v0.9h-0.9zM137.5 74.9h0.9v0.9h-0.9zM134.0 73.0h0.9v0.9h-0.9zM128.6 68.3h0.9v0.9h-0.9zM147.9 66.3h0.9v0.9h-0.9zM133.7 75.8h0.9v0.9h-0.9zM137.7 78.7h0.9v0.9h-0.9zM138.9 63.0h0.9v0.9h-0.9zM133.7 75.1h0.9v0.9h-0.9zM157.0 76.0h0.9v0.9h-0.9zM136.3 75.9h0.9v0.9h-0.9zM143.8 67.5h0.9v0.9h-0.9zM127.5 83.3h0.9v0.9h-0.9zM136.5 66.9h0.9v0.9h-0.9zM138.1 79.3h0.9v0.9h-0.9zM138.3 85.7h0.9v0.9h-0.9zM135.3 61.5h0.9v0.9h-0.9zM143.2 76.0h0.9v0.9h-0.9zM158.5 74.4h0.9v0.9h-0.9zM140.2 76.2h0.9v0.9h-0.9zM140.1 69.5h0.9v0.9h-0.9zM137.4 72.9h0.9v0.9h-0.9zM159.1 73.1h0.9v0.9h-0.9zM147.7 77.3h0.9v0.9h-0.9zM149.3 69.0h0.9v0.9h-0.9zM134.0 69.2h0.9v0.9h-0.9zM140.0 71.5h0.9v0.9h-0.9zM143.9 74.1h0.9v0.9h-0.9zM142.9 74.7h0.9v0.9h-0.9zM132.4 74.9h0.9v0.9h-0.9zM133.2 76.0h0.9v0.9h-0.9zM147.2 64.9h0.9v0.9h-0.9zM118.9 81.5h0.9v0.9h-0.9zM142.7 83.9h0.9v0.9h-0.9zM155.4 63.1h0.9v0.9h-0.9zM134.7 70.8h0.9v0.9h-0.9zM144.2 76.1h0.9v0.9h-0.9zM126.0 82.8h0.9v0.9h-0.9zM150.6 77.6h0.9v0.9h-0.9zM129.6 84.5h0.9v0.9h-0.9zM128.2 75.7h0.9v0.9h-0.9zM138.2 77.6h0.9v0.9h-0.9zM167.2 73.9h0.9v0.9h-0.9zM135.1 72.3h0.9v0.9h-0.9zM128.0 84.2h0.9v0.9h-0.9zM146.6 77.9h0.9v0.9h-0.9zM144.1 80.6h0.9v0.9h-0.9zM159.5 69.5h0.9v0.9h-0.9zM128.0 83.0h0.9v0.9h-0.9zM124.5 69.5h0.9v0.9h-0.9zM138.3 77.5h0.9v0.9h-0.9zM145.5 67.1h0.9v0.9h-0.9zM153.4 77.8h0.9v0.9h-0.9zM125.6 73.4h0.9v0.9h-0.9zM132.8 76.7h0.9v0.9h-0.9zM140.2 63.7h0.9v0.9h-0.9zM150.7 83.6h0.9v0.9h-0.9zM146.8 77.7h0.9v0.9h-0.9zM137.1 74.8h0.9v0.9h-0.9zM130.7 78.6h0.9v0.9h-0.9zM151.2 75.4h0.9v0.9h-0.9zM151.9 82.6h0.9v0.9h-0.9zM139.8 64.7h0.9v0.9h-0.9zM159.2 70.4h0.9v0.9h-0.9zM128.6 84.6h0.9v0.9h-0.9zM135.8 78.9h0.9v0.9h-0.9zM134.4 72.5h0.9v0.9h-0.9zM136.7 79.1h0.9v0.9h-0.9zM132.2 76.3h0.9v0.9h-0.9zM135.8 79.2h0.9v0.9h-0.9zM141.1 63.8h0.9v0.9h-0.9zM136.8 69.0h0.9v0.9h-0.9zM148.8 77.9h0.9v0.9h-0.9zM140.8 73.0h0.9v0.9h-0.9zM141.7 76.7h0.9v0.9h-0.9zM157.6 85.5h0.9v0.9h-0.9zM145.1 71.8h0.9v0.9h-0.9zM143.3 75.8h0.9v0.9h-0.9zM141.5 70.6h0.9v0.9h-0.9zM142.3 70.1h0.9v0.9h-0.9zM147.9 73.1h0.9v0.9h-0.9zM133.0 65.7h0.9v0.9h-0.9zM154.0 58.7h0.9v0.9h-0.9zM158.6 81.4h0.9v0.9h-0.9zM154.1 72.1h0.9v0.9h-0.9zM136.4 82.6h0.9v0.9h-0.9zM124.5 77.4h0.9v0.9h-0.9zM137.0 76.0h0.9v0.9h-0.9zM143.3 78.6h0.9v0.9h-0.9zM150.6 78.0h0.9v0.9h-0.9zM139.7 66.5h0.9v0.9h-0.9zM138.4 82.9h0.9v0.9h-0.9zM158.1 65.8h0.9v0.9h-0.9zM134.5 76.6h0.9v0.9h-0.9zM153.2 90.0h0.9v0.9h-0.9zM151.4 73.7h0.9v0.9h-0.9zM127.3 87.4h0.9v0.9h-0.9zM144.7 71.7h0.9v0.9h-0.9zM135.7 79.2h0.9v0.9h-0.9zM131.5 76.0h0.9v0.9h-0.9zM121.7 79.7h0.9v0.9h-0.9zM124.8 70.8h0.9v0.9h-0.9zM146.1 67.6h0.9v0.9h-0.9zM137.5 77.1h0.9v0.9h-0.9zM144.6 63.5h0.9v0.9h-0.9zM130.2 70.2h0.9v0.9h-0.9zM138.2 79.1h0.9v0.9h-0.9zM138.8 70.6h0.9v0.9h-0.9zM125.0 70.5h0.9v0.9h-0.9zM123.8 69.2h0.9v0.9h-0.9zM146.4 74.7h0.9v0.9h-0.9zM143.3 71.7h0.9v0.9h-0.9zM131.6 76.6h0.9v0.9h-0.9zM140.6 73.2h0.9v0.9h-0.9zM148.8 85.9h0.9v0.9h-0.9zM161.4 68.9h0.9v0.9h-0.9zM132.1 62.5h0.9v0.9h-0.9zM148.3 74.3h0.9v0.9h-0.9zM164.5 71.5h0.9v0.9h-0.9zM142.4 75.3h0.9v0.9h-0.9zM157.5 61.6h0.9v0.9h-0.9zM113.8 85.5h0.9v0.9h-0.9zM157.3 72.2h0.9v0.9h-0.9zM141.6 74.1h0.9v0.9h-0.9zM121.5 66.4h0.9v0.9h-0.9zM150.1 76.5h0.9v0.9h-0.9zM153.0 72.5h0.9v0.9h-0.9zM154.7 81.7h0.9v0.9h-0.9zM154.6 69.9h0.9v0.9h-0.9zM141.4 66.1h0.9v0.9h-0.9zM133.6 76.3h0.9v0.9h-0.9zM136.7 68.9h0.9v0.9h-0.9zM141.3 77.2h0.9v0.9h-0.9zM146.1 66.6h0.9v0.9h-0.9zM136.5 74.2h0.9v0.9h-0.9zM142.2 72.8h0.9v0.9h-0.9zM151.1 72.9h0.9v0.9h-0.9zM145.2 70.5h0.9v0.9h-0.9zM166.4 65.8h0.9v0.9h-0.9zM164.9 71.0h0.9v0.9h-0.9zM129.3 72.1h0.9v0.9h-0.9zM135.6 76.2h0.9v0.9h-0.9zM127.6 74.4h0.9v0.9h-0.9zM129.1 61.0h0.9v0.9h-0.9zM147.6 73.2h0.9v0.9h-0.9zM131.0 85.0h0.9v0.9h-0.9zM130.4 77.8h0.9v0.9h-0.9zM138.8 78.7h0.9v0.9h-0.9zM150.3 76.3h0.9v0.9h-0.9zM137.8 71.7h0.9v0.9h-0.9zM137.8 66.0h0.9v0.9h-0.9zM151.6 78.5h0.9v0.9h-0.9zM146.8 80.7h0.9v0.9h-0.9zM146.6 77.5h0.9v0.9h-0.9zM151.9 75.9h0.9v0.9h-0.9zM130.7 78.4h0.9v0.9h-0.9zM144.0 73.9h0.9v0.9h-0.9zM134.8 77.1h0.9v0.9h-0.9zM152.8 73.0h0.9v0.9h-0.9zM150.5 75.4h0.9v0.9h-0.9zM130.4 69.5h0.9v0.9h-0.9zM156.1 68.4h0.9v0.9h-0.9zM129.1 79.8h0.9v0.9h-0.9zM154.3 70.5h0.9v0.9h-0.9zM143.9 58.1h0.9v0.9h-0.9zM132.3 76.4h0.9v0.9h-0.9zM129.6 60.8h0.9v0.9h-0.9zM138.4 87.5h0.9v0.9h-0.9zM141.4 79.2h0.9v0.9h-0.9zM134.0 79.8h0.9v0.9h-0.9zM147.8 69.2h0.9v0.9h-0.9zM126.5 68.9h0.9v0.9h-0.9zM141.6 73.0h0.9v0.9h-0.9zM141.7 74.5h0.9v0.9h-0.9zM121.4 71.9h0.9v0.9h-0.9zM145.0 75.0h0.9v0.9h-0.9zM128.0 80.7h0.9v0.9h-0.9zM114.6 81.8h0.9v0.9h-0.9zM135.0 68.4h0.9v0.9h-0.9zM139.2 60.4h0.9v0.9h-0.9zM151.5 73.2h0.9v0.9h-0.9zM136.4 70.7h0.9v0.9h-0.9zM157.6 75.3h0.9v0.9h-0.9zM157.2 83.2h0.9v0.9h-0.9zM153.5 83.7h0.9v0.9h-0.9zM156.0 74.5h0.9v0.9h-0.9zM145.5 81.2h0.9v0.9h-0.9zM135.6 86.0h0.9v0.9h-0.9zM148.7 73.8h0.9v0.9h-0.9zM152.2 74.9h0.9v0.9h-0.9zM144.3 79.7h0.9v0.9h-0.9zM139.0 74.5h0.9v0.9h-0.9zM124.7 73.3h0.9v0.9h-0.9zM149.0 68.6h0.9v0.9h-0.9zM145.5 74.0h0.9v0.9h-0.9zM127.6 72.2h0.9v0.9h-0.9zM142.7 79.6h0.9v0.9h-0.9zM149.5 71.3h0.9v0.9h-0.9zM140.5 84.2h0.9v0.9h-0.9zM150.2 81.3h0.9v0.9h-0.9zM149.8 65.3h0.9v0.9h-0.9zM125.7 83.6h0.9v0.9h-0.9zM138.4 72.3h0.9v0.9h-0.9zM146.9 82.8h0.9v0.9h-0.9zM151.6 76.6h0.9v0.9h-0.9zM157.0 72.2h0.9v0.9h-0.9zM120.9 81.6h0.9v0.9h-0.9zM140.9 70.9h0.9v0.9h-0.9zM149.4 75.7h0.9v0.9h-0.9zM155.0 75.3h0.9v0.9h-0.9zM160.0 71.2h0.9v0.9h-0.9zM131.5 78.3h0.9v0.9h-0.9zM137.6 68.5h0.9v0.9h-0.9zM130.2 79.6h0.9v0.9h-0.9zM150.5 65.5h0.9v0.9h-0.9zM127.3 80.4h0.9v0.9h-0.9zM154.5 76.0h0.9v0.9h-0.9zM151.8 77.9h0.9v0.9h-0.9zM147.0 70.2h0.9v0.9h-0.9zM118.1 97.4h0.9v0.9h-0.9zM134.3 74.0h0.9v0.9h-0.9zM149.8 74.5h0.9v0.9h-0.9zM126.3 71.6h0.9v0.9h-0.9zM139.1 84.3h0.9v0.9h-0.9zM140.5 71.7h0.9v0.9h-0.9zM151.3 79.9h0.9v0.9h-0.9zM144.7 68.0h0.9v0.9h-0.9zM144.6 76.3h0.9v0.9h-0.9zM136.9 72.8h0.9v0.9h-0.9zM141.7 80.7h0.9v0.9h-0.9zM140.2 72.9h0.9v0.9h-0.9zM149.6 68.0h0.9v0.9h-0.9zM139.7 77.8h0.9v0.9h-0.9zM152.9 65.4h0.9v0.9h-0.9zM123.2 70.8h0.9v0.9h-0.9zM154.7 78.0h0.9v0.9h-0.9zM139.8 62.7h0.9v0.9h-0.9zM153.9 78.1h0.9v0.9h-0.9zM142.6 71.9h0.9v0.9h-0.9zM150.9 67.5h0.9v0.9h-0.9zM157.9 74.2h0.9v0.9h-0.9zM135.6 79.6h0.9v0.9h-0.9zM142.5 70.8h0.9v0.9h-0.9zM139.8 73.8h0.9v0.9h-0.9zM143.9 79.6h0.9v0.9h-0.9zM124.1 81.8h0.9v0.9h-0.9zM139.8 74.6h0.9v0.9h-0.9zM138.9 70.1h0.9v0.9h-0.9zM133.1 69.7h0.9v0.9h-0.9zM139.5 71.1h0.9v0.9h-0.9zM124.9 81.3h0.9v0.9h-0.9zM156.8 76.6h0.9v0.9h-0.9zM146.5 76.1h0.9v0.9h-0.9zM162.1 81.2h0.9v0.9h-0.9zM132.1 74.0h0.9v0.9h-0.9zM129.0 73.9h0.9v0.9h-0.9zM144.7 71.9h0.9v0.9h-0.9zM123.5 89.5h0.9v0.9h-0.9zM144.1 61.1h0.9v0.9h-0.9zM134.0 77.7h0.9v0.9h-0.9zM138.0 78.2h0.9v0.9h-0.9zM144.4 74.9h0.9v0.9h-0.9zM142.1 89.9h0.9v0.9h-0.9zM161.9 79.8h0.9v0.9h-0.9zM148.5 78.9h0.9v0.9h-0.9zM127.6 70.8h0.9v0.9h-0.9zM152.3 76.7h0.9v0.9h-0.9zM127.1 74.3h0.9v0.9h-0.9zM142.6 75.0h0.9v0.9h-0.9zM128.1 77.9h0.9v0.9h-0.9zM132.6 72.9h0.9v0.9h-0.9zM155.9 77.1h0.9v0.9h-0.9zM135.6 86.2h0.9v0.9h-0.9zM134.6 82.5h0.9v0.9h-0.9zM135.5 77.1h0.9v0.9h-0.9zM138.2 62.8h0.9v0.9h-0.9zM157.3 79.9h0.9v0.9h-0.9zM128.8 83.5h0.9v0.9h-0.9zM128.2 75.4h0.9v0.9h-0.9zM147.9 71.0h0.9v0.9h-0.9zM124.3 81.4h0.9v0.9h-0.9zM137.6 70.2h0.9v0.9h-0.9zM153.9 78.5h0.9v0.9h-0.9zM141.6 68.0h0.9v0.9h-0.9zM136.4 69.7h0.9v0.9h-0.9zM133.9 76.0h0.9v0.9h-0.9zM131.6 66.8h0.9v0.9h-0.9zM135.1 75.8h0.9v0.9h-0.9zM143.0 78.2h0.9v0.9h-0.9zM155.1 64.8h0.9v0.9h-0.9zM152.0 79.6h0.9v0.9h-0.9zM135.4 72.1h0.9v0.9h-0.9zM133.6 79.5h0.9v0.9h-0.9zM149.1 75.4h0.9v0.9h-0.9zM121.8 74.6h0.9v0.9h-0.9zM136.7 72.2h0.9v0.9h-0.9zM138.0 64.4h0.9v0.9h-0.9zM129.4 72.0h0.9v0.9h-0.9zM130.7 71.4h0.9v0.9h-0.9zM145.3 85.1h0.9v0.9h-0.9zM123.5 83.8h0.9v0.9h-0.9zM131.5 67.4h0.9v0.9h-0.9zM134.4 81.1h0.9v0.9h-0.9zM142.3 76.3h0.9v0.9h-0.9zM126.5 74.5h0.9v0.9h-0.9zM153.2 76.5h0.9v0.9h-0.9zM138.1 80.5h0.9v0.9h-0.9zM138.6 71.7h0.9v0.9h-0.9zM137.5 73.8h0.9v0.9h-0.9zM134.1 77.0h0.9v0.9h-0.9zM130.7 70.1h0.9v0.9h-0.9zM153.8 74.6h0.9v0.9h-0.9zM143.6 74.2h0.9v0.9h-0.9zM140.2 70.8h0.9v0.9h-0.9zM152.1 68.3h0.9v0.9h-0.9zM133.6 78.0h0.9v0.9h-0.9zM156.1 91.6h0.9v0.9h-0.9zM153.5 98.5h0.9v0.9h-0.9zM148.0 91.0h0.9v0.9h-0.9zM155.5 101.0h0.9v0.9h-0.9zM152.8 96.2h0.9v0.9h-0.9zM154.8 92.2h0.9v0.9h-0.9zM157.4 89.2h0.9v0.9h-0.9zM147.8 102.0h0.9v0.9h-0.9zM151.3 101.4h0.9v0.9h-0.9zM149.2 91.3h0.9v0.9h-0.9zM147.9 102.2h0.9v0.9h-0.9zM161.4 96.6h0.9v0.9h-0.9zM156.4 95.2h0.9v0.9h-0.9zM143.7 95.7h0.9v0.9h-0.9zM154.0 95.0h0.9v0.9h-0.9zM149.4 101.3h0.9v0.9h-0.9zM157.4 96.6h0.9v0.9h-0.9zM152.4 89.1h0.9v0.9h-0.9zM152.7 99.3h0.9v0.9h-0.9zM153.8 91.9h0.9v0.9h-0.9zM152.1 94.7h0.9v0.9h-0.9zM151.0 92.6h0.9v0.9h-0.9zM151.3 96.2h0.9v0.9h-0.9zM154.4 97.5h0.9v0.9h-0.9zM146.7 96.9h0.9v0.9h-0.9zM152.0 93.8h0.9v0.9h-0.9zM151.4 93.0h0.9v0.9h-0.9zM149.7 99.2h0.9v0.9h-0.9zM155.4 95.6h0.9v0.9h-0.9zM150.3 93.0h0.9v0.9h-0.9zM148.0 98.9h0.9v0.9h-0.9zM154.5 96.2h0.9v0.9h-0.9zM149.8 93.2h0.9v0.9h-0.9zM152.2 101.1h0.9v0.9h-0.9zM153.8 96.5h0.9v0.9h-0.9zM144.5 92.7h0.9v0.9h-0.9zM154.1 94.8h0.9v0.9h-0.9zM148.5 99.8h0.9v0.9h-0.9zM150.8 91.4h0.9v0.9h-0.9zM151.5 101.2h0.9v0.9h-0.9zM155.8 98.6h0.9v0.9h-0.9zM155.4 95.0h0.9v0.9h-0.9zM160.2 101.1h0.9v0.9h-0.9zM152.8 102.5h0.9v0.9h-0.9zM149.8 98.2h0.9v0.9h-0.9zM149.7 96.6h0.9v0.9h-0.9zM155.1 102.9h0.9v0.9h-0.9zM159.5 101.6h0.9v0.9h-0.9zM153.6 92.5h0.9v0.9h-0.9zM149.3 95.2h0.9v0.9h-0.9zM153.3 95.2h0.9v0.9h-0.9zM153.2 94.5h0.9v0.9h-0.9zM152.2 90.4h0.9v0.9h-0.9zM148.5 99.4h0.9v0.9h-0.9zM140.1 96.3h0.9v0.9h-0.9zM149.5 96.4h0.9v0.9h-0.9zM156.9 101.3h0.9v0.9h-0.9zM153.0 93.9h0.9v0.9h-0.9zM141.7 95.8h0.9v0.9h-0.9zM152.0 97.0h0.9v0.9h-0.9zM143.4 94.4h0.9v0.9h-0.9zM161.3 95.6h0.9v0.9h-0.9zM152.9 98.9h0.9v0.9h-0.9zM146.4 96.0h0.9v0.9h-0.9zM155.7 101.0h0.9v0.9h-0.9zM148.3 93.2h0.9v0.9h-0.9zM154.6 96.8h0.9v0.9h-0.9zM152.1 90.6h0.9v0.9h-0.9z" fill="#3a3a3a" stroke="none" stroke-width="1" fill-opacity="0.6"/>
<rect x="111.20" y="57.50" width="58.00" height="47.50" fill="none" stroke="#333" stroke-width="1.1"/>
<line x1="142.40" y1="57.50" x2="142.40" y2="105.00" stroke="#222" stroke-width="1.1"/>
<line x1="111.20" y1="87.60" x2="169.20" y2="87.60" stroke="#222" stroke-width="1.1"/>
<text x="112.50" y="94.86" font-size="8.3" font-weight="bold" stroke="#000" stroke-width="0.3" text-anchor="start" fill="#000">69</text>
<g clip-path="url(#c171_57)"><ellipse cx="190" cy="99" rx="11" ry="4.5" fill="#505050" fill-opacity="0.85" filter="url(#b2)" transform="rotate(-8 190 99)"/></g>
<g clip-path="url(#c171_57)"><ellipse cx="215" cy="97" rx="6" ry="4" fill="#888" fill-opacity="0.4" filter="url(#b2)" transform="rotate(0 215 97)"/></g>
<g clip-path="url(#c171_57)"><ellipse cx="201" cy="87.5" rx="4" ry="1.3" fill="#222" fill-opacity="0.8" filter="url(#b1)" transform="rotate(-20 201 87.5)"/></g>
<path d="M185.4 97.1h0.9v0.9h-0.9zM199.0 102.0h0.9v0.9h-0.9zM194.9 102.0h0.9v0.9h-0.9zM202.1 95.6h0.9v0.9h-0.9zM194.7 99.1h0.9v0.9h-0.9zM185.5 97.9h0.9v0.9h-0.9zM180.5 96.7h0.9v0.9h-0.9zM189.8 97.3h0.9v0.9h-0.9zM187.7 97.3h0.9v0.9h-0.9zM185.7 90.8h0.9v0.9h-0.9zM188.1 100.0h0.9v0.9h-0.9zM179.1 97.8h0.9v0.9h-0.9zM199.8 96.5h0.9v0.9h-0.9zM182.5 97.7h0.9v0.9h-0.9zM193.8 100.2h0.9v0.9h-0.9zM179.3 96.4h0.9v0.9h-0.9zM196.2 96.7h0.9v0.9h-0.9zM187.9 97.9h0.9v0.9h-0.9zM182.9 96.2h0.9v0.9h-0.9zM186.9 97.6h0.9v0.9h-0.9zM177.8 99.8h0.9v0.9h-0.9zM199.2 101.3h0.9v0.9h-0.9zM190.4 96.3h0.9v0.9h-0.9zM185.1 97.7h0.9v0.9h-0.9zM184.0 98.3h0.9v0.9h-0.9zM193.8 97.7h0.9v0.9h-0.9zM199.9 99.4h0.9v0.9h-0.9zM181.6 95.5h0.9v0.9h-0.9zM186.2 95.9h0.9v0.9h-0.9zM178.4 97.7h0.9v0.9h-0.9zM194.5 95.8h0.9v0.9h-0.9zM191.0 100.0h0.9v0.9h-0.9zM204.9 99.4h0.9v0.9h-0.9zM189.2 95.6h0.9v0.9h-0.9zM187.1 96.4h0.9v0.9h-0.9zM185.3 96.7h0.9v0.9h-0.9zM195.6 98.6h0.9v0.9h-0.9zM179.2 97.9h0.9v0.9h-0.9zM195.0 98.4h0.9v0.9h-0.9zM191.6 96.0h0.9v0.9h-0.9zM186.7 102.8h0.9v0.9h-0.9zM184.0 100.9h0.9v0.9h-0.9zM197.0 99.6h0.9v0.9h-0.9zM202.3 102.8h0.9v0.9h-0.9zM187.0 99.3h0.9v0.9h-0.9zM193.5 98.1h0.9v0.9h-0.9zM201.6 100.0h0.9v0.9h-0.9zM188.3 101.6h0.9v0.9h-0.9zM181.9 101.1h0.9v0.9h-0.9zM189.0 97.3h0.9v0.9h-0.9zM189.5 100.4h0.9v0.9h-0.9zM185.1 99.5h0.9v0.9h-0.9zM179.5 101.0h0.9v0.9h-0.9zM181.1 101.7h0.9v0.9h-0.9zM183.5 100.0h0.9v0.9h-0.9zM186.6 99.0h0.9v0.9h-0.9zM184.3 99.6h0.9v0.9h-0.9zM194.4 97.0h0.9v0.9h-0.9zM185.0 99.1h0.9v0.9h-0.9zM185.8 98.5h0.9v0.9h-0.9zM192.4 97.3h0.9v0.9h-0.9zM184.4 98.1h0.9v0.9h-0.9zM191.6 96.3h0.9v0.9h-0.9zM189.8 98.6h0.9v0.9h-0.9zM197.4 98.1h0.9v0.9h-0.9zM184.2 99.7h0.9v0.9h-0.9zM195.9 98.7h0.9v0.9h-0.9zM192.9 97.0h0.9v0.9h-0.9zM183.3 97.0h0.9v0.9h-0.9zM197.0 98.9h0.9v0.9h-0.9zM196.1 97.6h0.9v0.9h-0.9zM181.2 100.7h0.9v0.9h-0.9zM203.2 101.9h0.9v0.9h-0.9zM182.4 98.3h0.9v0.9h-0.9zM183.9 94.3h0.9v0.9h-0.9zM187.8 100.0h0.9v0.9h-0.9zM195.1 95.1h0.9v0.9h-0.9zM193.9 99.5h0.9v0.9h-0.9zM189.4 98.7h0.9v0.9h-0.9zM199.1 97.6h0.9v0.9h-0.9zM192.7 96.2h0.9v0.9h-0.9zM199.3 97.3h0.9v0.9h-0.9zM191.3 97.9h0.9v0.9h-0.9zM172.8 96.3h0.9v0.9h-0.9zM187.0 101.3h0.9v0.9h-0.9zM182.8 99.2h0.9v0.9h-0.9zM190.6 101.9h0.9v0.9h-0.9zM190.7 94.8h0.9v0.9h-0.9zM181.8 94.4h0.9v0.9h-0.9zM188.2 98.3h0.9v0.9h-0.9zM188.7 97.6h0.9v0.9h-0.9zM172.5 97.4h0.9v0.9h-0.9zM196.5 102.3h0.9v0.9h-0.9zM190.2 94.9h0.9v0.9h-0.9zM189.9 99.5h0.9v0.9h-0.9zM192.0 98.7h0.9v0.9h-0.9zM183.1 100.0h0.9v0.9h-0.9zM189.7 99.1h0.9v0.9h-0.9zM197.0 97.6h0.9v0.9h-0.9zM197.3 96.6h0.9v0.9h-0.9zM193.1 91.3h0.9v0.9h-0.9zM188.1 101.5h0.9v0.9h-0.9zM184.4 93.5h0.9v0.9h-0.9zM198.9 98.2h0.9v0.9h-0.9zM187.1 97.0h0.9v0.9h-0.9zM175.3 99.1h0.9v0.9h-0.9zM184.1 97.4h0.9v0.9h-0.9zM176.9 99.5h0.9v0.9h-0.9zM198.5 99.5h0.9v0.9h-0.9zM191.3 97.1h0.9v0.9h-0.9zM184.9 102.3h0.9v0.9h-0.9zM188.1 97.6h0.9v0.9h-0.9zM207.7 96.1h0.9v0.9h-0.9zM198.3 98.3h0.9v0.9h-0.9zM180.8 99.4h0.9v0.9h-0.9zM189.1 95.0h0.9v0.9h-0.9zM181.6 100.2h0.9v0.9h-0.9zM178.2 99.9h0.9v0.9h-0.9zM206.5 98.1h0.9v0.9h-0.9zM200.7 101.6h0.9v0.9h-0.9zM190.3 93.4h0.9v0.9h-0.9zM187.4 97.0h0.9v0.9h-0.9zM191.4 99.0h0.9v0.9h-0.9zM197.1 100.5h0.9v0.9h-0.9zM180.0 97.5h0.9v0.9h-0.9zM177.2 97.1h0.9v0.9h-0.9zM202.9 97.9h0.9v0.9h-0.9zM191.9 97.4h0.9v0.9h-0.9zM201.0 100.6h0.9v0.9h-0.9zM191.6 100.5h0.9v0.9h-0.9zM200.2 101.5h0.9v0.9h-0.9zM185.8 101.3h0.9v0.9h-0.9zM193.4 102.6h0.9v0.9h-0.9zM200.7 94.0h0.9v0.9h-0.9zM197.0 97.6h0.9v0.9h-0.9zM186.8 97.8h0.9v0.9h-0.9zM196.2 97.2h0.9v0.9h-0.9zM185.4 101.4h0.9v0.9h-0.9zM180.2 100.0h0.9v0.9h-0.9zM193.6 98.6h0.9v0.9h-0.9zM199.7 99.9h0.9v0.9h-0.9zM181.3 96.7h0.9v0.9h-0.9zM196.0 98.2h0.9v0.9h-0.9zM194.7 101.8h0.9v0.9h-0.9zM186.8 99.7h0.9v0.9h-0.9zM172.8 101.4h0.9v0.9h-0.9zM197.0 100.4h0.9v0.9h-0.9zM196.1 101.5h0.9v0.9h-0.9zM193.4 97.2h0.9v0.9h-0.9zM178.0 94.5h0.9v0.9h-0.9zM179.7 97.6h0.9v0.9h-0.9zM197.0 91.0h0.9v0.9h-0.9zM195.6 100.4h0.9v0.9h-0.9zM193.4 101.9h0.9v0.9h-0.9zM188.3 98.7h0.9v0.9h-0.9zM192.7 98.2h0.9v0.9h-0.9zM186.2 101.6h0.9v0.9h-0.9zM187.8 98.2h0.9v0.9h-0.9zM184.0 101.1h0.9v0.9h-0.9zM187.1 100.6h0.9v0.9h-0.9zM196.6 102.1h0.9v0.9h-0.9zM195.0 100.6h0.9v0.9h-0.9zM184.3 98.8h0.9v0.9h-0.9zM202.8 100.6h0.9v0.9h-0.9zM182.2 98.1h0.9v0.9h-0.9zM193.1 102.2h0.9v0.9h-0.9zM197.5 94.3h0.9v0.9h-0.9zM198.9 98.6h0.9v0.9h-0.9zM174.6 99.2h0.9v0.9h-0.9zM197.0 96.6h0.9v0.9h-0.9zM198.5 99.1h0.9v0.9h-0.9zM200.0 97.4h0.9v0.9h-0.9zM174.5 98.5h0.9v0.9h-0.9zM185.3 100.8h0.9v0.9h-0.9zM186.9 99.8h0.9v0.9h-0.9zM199.4 97.2h0.9v0.9h-0.9zM185.3 98.9h0.9v0.9h-0.9zM198.6 101.2h0.9v0.9h-0.9zM179.8 91.0h0.9v0.9h-0.9zM183.1 99.1h0.9v0.9h-0.9zM186.7 92.6h0.9v0.9h-0.9zM190.7 100.9h0.9v0.9h-0.9zM196.9 100.6h0.9v0.9h-0.9zM188.7 100.0h0.9v0.9h-0.9zM196.4 101.9h0.9v0.9h-0.9zM179.0 98.7h0.9v0.9h-0.9zM187.6 99.4h0.9v0.9h-0.9zM193.2 102.6h0.9v0.9h-0.9zM187.5 98.0h0.9v0.9h-0.9zM182.9 98.0h0.9v0.9h-0.9zM193.0 95.1h0.9v0.9h-0.9zM189.3 97.0h0.9v0.9h-0.9zM184.9 95.8h0.9v0.9h-0.9zM184.1 96.6h0.9v0.9h-0.9zM203.8 97.2h0.9v0.9h-0.9zM189.7 97.8h0.9v0.9h-0.9zM198.5 101.8h0.9v0.9h-0.9zM183.5 102.6h0.9v0.9h-0.9zM196.7 96.5h0.9v0.9h-0.9zM195.9 100.6h0.9v0.9h-0.9zM186.1 93.8h0.9v0.9h-0.9zM189.5 94.1h0.9v0.9h-0.9zM186.3 99.7h0.9v0.9h-0.9zM195.3 98.0h0.9v0.9h-0.9zM185.4 95.1h0.9v0.9h-0.9zM192.8 100.0h0.9v0.9h-0.9zM182.3 95.4h0.9v0.9h-0.9zM189.1 91.5h0.9v0.9h-0.9zM187.5 98.3h0.9v0.9h-0.9zM189.2 98.9h0.9v0.9h-0.9zM190.9 100.6h0.9v0.9h-0.9zM188.7 101.4h0.9v0.9h-0.9zM188.5 99.0h0.9v0.9h-0.9zM175.5 96.5h0.9v0.9h-0.9zM197.7 97.3h0.9v0.9h-0.9zM185.6 93.1h0.9v0.9h-0.9zM188.3 97.1h0.9v0.9h-0.9zM184.2 101.1h0.9v0.9h-0.9zM197.0 101.2h0.9v0.9h-0.9zM193.5 98.4h0.9v0.9h-0.9zM198.2 93.8h0.9v0.9h-0.9zM201.5 102.2h0.9v0.9h-0.9zM198.3 102.6h0.9v0.9h-0.9zM194.3 95.4h0.9v0.9h-0.9zM181.6 92.8h0.9v0.9h-0.9zM199.0 99.9h0.9v0.9h-0.9zM198.3 101.6h0.9v0.9h-0.9zM195.9 95.7h0.9v0.9h-0.9zM195.6 98.1h0.9v0.9h-0.9zM190.6 96.2h0.9v0.9h-0.9zM186.4 94.6h0.9v0.9h-0.9zM197.6 95.2h0.9v0.9h-0.9zM198.9 99.8h0.9v0.9h-0.9zM182.8 96.7h0.9v0.9h-0.9zM196.4 97.1h0.9v0.9h-0.9zM191.8 90.7h0.9v0.9h-0.9zM192.0 95.8h0.9v0.9h-0.9zM197.8 98.9h0.9v0.9h-0.9zM197.2 95.7h0.9v0.9h-0.9zM196.3 100.3h0.9v0.9h-0.9zM180.5 93.0h0.9v0.9h-0.9zM195.8 99.4h0.9v0.9h-0.9zM190.4 98.0h0.9v0.9h-0.9zM182.2 100.7h0.9v0.9h-0.9zM195.0 95.6h0.9v0.9h-0.9zM180.6 95.7h0.9v0.9h-0.9zM196.3 98.4h0.9v0.9h-0.9zM186.6 93.7h0.9v0.9h-0.9zM196.5 100.1h0.9v0.9h-0.9zM193.3 96.8h0.9v0.9h-0.9zM194.7 99.9h0.9v0.9h-0.9zM180.7 99.7h0.9v0.9h-0.9zM194.4 99.4h0.9v0.9h-0.9zM191.1 99.5h0.9v0.9h-0.9zM195.3 99.9h0.9v0.9h-0.9zM190.2 96.7h0.9v0.9h-0.9zM197.8 98.6h0.9v0.9h-0.9zM192.1 93.6h0.9v0.9h-0.9zM194.9 97.9h0.9v0.9h-0.9zM199.7 97.1h0.9v0.9h-0.9zM191.4 97.9h0.9v0.9h-0.9zM197.1 101.5h0.9v0.9h-0.9zM191.8 99.9h0.9v0.9h-0.9zM193.8 100.3h0.9v0.9h-0.9zM186.5 101.6h0.9v0.9h-0.9zM195.6 91.7h0.9v0.9h-0.9zM198.7 100.7h0.9v0.9h-0.9zM189.6 98.4h0.9v0.9h-0.9zM195.7 98.8h0.9v0.9h-0.9zM193.2 94.8h0.9v0.9h-0.9zM182.6 99.5h0.9v0.9h-0.9zM192.6 102.3h0.9v0.9h-0.9zM199.3 102.6h0.9v0.9h-0.9zM186.9 98.0h0.9v0.9h-0.9zM177.9 99.4h0.9v0.9h-0.9zM191.6 101.5h0.9v0.9h-0.9zM189.9 99.0h0.9v0.9h-0.9zM190.2 98.8h0.9v0.9h-0.9zM185.9 98.6h0.9v0.9h-0.9zM192.0 99.4h0.9v0.9h-0.9zM186.3 96.6h0.9v0.9h-0.9zM184.0 100.3h0.9v0.9h-0.9zM189.8 96.4h0.9v0.9h-0.9zM184.7 95.5h0.9v0.9h-0.9zM199.3 100.5h0.9v0.9h-0.9zM182.2 96.0h0.9v0.9h-0.9zM189.7 97.7h0.9v0.9h-0.9zM185.5 91.7h0.9v0.9h-0.9zM180.7 100.1h0.9v0.9h-0.9zM201.7 99.6h0.9v0.9h-0.9zM175.8 96.8h0.9v0.9h-0.9zM200.2 100.9h0.9v0.9h-0.9zM180.5 98.3h0.9v0.9h-0.9zM190.9 96.4h0.9v0.9h-0.9zM175.6 95.8h0.9v0.9h-0.9zM180.8 100.7h0.9v0.9h-0.9zM191.4 96.7h0.9v0.9h-0.9zM186.5 98.5h0.9v0.9h-0.9zM190.0 96.0h0.9v0.9h-0.9zM183.6 101.1h0.9v0.9h-0.9zM191.1 97.6h0.9v0.9h-0.9zM200.5 96.1h0.9v0.9h-0.9zM187.6 102.3h0.9v0.9h-0.9zM191.2 101.5h0.9v0.9h-0.9zM198.5 96.6h0.9v0.9h-0.9zM186.2 98.8h0.9v0.9h-0.9zM185.8 96.4h0.9v0.9h-0.9zM187.5 97.4h0.9v0.9h-0.9zM185.9 95.4h0.9v0.9h-0.9zM178.4 97.8h0.9v0.9h-0.9zM176.6 97.4h0.9v0.9h-0.9zM185.2 100.3h0.9v0.9h-0.9zM191.2 98.9h0.9v0.9h-0.9zM198.6 94.8h0.9v0.9h-0.9zM186.6 95.7h0.9v0.9h-0.9zM189.1 102.8h0.9v0.9h-0.9zM194.8 102.5h0.9v0.9h-0.9zM195.3 98.5h0.9v0.9h-0.9zM189.5 98.0h0.9v0.9h-0.9zM189.9 98.0h0.9v0.9h-0.9zM203.1 99.8h0.9v0.9h-0.9zM188.0 93.1h0.9v0.9h-0.9zM186.9 101.0h0.9v0.9h-0.9zM179.1 95.4h0.9v0.9h-0.9zM193.2 99.3h0.9v0.9h-0.9zM188.4 90.6h0.9v0.9h-0.9zM217.1 95.0h0.9v0.9h-0.9zM222.4 95.3h0.9v0.9h-0.9zM205.3 98.2h0.9v0.9h-0.9zM223.3 99.1h0.9v0.9h-0.9zM218.3 94.2h0.9v0.9h-0.9zM212.5 93.0h0.9v0.9h-0.9zM221.6 101.0h0.9v0.9h-0.9zM217.2 90.9h0.9v0.9h-0.9zM218.8 90.1h0.9v0.9h-0.9zM214.7 93.7h0.9v0.9h-0.9zM212.2 97.7h0.9v0.9h-0.9zM220.2 99.0h0.9v0.9h-0.9zM211.4 95.6h0.9v0.9h-0.9zM220.3 90.6h0.9v0.9h-0.9zM208.0 97.7h0.9v0.9h-0.9zM211.6 99.2h0.9v0.9h-0.9zM209.1 96.9h0.9v0.9h-0.9zM222.3 95.0h0.9v0.9h-0.9zM207.6 99.1h0.9v0.9h-0.9zM210.6 96.7h0.9v0.9h-0.9zM219.2 92.5h0.9v0.9h-0.9zM217.1 97.3h0.9v0.9h-0.9zM224.8 100.6h0.9v0.9h-0.9zM218.9 98.7h0.9v0.9h-0.9zM219.3 93.0h0.9v0.9h-0.9zM207.3 97.7h0.9v0.9h-0.9zM211.8 101.7h0.9v0.9h-0.9zM214.4 88.5h0.9v0.9h-0.9zM215.2 96.3h0.9v0.9h-0.9zM211.5 90.8h0.9v0.9h-0.9zM211.9 96.2h0.9v0.9h-0.9zM221.1 91.3h0.9v0.9h-0.9zM218.0 96.6h0.9v0.9h-0.9zM214.4 87.5h0.9v0.9h-0.9zM214.7 90.6h0.9v0.9h-0.9zM217.4 94.8h0.9v0.9h-0.9zM212.7 97.4h0.9v0.9h-0.9zM214.7 98.4h0.9v0.9h-0.9zM207.8 98.5h0.9v0.9h-0.9zM219.2 101.4h0.9v0.9h-0.9zM220.6 99.6h0.9v0.9h-0.9zM217.7 99.8h0.9v0.9h-0.9zM218.3 93.1h0.9v0.9h-0.9zM217.7 96.3h0.9v0.9h-0.9zM209.7 100.1h0.9v0.9h-0.9zM211.0 99.8h0.9v0.9h-0.9zM219.4 100.7h0.9v0.9h-0.9zM221.1 95.3h0.9v0.9h-0.9zM220.0 95.4h0.9v0.9h-0.9zM216.9 96.6h0.9v0.9h-0.9zM212.6 88.7h0.9v0.9h-0.9zM207.3 98.3h0.9v0.9h-0.9zM214.1 90.1h0.9v0.9h-0.9zM209.5 94.3h0.9v0.9h-0.9zM216.5 96.5h0.9v0.9h-0.9zM215.2 95.5h0.9v0.9h-0.9zM206.7 97.6h0.9v0.9h-0.9zM219.5 93.9h0.9v0.9h-0.9zM219.6 96.5h0.9v0.9h-0.9zM209.3 92.2h0.9v0.9h-0.9zM216.7 95.4h0.9v0.9h-0.9zM219.4 91.4h0.9v0.9h-0.9zM214.6 99.5h0.9v0.9h-0.9zM220.1 91.8h0.9v0.9h-0.9zM216.9 99.6h0.9v0.9h-0.9zM221.1 95.3h0.9v0.9h-0.9zM216.9 95.7h0.9v0.9h-0.9zM215.2 101.5h0.9v0.9h-0.9zM218.4 97.3h0.9v0.9h-0.9zM219.7 89.4h0.9v0.9h-0.9zM217.2 98.8h0.9v0.9h-0.9zM213.8 85.4h0.9v0.9h-0.9zM212.2 97.9h0.9v0.9h-0.9zM214.2 95.3h0.9v0.9h-0.9zM213.2 91.4h0.9v0.9h-0.9zM216.9 97.2h0.9v0.9h-0.9zM216.8 95.7h0.9v0.9h-0.9zM215.9 95.1h0.9v0.9h-0.9zM223.5 102.3h0.9v0.9h-0.9zM221.7 94.5h0.9v0.9h-0.9zM213.2 93.7h0.9v0.9h-0.9zM218.0 102.1h0.9v0.9h-0.9zM214.4 96.3h0.9v0.9h-0.9zM215.5 97.5h0.9v0.9h-0.9zM214.8 95.9h0.9v0.9h-0.9zM212.9 92.1h0.9v0.9h-0.9zM209.4 95.4h0.9v0.9h-0.9zM204.1 93.1h0.9v0.9h-0.9zM216.9 90.8h0.9v0.9h-0.9zM221.6 95.7h0.9v0.9h-0.9zM214.1 96.6h0.9v0.9h-0.9zM217.3 97.4h0.9v0.9h-0.9zM212.0 98.9h0.9v0.9h-0.9zM214.8 102.3h0.9v0.9h-0.9zM215.4 98.1h0.9v0.9h-0.9zM204.5 95.0h0.9v0.9h-0.9zM217.0 95.3h0.9v0.9h-0.9zM215.2 101.4h0.9v0.9h-0.9zM219.0 94.4h0.9v0.9h-0.9zM215.7 88.7h0.9v0.9h-0.9zM216.9 100.1h0.9v0.9h-0.9zM217.6 96.6h0.9v0.9h-0.9zM213.9 97.4h0.9v0.9h-0.9zM210.7 101.8h0.9v0.9h-0.9zM213.7 97.2h0.9v0.9h-0.9zM213.8 91.6h0.9v0.9h-0.9zM224.8 96.7h0.9v0.9h-0.9zM204.5 87.6h0.9v0.9h-0.9zM203.6 77.9h0.9v0.9h-0.9zM211.0 89.0h0.9v0.9h-0.9zM202.1 61.9h0.9v0.9h-0.9zM210.9 83.6h0.9v0.9h-0.9zM210.2 70.9h0.9v0.9h-0.9zM218.5 71.9h0.9v0.9h-0.9zM224.5 75.4h0.9v0.9h-0.9zM212.3 63.1h0.9v0.9h-0.9zM206.9 80.4h0.9v0.9h-0.9zM216.7 70.3h0.9v0.9h-0.9zM218.6 80.8h0.9v0.9h-0.9zM218.6 102.2h0.9v0.9h-0.9zM225.4 76.0h0.9v0.9h-0.9zM221.8 78.7h0.9v0.9h-0.9zM219.2 74.8h0.9v0.9h-0.9zM219.9 69.5h0.9v0.9h-0.9zM206.9 80.9h0.9v0.9h-0.9zM208.9 89.9h0.9v0.9h-0.9zM212.9 78.5h0.9v0.9h-0.9zM214.5 83.4h0.9v0.9h-0.9zM213.9 75.1h0.9v0.9h-0.9zM216.3 95.3h0.9v0.9h-0.9zM214.0 64.2h0.9v0.9h-0.9zM210.4 82.3h0.9v0.9h-0.9zM200.8 84.9h0.9v0.9h-0.9zM220.5 76.9h0.9v0.9h-0.9zM218.5 66.9h0.9v0.9h-0.9zM206.8 70.2h0.9v0.9h-0.9zM217.8 73.8h0.9v0.9h-0.9zM216.9 76.6h0.9v0.9h-0.9zM214.4 67.4h0.9v0.9h-0.9zM199.1 73.1h0.9v0.9h-0.9zM204.2 84.0h0.9v0.9h-0.9zM209.0 86.1h0.9v0.9h-0.9zM206.9 73.5h0.9v0.9h-0.9zM211.0 72.1h0.9v0.9h-0.9zM204.9 98.4h0.9v0.9h-0.9zM209.9 81.7h0.9v0.9h-0.9zM216.5 75.5h0.9v0.9h-0.9zM197.2 89.4h0.9v0.9h-0.9zM191.1 101.1h0.9v0.9h-0.9zM219.1 84.1h0.9v0.9h-0.9zM214.1 65.8h0.9v0.9h-0.9zM209.0 77.6h0.9v0.9h-0.9zM221.5 71.4h0.9v0.9h-0.9zM221.5 71.8h0.9v0.9h-0.9zM197.1 72.5h0.9v0.9h-0.9zM212.5 74.2h0.9v0.9h-0.9zM222.6 65.8h0.9v0.9h-0.9zM208.4 81.0h0.9v0.9h-0.9zM211.3 77.9h0.9v0.9h-0.9zM221.4 63.7h0.9v0.9h-0.9zM211.7 64.4h0.9v0.9h-0.9zM204.2 76.0h0.9v0.9h-0.9zM208.3 83.4h0.9v0.9h-0.9zM203.2 83.7h0.9v0.9h-0.9zM218.2 74.9h0.9v0.9h-0.9zM221.8 70.6h0.9v0.9h-0.9zM200.6 75.0h0.9v0.9h-0.9zM214.2 74.1h0.9v0.9h-0.9zM202.1 70.9h0.9v0.9h-0.9zM211.3 74.2h0.9v0.9h-0.9zM222.0 69.2h0.9v0.9h-0.9zM222.8 94.8h0.9v0.9h-0.9zM224.2 79.0h0.9v0.9h-0.9zM213.1 75.5h0.9v0.9h-0.9zM214.6 76.1h0.9v0.9h-0.9zM215.6 75.3h0.9v0.9h-0.9zM218.7 76.7h0.9v0.9h-0.9zM210.6 74.6h0.9v0.9h-0.9zM222.6 74.0h0.9v0.9h-0.9zM216.4 83.8h0.9v0.9h-0.9zM222.9 80.4h0.9v0.9h-0.9zM217.6 78.0h0.9v0.9h-0.9zM219.2 85.3h0.9v0.9h-0.9zM208.0 80.2h0.9v0.9h-0.9zM210.5 70.2h0.9v0.9h-0.9zM203.5 66.5h0.9v0.9h-0.9zM211.4 72.1h0.9v0.9h-0.9zM212.4 76.7h0.9v0.9h-0.9zM220.5 77.8h0.9v0.9h-0.9zM203.7 88.0h0.9v0.9h-0.9zM212.8 70.9h0.9v0.9h-0.9zM223.9 79.6h0.9v0.9h-0.9zM204.4 87.2h0.9v0.9h-0.9zM199.4 87.6h0.9v0.9h-0.9zM201.9 84.4h0.9v0.9h-0.9zM205.0 84.3h0.9v0.9h-0.9zM201.8 82.8h0.9v0.9h-0.9zM200.7 86.7h0.9v0.9h-0.9zM194.6 86.6h0.9v0.9h-0.9zM204.9 88.0h0.9v0.9h-0.9zM202.8 89.2h0.9v0.9h-0.9zM201.3 86.6h0.9v0.9h-0.9zM199.5 86.5h0.9v0.9h-0.9zM197.1 87.6h0.9v0.9h-0.9zM200.6 89.2h0.9v0.9h-0.9zM200.6 85.7h0.9v0.9h-0.9zM204.2 87.9h0.9v0.9h-0.9zM197.2 86.6h0.9v0.9h-0.9zM205.2 86.4h0.9v0.9h-0.9zM201.0 88.2h0.9v0.9h-0.9zM204.5 85.8h0.9v0.9h-0.9zM198.0 85.3h0.9v0.9h-0.9zM201.9 87.9h0.9v0.9h-0.9zM204.6 86.9h0.9v0.9h-0.9zM201.2 86.5h0.9v0.9h-0.9zM196.5 86.7h0.9v0.9h-0.9zM199.9 87.7h0.9v0.9h-0.9zM202.5 86.4h0.9v0.9h-0.9zM196.7 88.1h0.9v0.9h-0.9zM196.5 87.6h0.9v0.9h-0.9zM201.6 89.2h0.9v0.9h-0.9zM198.0 88.8h0.9v0.9h-0.9zM202.9 88.2h0.9v0.9h-0.9zM197.3 86.6h0.9v0.9h-0.9zM195.4 87.1h0.9v0.9h-0.9zM198.5 86.1h0.9v0.9h-0.9zM205.4 91.2h0.9v0.9h-0.9zM198.3 86.6h0.9v0.9h-0.9zM200.9 87.8h0.9v0.9h-0.9zM201.6 89.0h0.9v0.9h-0.9zM198.0 84.9h0.9v0.9h-0.9zM204.2 85.7h0.9v0.9h-0.9z" fill="#3a3a3a" stroke="none" stroke-width="1" fill-opacity="0.6"/>
<rect x="171.00" y="57.50" width="56.50" height="46.90" fill="none" stroke="#333" stroke-width="1.1"/>
<line x1="204.20" y1="57.50" x2="204.20" y2="104.40" stroke="#222" stroke-width="1.1"/>
<line x1="171.00" y1="88.10" x2="227.50" y2="88.10" stroke="#222" stroke-width="1.1"/>
<text x="172.30" y="95.36" font-size="8.3" font-weight="bold" stroke="#000" stroke-width="0.3" text-anchor="start" fill="#000">72</text>
<g clip-path="url(#c52_106)"><ellipse cx="70" cy="148" rx="8.5" ry="5" fill="#505050" fill-opacity="0.85" filter="url(#b2)" transform="rotate(0 70 148)"/></g>
<g clip-path="url(#c52_106)"><ellipse cx="81" cy="134.5" rx="3.5" ry="1.5" fill="#222" fill-opacity="0.8" filter="url(#b1)" transform="rotate(-35 81 134.5)"/></g>
<path d="M67.6 145.0h0.9v0.9h-0.9zM64.3 148.9h0.9v0.9h-0.9zM62.8 148.6h0.9v0.9h-0.9zM67.0 147.5h0.9v0.9h-0.9zM70.0 150.4h0.9v0.9h-0.9zM70.0 151.2h0.9v0.9h-0.9zM73.7 151.9h0.9v0.9h-0.9zM72.2 145.4h0.9v0.9h-0.9zM63.9 147.9h0.9v0.9h-0.9zM71.0 148.0h0.9v0.9h-0.9zM68.8 145.5h0.9v0.9h-0.9zM67.0 148.1h0.9v0.9h-0.9zM64.4 147.8h0.9v0.9h-0.9zM66.1 146.9h0.9v0.9h-0.9zM64.6 145.3h0.9v0.9h-0.9zM72.4 150.8h0.9v0.9h-0.9zM71.8 142.4h0.9v0.9h-0.9zM71.6 150.7h0.9v0.9h-0.9zM68.8 147.5h0.9v0.9h-0.9zM67.6 148.3h0.9v0.9h-0.9zM81.1 140.9h0.9v0.9h-0.9zM59.6 152.1h0.9v0.9h-0.9zM76.4 142.5h0.9v0.9h-0.9zM71.8 144.9h0.9v0.9h-0.9zM70.2 149.9h0.9v0.9h-0.9zM67.0 145.2h0.9v0.9h-0.9zM68.6 146.1h0.9v0.9h-0.9zM63.3 139.1h0.9v0.9h-0.9zM62.2 145.1h0.9v0.9h-0.9zM69.2 148.3h0.9v0.9h-0.9zM60.7 148.8h0.9v0.9h-0.9zM74.5 147.2h0.9v0.9h-0.9zM76.0 149.2h0.9v0.9h-0.9zM61.3 144.2h0.9v0.9h-0.9zM71.3 145.2h0.9v0.9h-0.9zM70.5 144.8h0.9v0.9h-0.9zM72.2 152.2h0.9v0.9h-0.9zM73.9 148.4h0.9v0.9h-0.9zM79.7 146.7h0.9v0.9h-0.9zM70.0 149.4h0.9v0.9h-0.9zM74.6 149.4h0.9v0.9h-0.9zM60.9 145.7h0.9v0.9h-0.9zM69.1 148.6h0.9v0.9h-0.9zM63.1 144.1h0.9v0.9h-0.9zM77.5 148.4h0.9v0.9h-0.9zM82.7 147.9h0.9v0.9h-0.9zM72.8 150.7h0.9v0.9h-0.9zM62.7 146.4h0.9v0.9h-0.9zM69.2 142.7h0.9v0.9h-0.9zM70.0 146.4h0.9v0.9h-0.9zM71.0 147.4h0.9v0.9h-0.9zM75.8 145.3h0.9v0.9h-0.9zM55.3 147.1h0.9v0.9h-0.9zM77.4 151.5h0.9v0.9h-0.9zM67.1 144.6h0.9v0.9h-0.9zM66.8 145.9h0.9v0.9h-0.9zM77.7 152.1h0.9v0.9h-0.9zM68.4 142.5h0.9v0.9h-0.9zM62.3 147.9h0.9v0.9h-0.9zM62.6 147.0h0.9v0.9h-0.9zM70.2 146.0h0.9v0.9h-0.9zM74.9 148.6h0.9v0.9h-0.9zM78.1 145.0h0.9v0.9h-0.9zM68.9 148.3h0.9v0.9h-0.9zM67.3 143.1h0.9v0.9h-0.9zM78.8 144.4h0.9v0.9h-0.9zM67.4 152.2h0.9v0.9h-0.9zM77.9 146.3h0.9v0.9h-0.9zM71.2 140.5h0.9v0.9h-0.9zM71.2 151.2h0.9v0.9h-0.9zM68.6 144.8h0.9v0.9h-0.9zM71.5 135.7h0.9v0.9h-0.9zM67.3 147.1h0.9v0.9h-0.9zM66.1 150.4h0.9v0.9h-0.9zM69.1 148.8h0.9v0.9h-0.9zM71.5 147.4h0.9v0.9h-0.9zM70.3 149.8h0.9v0.9h-0.9zM68.4 144.0h0.9v0.9h-0.9zM68.8 148.1h0.9v0.9h-0.9zM79.4 150.6h0.9v0.9h-0.9zM69.8 148.2h0.9v0.9h-0.9zM66.6 140.4h0.9v0.9h-0.9zM68.2 146.1h0.9v0.9h-0.9zM73.5 143.7h0.9v0.9h-0.9zM68.8 150.2h0.9v0.9h-0.9zM69.0 145.0h0.9v0.9h-0.9zM68.5 148.7h0.9v0.9h-0.9zM70.8 144.3h0.9v0.9h-0.9zM72.3 143.9h0.9v0.9h-0.9zM60.9 146.9h0.9v0.9h-0.9zM55.4 146.5h0.9v0.9h-0.9zM74.3 145.2h0.9v0.9h-0.9zM76.0 150.6h0.9v0.9h-0.9zM77.0 152.0h0.9v0.9h-0.9zM70.7 150.8h0.9v0.9h-0.9zM76.2 141.6h0.9v0.9h-0.9zM69.7 148.4h0.9v0.9h-0.9zM69.2 140.2h0.9v0.9h-0.9zM65.6 147.3h0.9v0.9h-0.9zM66.6 145.6h0.9v0.9h-0.9zM74.9 150.6h0.9v0.9h-0.9zM79.0 150.5h0.9v0.9h-0.9zM67.3 143.2h0.9v0.9h-0.9zM71.4 147.0h0.9v0.9h-0.9zM65.6 141.0h0.9v0.9h-0.9zM60.4 151.3h0.9v0.9h-0.9zM65.7 152.4h0.9v0.9h-0.9zM62.0 151.0h0.9v0.9h-0.9zM68.1 149.3h0.9v0.9h-0.9zM69.1 144.4h0.9v0.9h-0.9zM68.9 150.8h0.9v0.9h-0.9zM72.5 150.8h0.9v0.9h-0.9zM74.7 145.6h0.9v0.9h-0.9zM60.7 150.0h0.9v0.9h-0.9zM70.2 151.0h0.9v0.9h-0.9zM72.0 142.7h0.9v0.9h-0.9zM65.5 141.4h0.9v0.9h-0.9zM61.1 144.0h0.9v0.9h-0.9zM73.4 148.4h0.9v0.9h-0.9zM66.2 148.8h0.9v0.9h-0.9zM74.1 147.4h0.9v0.9h-0.9zM74.1 148.0h0.9v0.9h-0.9zM69.8 147.3h0.9v0.9h-0.9zM69.8 148.0h0.9v0.9h-0.9zM75.3 150.4h0.9v0.9h-0.9zM71.9 149.7h0.9v0.9h-0.9zM64.7 146.8h0.9v0.9h-0.9zM70.8 148.7h0.9v0.9h-0.9zM72.9 146.5h0.9v0.9h-0.9zM71.0 150.6h0.9v0.9h-0.9zM70.9 146.0h0.9v0.9h-0.9zM69.2 147.5h0.9v0.9h-0.9zM64.7 148.0h0.9v0.9h-0.9zM62.0 144.0h0.9v0.9h-0.9zM76.0 147.3h0.9v0.9h-0.9zM66.4 147.8h0.9v0.9h-0.9zM71.1 147.9h0.9v0.9h-0.9zM61.6 144.4h0.9v0.9h-0.9zM70.7 143.7h0.9v0.9h-0.9zM65.3 147.2h0.9v0.9h-0.9zM86.1 150.3h0.9v0.9h-0.9zM64.3 148.9h0.9v0.9h-0.9zM64.6 151.3h0.9v0.9h-0.9zM75.0 147.3h0.9v0.9h-0.9zM76.1 141.5h0.9v0.9h-0.9zM58.3 145.7h0.9v0.9h-0.9zM71.2 141.4h0.9v0.9h-0.9zM74.7 143.8h0.9v0.9h-0.9zM63.1 150.4h0.9v0.9h-0.9zM73.6 150.1h0.9v0.9h-0.9zM67.0 145.0h0.9v0.9h-0.9zM64.4 144.7h0.9v0.9h-0.9zM67.9 147.1h0.9v0.9h-0.9zM67.3 141.2h0.9v0.9h-0.9zM62.2 148.4h0.9v0.9h-0.9zM82.1 148.1h0.9v0.9h-0.9zM65.8 143.4h0.9v0.9h-0.9zM74.5 151.8h0.9v0.9h-0.9zM69.4 145.2h0.9v0.9h-0.9zM77.1 152.2h0.9v0.9h-0.9zM68.4 144.0h0.9v0.9h-0.9zM71.8 150.5h0.9v0.9h-0.9zM70.4 146.2h0.9v0.9h-0.9zM70.8 144.9h0.9v0.9h-0.9zM68.7 147.0h0.9v0.9h-0.9zM69.3 149.3h0.9v0.9h-0.9zM79.0 150.3h0.9v0.9h-0.9zM66.9 150.2h0.9v0.9h-0.9zM68.0 138.2h0.9v0.9h-0.9zM73.0 146.7h0.9v0.9h-0.9zM72.0 141.0h0.9v0.9h-0.9zM74.9 147.0h0.9v0.9h-0.9zM62.5 148.9h0.9v0.9h-0.9zM71.3 143.2h0.9v0.9h-0.9zM68.9 143.4h0.9v0.9h-0.9zM68.3 148.0h0.9v0.9h-0.9zM70.7 146.8h0.9v0.9h-0.9zM59.1 151.8h0.9v0.9h-0.9zM71.3 149.0h0.9v0.9h-0.9zM70.6 149.7h0.9v0.9h-0.9zM69.3 145.9h0.9v0.9h-0.9zM78.3 148.8h0.9v0.9h-0.9zM67.7 143.9h0.9v0.9h-0.9zM73.1 149.0h0.9v0.9h-0.9zM68.6 151.2h0.9v0.9h-0.9zM65.4 151.9h0.9v0.9h-0.9zM64.8 146.9h0.9v0.9h-0.9zM67.7 144.9h0.9v0.9h-0.9zM76.9 145.9h0.9v0.9h-0.9zM74.3 143.4h0.9v0.9h-0.9zM66.0 147.6h0.9v0.9h-0.9zM69.1 139.3h0.9v0.9h-0.9zM66.1 139.5h0.9v0.9h-0.9zM64.9 141.4h0.9v0.9h-0.9zM61.3 147.7h0.9v0.9h-0.9zM76.9 144.2h0.9v0.9h-0.9zM59.9 149.1h0.9v0.9h-0.9zM72.8 150.8h0.9v0.9h-0.9zM61.5 147.2h0.9v0.9h-0.9zM69.7 150.6h0.9v0.9h-0.9zM68.8 147.7h0.9v0.9h-0.9zM67.5 149.4h0.9v0.9h-0.9zM69.3 151.5h0.9v0.9h-0.9zM69.6 145.4h0.9v0.9h-0.9zM65.0 144.2h0.9v0.9h-0.9zM69.5 146.8h0.9v0.9h-0.9zM75.3 147.6h0.9v0.9h-0.9zM65.9 147.4h0.9v0.9h-0.9zM71.2 145.8h0.9v0.9h-0.9zM63.6 149.2h0.9v0.9h-0.9zM71.9 148.1h0.9v0.9h-0.9zM73.3 149.4h0.9v0.9h-0.9zM83.3 149.5h0.9v0.9h-0.9zM74.8 150.5h0.9v0.9h-0.9zM72.2 143.8h0.9v0.9h-0.9zM64.5 148.2h0.9v0.9h-0.9zM75.7 150.1h0.9v0.9h-0.9zM66.9 149.5h0.9v0.9h-0.9zM66.5 151.1h0.9v0.9h-0.9zM75.8 151.1h0.9v0.9h-0.9zM71.1 148.7h0.9v0.9h-0.9zM77.1 148.0h0.9v0.9h-0.9zM62.0 140.9h0.9v0.9h-0.9zM71.3 148.7h0.9v0.9h-0.9zM67.0 146.3h0.9v0.9h-0.9zM68.4 146.4h0.9v0.9h-0.9zM75.0 141.9h0.9v0.9h-0.9zM71.0 148.1h0.9v0.9h-0.9zM64.5 151.3h0.9v0.9h-0.9zM62.6 150.2h0.9v0.9h-0.9zM65.2 151.5h0.9v0.9h-0.9zM77.5 144.3h0.9v0.9h-0.9zM69.3 144.3h0.9v0.9h-0.9zM68.1 149.7h0.9v0.9h-0.9zM72.6 147.1h0.9v0.9h-0.9zM71.2 148.7h0.9v0.9h-0.9zM73.9 149.0h0.9v0.9h-0.9zM71.7 149.6h0.9v0.9h-0.9zM74.7 147.4h0.9v0.9h-0.9zM63.5 147.3h0.9v0.9h-0.9zM70.3 145.4h0.9v0.9h-0.9zM68.0 147.4h0.9v0.9h-0.9zM70.5 146.1h0.9v0.9h-0.9zM69.7 148.7h0.9v0.9h-0.9zM66.5 142.3h0.9v0.9h-0.9zM68.0 142.3h0.9v0.9h-0.9zM75.1 150.1h0.9v0.9h-0.9zM66.9 148.2h0.9v0.9h-0.9zM63.2 143.5h0.9v0.9h-0.9zM73.2 147.4h0.9v0.9h-0.9zM75.2 144.8h0.9v0.9h-0.9zM70.6 142.4h0.9v0.9h-0.9zM68.9 144.7h0.9v0.9h-0.9zM75.9 150.1h0.9v0.9h-0.9zM74.3 147.4h0.9v0.9h-0.9zM70.8 146.6h0.9v0.9h-0.9zM68.5 150.9h0.9v0.9h-0.9zM61.2 149.5h0.9v0.9h-0.9zM71.7 147.0h0.9v0.9h-0.9zM72.4 144.9h0.9v0.9h-0.9zM72.0 148.6h0.9v0.9h-0.9zM75.1 147.4h0.9v0.9h-0.9zM64.0 148.1h0.9v0.9h-0.9zM76.5 148.9h0.9v0.9h-0.9zM77.3 145.4h0.9v0.9h-0.9zM73.6 148.4h0.9v0.9h-0.9zM72.4 145.4h0.9v0.9h-0.9zM73.5 147.9h0.9v0.9h-0.9zM75.8 150.5h0.9v0.9h-0.9zM65.8 152.2h0.9v0.9h-0.9zM63.8 146.0h0.9v0.9h-0.9zM72.3 144.8h0.9v0.9h-0.9zM70.7 151.6h0.9v0.9h-0.9zM73.3 150.0h0.9v0.9h-0.9zM73.5 147.5h0.9v0.9h-0.9zM65.9 152.4h0.9v0.9h-0.9zM71.8 148.9h0.9v0.9h-0.9zM76.1 142.3h0.9v0.9h-0.9zM68.1 148.8h0.9v0.9h-0.9zM68.5 147.4h0.9v0.9h-0.9zM74.4 148.3h0.9v0.9h-0.9zM80.5 148.5h0.9v0.9h-0.9zM62.7 148.4h0.9v0.9h-0.9zM74.1 149.2h0.9v0.9h-0.9zM74.9 143.5h0.9v0.9h-0.9zM67.1 147.9h0.9v0.9h-0.9zM68.1 146.4h0.9v0.9h-0.9zM64.5 152.1h0.9v0.9h-0.9zM71.0 144.0h0.9v0.9h-0.9zM73.6 144.9h0.9v0.9h-0.9zM70.7 144.9h0.9v0.9h-0.9zM74.7 146.1h0.9v0.9h-0.9zM71.2 145.5h0.9v0.9h-0.9zM63.8 147.2h0.9v0.9h-0.9zM76.4 144.1h0.9v0.9h-0.9zM66.3 141.9h0.9v0.9h-0.9zM79.6 142.6h0.9v0.9h-0.9zM72.6 152.1h0.9v0.9h-0.9zM80.4 143.8h0.9v0.9h-0.9zM56.7 140.3h0.9v0.9h-0.9zM61.5 147.2h0.9v0.9h-0.9zM73.9 152.2h0.9v0.9h-0.9zM68.8 151.3h0.9v0.9h-0.9zM65.0 147.9h0.9v0.9h-0.9zM78.2 151.3h0.9v0.9h-0.9zM72.7 149.3h0.9v0.9h-0.9zM63.3 145.0h0.9v0.9h-0.9zM74.7 148.4h0.9v0.9h-0.9zM79.7 145.2h0.9v0.9h-0.9zM59.4 144.8h0.9v0.9h-0.9zM71.5 142.6h0.9v0.9h-0.9zM68.1 147.6h0.9v0.9h-0.9zM60.8 150.5h0.9v0.9h-0.9zM69.3 143.3h0.9v0.9h-0.9zM61.5 150.7h0.9v0.9h-0.9zM78.8 150.3h0.9v0.9h-0.9zM72.9 144.1h0.9v0.9h-0.9zM74.3 145.4h0.9v0.9h-0.9zM73.4 147.1h0.9v0.9h-0.9zM72.1 143.6h0.9v0.9h-0.9zM75.4 144.1h0.9v0.9h-0.9zM63.9 146.1h0.9v0.9h-0.9zM68.2 147.0h0.9v0.9h-0.9zM74.7 150.6h0.9v0.9h-0.9zM66.3 143.1h0.9v0.9h-0.9zM76.7 152.5h0.9v0.9h-0.9zM78.4 152.1h0.9v0.9h-0.9zM66.9 145.1h0.9v0.9h-0.9zM73.3 147.1h0.9v0.9h-0.9zM101.3 120.4h0.9v0.9h-0.9zM85.6 126.7h0.9v0.9h-0.9zM89.1 128.0h0.9v0.9h-0.9zM107.7 114.1h0.9v0.9h-0.9zM100.8 120.8h0.9v0.9h-0.9zM91.5 121.7h0.9v0.9h-0.9zM94.4 123.6h0.9v0.9h-0.9zM94.4 127.4h0.9v0.9h-0.9zM86.6 125.1h0.9v0.9h-0.9zM91.2 127.7h0.9v0.9h-0.9zM87.5 122.9h0.9v0.9h-0.9zM89.3 124.2h0.9v0.9h-0.9zM96.5 121.0h0.9v0.9h-0.9zM85.1 133.4h0.9v0.9h-0.9zM98.6 117.6h0.9v0.9h-0.9zM93.6 128.8h0.9v0.9h-0.9zM98.9 114.4h0.9v0.9h-0.9zM99.9 119.6h0.9v0.9h-0.9zM102.7 122.7h0.9v0.9h-0.9zM97.8 124.3h0.9v0.9h-0.9zM98.4 116.6h0.9v0.9h-0.9zM91.3 119.4h0.9v0.9h-0.9zM97.3 125.4h0.9v0.9h-0.9zM85.5 122.3h0.9v0.9h-0.9zM90.8 127.5h0.9v0.9h-0.9zM98.8 118.6h0.9v0.9h-0.9zM92.3 124.1h0.9v0.9h-0.9zM96.3 132.1h0.9v0.9h-0.9zM84.3 135.1h0.9v0.9h-0.9zM103.7 121.8h0.9v0.9h-0.9zM88.1 120.4h0.9v0.9h-0.9zM95.9 123.7h0.9v0.9h-0.9zM92.6 124.3h0.9v0.9h-0.9zM100.2 119.6h0.9v0.9h-0.9zM89.7 131.4h0.9v0.9h-0.9zM84.7 120.7h0.9v0.9h-0.9zM77.5 133.3h0.9v0.9h-0.9zM90.3 125.8h0.9v0.9h-0.9zM83.2 125.7h0.9v0.9h-0.9zM97.0 129.2h0.9v0.9h-0.9zM104.3 112.4h0.9v0.9h-0.9zM74.9 133.4h0.9v0.9h-0.9zM82.4 129.7h0.9v0.9h-0.9zM95.2 113.2h0.9v0.9h-0.9zM102.7 112.6h0.9v0.9h-0.9zM95.2 118.5h0.9v0.9h-0.9zM95.4 126.0h0.9v0.9h-0.9zM96.8 125.9h0.9v0.9h-0.9zM97.4 124.1h0.9v0.9h-0.9zM105.9 118.1h0.9v0.9h-0.9zM97.7 111.8h0.9v0.9h-0.9zM82.8 130.1h0.9v0.9h-0.9zM89.0 123.7h0.9v0.9h-0.9zM94.4 128.1h0.9v0.9h-0.9zM86.2 133.2h0.9v0.9h-0.9zM90.7 134.7h0.9v0.9h-0.9zM88.5 129.2h0.9v0.9h-0.9zM87.1 130.4h0.9v0.9h-0.9zM98.3 116.5h0.9v0.9h-0.9zM89.6 125.9h0.9v0.9h-0.9zM84.0 123.2h0.9v0.9h-0.9zM87.0 130.9h0.9v0.9h-0.9zM93.1 118.6h0.9v0.9h-0.9zM94.8 119.3h0.9v0.9h-0.9zM104.7 115.6h0.9v0.9h-0.9zM96.7 123.8h0.9v0.9h-0.9zM75.5 130.6h0.9v0.9h-0.9zM95.8 123.3h0.9v0.9h-0.9zM85.9 123.2h0.9v0.9h-0.9zM81.9 135.7h0.9v0.9h-0.9zM84.1 125.7h0.9v0.9h-0.9zM107.1 120.8h0.9v0.9h-0.9zM80.1 139.9h0.9v0.9h-0.9zM87.8 116.0h0.9v0.9h-0.9zM102.1 114.7h0.9v0.9h-0.9zM98.1 120.2h0.9v0.9h-0.9zM79.0 136.2h0.9v0.9h-0.9zM91.9 122.3h0.9v0.9h-0.9zM88.6 127.8h0.9v0.9h-0.9zM91.2 121.6h0.9v0.9h-0.9zM98.8 123.2h0.9v0.9h-0.9zM88.1 121.1h0.9v0.9h-0.9zM90.2 128.9h0.9v0.9h-0.9zM77.9 123.5h0.9v0.9h-0.9zM89.7 133.4h0.9v0.9h-0.9zM96.5 122.7h0.9v0.9h-0.9zM82.7 125.3h0.9v0.9h-0.9zM87.7 136.2h0.9v0.9h-0.9zM82.2 134.1h0.9v0.9h-0.9zM94.0 128.2h0.9v0.9h-0.9zM87.7 124.7h0.9v0.9h-0.9zM99.1 123.3h0.9v0.9h-0.9zM101.0 121.8h0.9v0.9h-0.9zM93.1 116.5h0.9v0.9h-0.9zM89.7 128.1h0.9v0.9h-0.9zM94.8 122.0h0.9v0.9h-0.9zM93.2 129.3h0.9v0.9h-0.9zM82.9 134.8h0.9v0.9h-0.9zM101.4 116.6h0.9v0.9h-0.9zM94.5 120.3h0.9v0.9h-0.9zM99.1 121.4h0.9v0.9h-0.9zM81.8 132.5h0.9v0.9h-0.9zM99.8 118.4h0.9v0.9h-0.9zM97.7 124.0h0.9v0.9h-0.9zM81.0 131.9h0.9v0.9h-0.9zM93.0 128.8h0.9v0.9h-0.9zM92.2 125.2h0.9v0.9h-0.9zM90.0 145.2h0.9v0.9h-0.9zM84.6 147.5h0.9v0.9h-0.9zM100.4 147.5h0.9v0.9h-0.9zM93.4 143.1h0.9v0.9h-0.9zM93.3 141.9h0.9v0.9h-0.9zM93.6 143.8h0.9v0.9h-0.9zM85.8 147.7h0.9v0.9h-0.9zM92.9 148.5h0.9v0.9h-0.9zM89.9 151.1h0.9v0.9h-0.9zM106.7 147.8h0.9v0.9h-0.9zM98.2 151.8h0.9v0.9h-0.9zM94.1 147.8h0.9v0.9h-0.9zM96.4 148.9h0.9v0.9h-0.9zM99.9 146.1h0.9v0.9h-0.9zM90.8 147.2h0.9v0.9h-0.9zM93.2 142.3h0.9v0.9h-0.9zM95.8 144.8h0.9v0.9h-0.9zM83.3 151.2h0.9v0.9h-0.9zM89.5 135.8h0.9v0.9h-0.9zM95.0 149.8h0.9v0.9h-0.9zM101.6 140.3h0.9v0.9h-0.9zM91.9 146.2h0.9v0.9h-0.9zM93.7 147.0h0.9v0.9h-0.9zM87.8 137.7h0.9v0.9h-0.9zM88.9 150.0h0.9v0.9h-0.9zM82.2 149.0h0.9v0.9h-0.9zM102.4 148.2h0.9v0.9h-0.9zM88.3 142.8h0.9v0.9h-0.9zM97.7 144.3h0.9v0.9h-0.9zM97.4 144.6h0.9v0.9h-0.9zM91.4 149.2h0.9v0.9h-0.9zM95.7 143.1h0.9v0.9h-0.9zM82.1 135.2h0.9v0.9h-0.9zM75.5 134.5h0.9v0.9h-0.9zM85.5 130.4h0.9v0.9h-0.9zM81.5 133.7h0.9v0.9h-0.9zM79.7 133.7h0.9v0.9h-0.9zM81.4 137.0h0.9v0.9h-0.9zM76.4 137.9h0.9v0.9h-0.9zM81.6 134.0h0.9v0.9h-0.9zM74.8 136.1h0.9v0.9h-0.9zM78.5 136.8h0.9v0.9h-0.9zM84.6 133.0h0.9v0.9h-0.9zM84.4 131.4h0.9v0.9h-0.9zM80.2 133.8h0.9v0.9h-0.9zM78.6 133.2h0.9v0.9h-0.9zM83.5 132.5h0.9v0.9h-0.9zM81.0 135.3h0.9v0.9h-0.9zM81.7 135.2h0.9v0.9h-0.9zM82.7 133.9h0.9v0.9h-0.9zM78.3 136.8h0.9v0.9h-0.9zM83.2 131.9h0.9v0.9h-0.9zM75.6 136.4h0.9v0.9h-0.9zM84.9 133.6h0.9v0.9h-0.9zM77.0 136.9h0.9v0.9h-0.9zM79.5 133.7h0.9v0.9h-0.9zM79.4 135.7h0.9v0.9h-0.9zM83.0 134.2h0.9v0.9h-0.9zM83.1 133.9h0.9v0.9h-0.9zM82.0 133.6h0.9v0.9h-0.9zM82.5 132.4h0.9v0.9h-0.9zM82.3 133.9h0.9v0.9h-0.9zM80.9 136.6h0.9v0.9h-0.9zM76.1 137.0h0.9v0.9h-0.9zM75.1 136.3h0.9v0.9h-0.9zM75.1 137.8h0.9v0.9h-0.9zM81.0 132.2h0.9v0.9h-0.9zM80.5 134.7h0.9v0.9h-0.9zM80.7 133.7h0.9v0.9h-0.9zM81.7 135.1h0.9v0.9h-0.9zM80.5 134.5h0.9v0.9h-0.9zM78.5 137.0h0.9v0.9h-0.9zM77.2 139.6h0.9v0.9h-0.9zM76.2 136.4h0.9v0.9h-0.9zM84.3 131.0h0.9v0.9h-0.9zM83.5 133.3h0.9v0.9h-0.9zM77.6 135.8h0.9v0.9h-0.9zM80.4 134.6h0.9v0.9h-0.9zM82.2 132.4h0.9v0.9h-0.9zM85.3 132.5h0.9v0.9h-0.9zM79.5 135.0h0.9v0.9h-0.9zM81.5 130.5h0.9v0.9h-0.9z" fill="#3a3a3a" stroke="none" stroke-width="1" fill-opacity="0.6"/>
<rect x="52.50" y="106.90" width="57.30" height="47.10" fill="none" stroke="#333" stroke-width="1.1"/>
<line x1="83.50" y1="106.90" x2="83.50" y2="154.00" stroke="#222" stroke-width="1.1"/>
<line x1="52.50" y1="139.60" x2="109.80" y2="139.60" stroke="#222" stroke-width="1.1"/>
<text x="54.70" y="146.86" font-size="8.3" font-weight="bold" stroke="#000" stroke-width="0.3" text-anchor="start" fill="#000">85</text>
<g clip-path="url(#c112_106)"><ellipse cx="131" cy="149" rx="12" ry="5" fill="#505050" fill-opacity="0.85" filter="url(#b2)" transform="rotate(0 131 149)"/></g>
<g clip-path="url(#c112_106)"><ellipse cx="150" cy="125" rx="10" ry="8" fill="#999" fill-opacity="0.35" filter="url(#b2)" transform="rotate(0 150 125)"/></g>
<path d="M129.4 148.1h0.9v0.9h-0.9zM133.6 147.1h0.9v0.9h-0.9zM139.8 151.3h0.9v0.9h-0.9zM127.0 147.2h0.9v0.9h-0.9zM125.3 152.2h0.9v0.9h-0.9zM139.5 150.0h0.9v0.9h-0.9zM126.7 141.6h0.9v0.9h-0.9zM131.9 148.0h0.9v0.9h-0.9zM134.6 143.7h0.9v0.9h-0.9zM136.5 152.3h0.9v0.9h-0.9zM123.1 147.8h0.9v0.9h-0.9zM138.5 150.6h0.9v0.9h-0.9zM128.0 143.2h0.9v0.9h-0.9zM127.4 140.3h0.9v0.9h-0.9zM145.8 147.6h0.9v0.9h-0.9zM137.5 148.1h0.9v0.9h-0.9zM123.4 142.6h0.9v0.9h-0.9zM127.6 148.6h0.9v0.9h-0.9zM129.4 149.5h0.9v0.9h-0.9zM125.7 150.4h0.9v0.9h-0.9zM137.0 151.8h0.9v0.9h-0.9zM136.8 147.6h0.9v0.9h-0.9zM132.9 149.0h0.9v0.9h-0.9zM128.2 150.4h0.9v0.9h-0.9zM132.7 144.9h0.9v0.9h-0.9zM123.6 151.1h0.9v0.9h-0.9zM128.7 147.5h0.9v0.9h-0.9zM127.1 146.0h0.9v0.9h-0.9zM133.0 151.6h0.9v0.9h-0.9zM121.7 151.1h0.9v0.9h-0.9zM124.1 148.7h0.9v0.9h-0.9zM132.2 151.1h0.9v0.9h-0.9zM126.6 144.9h0.9v0.9h-0.9zM140.2 151.7h0.9v0.9h-0.9zM130.7 143.0h0.9v0.9h-0.9zM128.0 149.8h0.9v0.9h-0.9zM122.6 149.9h0.9v0.9h-0.9zM129.3 142.9h0.9v0.9h-0.9zM136.0 144.8h0.9v0.9h-0.9zM121.5 151.5h0.9v0.9h-0.9zM142.4 147.5h0.9v0.9h-0.9zM129.3 149.5h0.9v0.9h-0.9zM123.5 145.6h0.9v0.9h-0.9zM126.6 151.9h0.9v0.9h-0.9zM126.5 151.0h0.9v0.9h-0.9zM130.4 151.0h0.9v0.9h-0.9zM127.5 148.8h0.9v0.9h-0.9zM118.7 146.8h0.9v0.9h-0.9zM134.9 151.0h0.9v0.9h-0.9zM127.3 148.8h0.9v0.9h-0.9zM139.8 148.7h0.9v0.9h-0.9zM135.0 144.0h0.9v0.9h-0.9zM135.6 147.8h0.9v0.9h-0.9zM132.4 150.8h0.9v0.9h-0.9zM140.5 147.6h0.9v0.9h-0.9zM128.7 149.6h0.9v0.9h-0.9zM123.9 147.5h0.9v0.9h-0.9zM133.6 145.1h0.9v0.9h-0.9zM128.4 145.8h0.9v0.9h-0.9zM132.6 147.7h0.9v0.9h-0.9zM128.1 147.4h0.9v0.9h-0.9zM136.2 145.1h0.9v0.9h-0.9zM131.9 141.4h0.9v0.9h-0.9zM128.2 150.8h0.9v0.9h-0.9zM139.0 147.6h0.9v0.9h-0.9zM126.2 147.8h0.9v0.9h-0.9zM135.4 151.0h0.9v0.9h-0.9zM129.5 148.9h0.9v0.9h-0.9zM117.5 151.0h0.9v0.9h-0.9zM135.8 146.8h0.9v0.9h-0.9zM140.2 146.8h0.9v0.9h-0.9zM129.9 146.9h0.9v0.9h-0.9zM126.2 146.1h0.9v0.9h-0.9zM127.6 152.5h0.9v0.9h-0.9zM122.0 147.4h0.9v0.9h-0.9zM136.2 147.9h0.9v0.9h-0.9zM135.4 152.3h0.9v0.9h-0.9zM122.1 147.5h0.9v0.9h-0.9zM125.5 147.2h0.9v0.9h-0.9zM120.7 147.8h0.9v0.9h-0.9zM119.4 148.3h0.9v0.9h-0.9zM121.3 145.8h0.9v0.9h-0.9zM119.6 142.9h0.9v0.9h-0.9zM134.1 147.5h0.9v0.9h-0.9zM135.5 142.5h0.9v0.9h-0.9zM130.9 140.6h0.9v0.9h-0.9zM126.2 138.3h0.9v0.9h-0.9zM131.0 146.4h0.9v0.9h-0.9zM128.9 142.7h0.9v0.9h-0.9zM131.4 147.5h0.9v0.9h-0.9zM128.8 141.9h0.9v0.9h-0.9zM127.2 152.3h0.9v0.9h-0.9zM131.3 149.9h0.9v0.9h-0.9zM123.0 149.2h0.9v0.9h-0.9zM121.2 145.8h0.9v0.9h-0.9zM141.9 144.7h0.9v0.9h-0.9zM137.3 145.4h0.9v0.9h-0.9zM125.2 142.0h0.9v0.9h-0.9zM122.9 147.3h0.9v0.9h-0.9zM130.6 149.1h0.9v0.9h-0.9zM134.0 149.6h0.9v0.9h-0.9zM121.2 145.9h0.9v0.9h-0.9zM126.8 149.4h0.9v0.9h-0.9zM133.0 148.2h0.9v0.9h-0.9zM137.3 142.3h0.9v0.9h-0.9zM134.9 152.2h0.9v0.9h-0.9zM134.0 146.2h0.9v0.9h-0.9zM129.6 146.9h0.9v0.9h-0.9zM130.9 149.4h0.9v0.9h-0.9zM132.1 149.1h0.9v0.9h-0.9zM120.4 145.5h0.9v0.9h-0.9zM127.5 149.0h0.9v0.9h-0.9zM122.0 149.0h0.9v0.9h-0.9zM124.1 148.2h0.9v0.9h-0.9zM125.3 150.6h0.9v0.9h-0.9zM138.9 148.3h0.9v0.9h-0.9zM140.8 146.9h0.9v0.9h-0.9zM122.5 142.9h0.9v0.9h-0.9zM131.5 148.5h0.9v0.9h-0.9zM122.8 152.2h0.9v0.9h-0.9zM134.2 147.1h0.9v0.9h-0.9zM140.2 147.1h0.9v0.9h-0.9zM135.2 147.7h0.9v0.9h-0.9zM137.3 149.7h0.9v0.9h-0.9zM129.9 147.9h0.9v0.9h-0.9zM116.8 148.7h0.9v0.9h-0.9zM116.7 141.5h0.9v0.9h-0.9zM135.1 151.0h0.9v0.9h-0.9zM140.1 146.3h0.9v0.9h-0.9zM131.5 150.3h0.9v0.9h-0.9zM138.6 145.0h0.9v0.9h-0.9zM123.1 148.2h0.9v0.9h-0.9zM138.8 141.9h0.9v0.9h-0.9zM134.0 151.6h0.9v0.9h-0.9zM133.7 147.8h0.9v0.9h-0.9zM121.9 144.4h0.9v0.9h-0.9zM130.9 147.9h0.9v0.9h-0.9zM118.6 140.8h0.9v0.9h-0.9zM116.6 149.6h0.9v0.9h-0.9zM129.3 147.8h0.9v0.9h-0.9zM127.9 147.5h0.9v0.9h-0.9zM141.4 149.6h0.9v0.9h-0.9zM130.7 146.3h0.9v0.9h-0.9zM143.9 146.2h0.9v0.9h-0.9zM126.8 148.1h0.9v0.9h-0.9zM121.9 145.9h0.9v0.9h-0.9zM131.9 145.0h0.9v0.9h-0.9zM128.7 151.8h0.9v0.9h-0.9zM129.5 148.7h0.9v0.9h-0.9zM135.2 148.9h0.9v0.9h-0.9zM131.8 144.4h0.9v0.9h-0.9zM125.2 148.9h0.9v0.9h-0.9zM131.8 142.4h0.9v0.9h-0.9zM133.8 147.8h0.9v0.9h-0.9zM128.3 150.5h0.9v0.9h-0.9zM128.3 152.5h0.9v0.9h-0.9zM122.7 143.5h0.9v0.9h-0.9zM134.9 151.9h0.9v0.9h-0.9zM126.2 151.1h0.9v0.9h-0.9zM134.2 148.4h0.9v0.9h-0.9zM140.8 149.4h0.9v0.9h-0.9zM123.7 145.0h0.9v0.9h-0.9zM139.3 150.8h0.9v0.9h-0.9zM127.8 141.8h0.9v0.9h-0.9zM130.0 152.1h0.9v0.9h-0.9zM135.9 147.6h0.9v0.9h-0.9zM131.0 150.8h0.9v0.9h-0.9zM140.1 151.2h0.9v0.9h-0.9zM135.9 146.8h0.9v0.9h-0.9zM143.0 144.9h0.9v0.9h-0.9zM126.0 141.0h0.9v0.9h-0.9zM140.3 148.3h0.9v0.9h-0.9zM131.5 143.1h0.9v0.9h-0.9zM120.4 147.2h0.9v0.9h-0.9zM134.4 150.4h0.9v0.9h-0.9zM129.5 147.0h0.9v0.9h-0.9zM143.1 146.2h0.9v0.9h-0.9zM131.4 148.0h0.9v0.9h-0.9zM132.7 149.6h0.9v0.9h-0.9zM117.3 151.0h0.9v0.9h-0.9zM134.6 144.3h0.9v0.9h-0.9zM123.9 144.8h0.9v0.9h-0.9zM143.0 149.0h0.9v0.9h-0.9zM130.9 144.9h0.9v0.9h-0.9zM119.6 146.9h0.9v0.9h-0.9zM132.3 146.7h0.9v0.9h-0.9zM132.3 144.4h0.9v0.9h-0.9zM136.2 147.6h0.9v0.9h-0.9zM128.9 148.4h0.9v0.9h-0.9zM122.5 148.0h0.9v0.9h-0.9zM130.0 150.5h0.9v0.9h-0.9zM124.4 142.0h0.9v0.9h-0.9zM143.7 144.3h0.9v0.9h-0.9zM125.9 151.1h0.9v0.9h-0.9zM126.3 146.7h0.9v0.9h-0.9zM122.1 149.1h0.9v0.9h-0.9zM127.8 143.4h0.9v0.9h-0.9zM130.0 150.5h0.9v0.9h-0.9zM127.5 144.8h0.9v0.9h-0.9zM129.2 149.4h0.9v0.9h-0.9zM121.4 147.7h0.9v0.9h-0.9zM127.9 150.9h0.9v0.9h-0.9zM136.4 150.1h0.9v0.9h-0.9zM126.3 151.1h0.9v0.9h-0.9zM131.6 139.6h0.9v0.9h-0.9zM130.8 147.2h0.9v0.9h-0.9zM134.8 150.0h0.9v0.9h-0.9zM129.7 150.2h0.9v0.9h-0.9zM130.0 145.9h0.9v0.9h-0.9zM124.8 151.1h0.9v0.9h-0.9zM124.3 148.4h0.9v0.9h-0.9zM143.4 148.8h0.9v0.9h-0.9zM130.9 147.4h0.9v0.9h-0.9zM129.4 149.0h0.9v0.9h-0.9zM131.6 147.0h0.9v0.9h-0.9zM130.6 145.3h0.9v0.9h-0.9zM125.8 145.4h0.9v0.9h-0.9zM124.4 151.7h0.9v0.9h-0.9zM126.0 149.1h0.9v0.9h-0.9zM139.1 150.3h0.9v0.9h-0.9zM126.5 150.0h0.9v0.9h-0.9zM128.1 149.8h0.9v0.9h-0.9zM127.8 148.0h0.9v0.9h-0.9zM136.0 145.3h0.9v0.9h-0.9zM145.2 147.5h0.9v0.9h-0.9zM124.4 148.6h0.9v0.9h-0.9zM134.9 150.3h0.9v0.9h-0.9zM131.9 147.4h0.9v0.9h-0.9zM128.8 147.0h0.9v0.9h-0.9zM121.9 146.3h0.9v0.9h-0.9zM137.0 149.9h0.9v0.9h-0.9zM132.6 147.6h0.9v0.9h-0.9zM123.9 145.1h0.9v0.9h-0.9zM142.4 144.1h0.9v0.9h-0.9zM137.1 147.2h0.9v0.9h-0.9zM139.3 146.4h0.9v0.9h-0.9zM120.6 150.9h0.9v0.9h-0.9zM129.1 144.4h0.9v0.9h-0.9zM127.3 146.9h0.9v0.9h-0.9zM135.5 151.3h0.9v0.9h-0.9zM140.7 149.0h0.9v0.9h-0.9zM117.3 149.4h0.9v0.9h-0.9zM131.1 151.6h0.9v0.9h-0.9zM130.1 142.7h0.9v0.9h-0.9zM138.2 147.7h0.9v0.9h-0.9zM130.7 145.2h0.9v0.9h-0.9zM129.6 148.1h0.9v0.9h-0.9zM123.6 149.8h0.9v0.9h-0.9zM131.3 147.4h0.9v0.9h-0.9zM127.6 148.6h0.9v0.9h-0.9zM133.0 150.2h0.9v0.9h-0.9zM120.1 146.9h0.9v0.9h-0.9zM140.0 152.2h0.9v0.9h-0.9zM121.7 148.1h0.9v0.9h-0.9zM115.5 146.3h0.9v0.9h-0.9zM124.8 146.9h0.9v0.9h-0.9zM129.3 147.2h0.9v0.9h-0.9zM147.0 144.0h0.9v0.9h-0.9zM140.4 150.6h0.9v0.9h-0.9zM127.2 151.2h0.9v0.9h-0.9zM139.6 149.3h0.9v0.9h-0.9zM139.8 147.5h0.9v0.9h-0.9zM131.1 148.8h0.9v0.9h-0.9zM139.7 150.1h0.9v0.9h-0.9zM133.4 150.0h0.9v0.9h-0.9zM122.6 145.0h0.9v0.9h-0.9zM130.1 149.9h0.9v0.9h-0.9zM138.1 151.6h0.9v0.9h-0.9zM121.3 148.2h0.9v0.9h-0.9zM119.5 146.9h0.9v0.9h-0.9zM134.9 145.3h0.9v0.9h-0.9zM144.0 152.1h0.9v0.9h-0.9zM136.2 146.7h0.9v0.9h-0.9zM144.3 151.3h0.9v0.9h-0.9zM120.6 149.7h0.9v0.9h-0.9zM123.5 151.6h0.9v0.9h-0.9zM147.0 150.7h0.9v0.9h-0.9zM129.0 150.0h0.9v0.9h-0.9zM130.1 151.7h0.9v0.9h-0.9zM132.6 144.7h0.9v0.9h-0.9zM138.6 149.4h0.9v0.9h-0.9zM140.5 143.2h0.9v0.9h-0.9zM131.8 141.8h0.9v0.9h-0.9zM128.6 145.6h0.9v0.9h-0.9zM130.7 143.2h0.9v0.9h-0.9zM133.2 150.6h0.9v0.9h-0.9zM132.0 147.6h0.9v0.9h-0.9zM144.0 149.1h0.9v0.9h-0.9zM124.9 147.4h0.9v0.9h-0.9zM134.8 148.0h0.9v0.9h-0.9zM143.6 150.0h0.9v0.9h-0.9zM140.2 150.5h0.9v0.9h-0.9zM133.4 147.2h0.9v0.9h-0.9zM124.7 145.4h0.9v0.9h-0.9zM125.9 146.4h0.9v0.9h-0.9zM129.9 151.3h0.9v0.9h-0.9zM133.2 147.3h0.9v0.9h-0.9zM120.6 147.0h0.9v0.9h-0.9zM134.7 144.7h0.9v0.9h-0.9zM137.0 146.6h0.9v0.9h-0.9zM121.0 149.5h0.9v0.9h-0.9zM128.4 150.1h0.9v0.9h-0.9zM119.0 147.2h0.9v0.9h-0.9zM156.4 150.8h0.9v0.9h-0.9zM131.5 149.7h0.9v0.9h-0.9zM128.5 146.4h0.9v0.9h-0.9zM122.3 151.0h0.9v0.9h-0.9zM117.7 149.1h0.9v0.9h-0.9zM130.7 142.9h0.9v0.9h-0.9zM129.0 149.7h0.9v0.9h-0.9zM141.6 147.8h0.9v0.9h-0.9zM119.3 149.1h0.9v0.9h-0.9zM134.1 152.0h0.9v0.9h-0.9zM140.6 146.7h0.9v0.9h-0.9zM117.0 148.3h0.9v0.9h-0.9zM135.7 152.0h0.9v0.9h-0.9zM119.5 148.3h0.9v0.9h-0.9zM134.7 147.8h0.9v0.9h-0.9zM141.6 145.7h0.9v0.9h-0.9zM131.0 146.3h0.9v0.9h-0.9zM133.1 144.4h0.9v0.9h-0.9zM126.0 151.7h0.9v0.9h-0.9zM133.1 149.1h0.9v0.9h-0.9zM139.1 145.0h0.9v0.9h-0.9zM129.7 148.5h0.9v0.9h-0.9zM130.0 144.1h0.9v0.9h-0.9zM133.8 137.4h0.9v0.9h-0.9zM119.3 151.8h0.9v0.9h-0.9zM131.4 143.5h0.9v0.9h-0.9zM126.1 145.7h0.9v0.9h-0.9zM134.6 149.6h0.9v0.9h-0.9zM138.4 147.8h0.9v0.9h-0.9zM133.2 145.8h0.9v0.9h-0.9zM140.2 147.5h0.9v0.9h-0.9zM123.9 147.2h0.9v0.9h-0.9zM128.1 146.5h0.9v0.9h-0.9zM123.9 148.8h0.9v0.9h-0.9zM131.4 147.8h0.9v0.9h-0.9zM131.7 146.0h0.9v0.9h-0.9zM129.6 148.6h0.9v0.9h-0.9zM122.3 142.2h0.9v0.9h-0.9zM163.3 113.0h0.9v0.9h-0.9zM134.6 136.6h0.9v0.9h-0.9zM149.5 127.9h0.9v0.9h-0.9zM153.3 124.0h0.9v0.9h-0.9zM154.0 128.9h0.9v0.9h-0.9zM152.6 135.0h0.9v0.9h-0.9zM161.7 120.3h0.9v0.9h-0.9zM140.1 121.8h0.9v0.9h-0.9zM149.6 140.1h0.9v0.9h-0.9zM151.6 125.8h0.9v0.9h-0.9zM145.8 136.9h0.9v0.9h-0.9zM144.9 122.8h0.9v0.9h-0.9zM161.9 125.8h0.9v0.9h-0.9zM143.8 123.2h0.9v0.9h-0.9zM145.9 131.2h0.9v0.9h-0.9zM147.8 124.7h0.9v0.9h-0.9zM148.3 122.0h0.9v0.9h-0.9zM151.7 135.9h0.9v0.9h-0.9zM148.4 128.7h0.9v0.9h-0.9zM153.6 111.8h0.9v0.9h-0.9zM151.5 124.1h0.9v0.9h-0.9zM154.6 118.9h0.9v0.9h-0.9zM162.6 115.0h0.9v0.9h-0.9zM142.6 123.9h0.9v0.9h-0.9zM165.1 119.3h0.9v0.9h-0.9zM146.2 127.1h0.9v0.9h-0.9zM156.2 119.3h0.9v0.9h-0.9zM151.7 113.3h0.9v0.9h-0.9zM147.6 123.0h0.9v0.9h-0.9zM132.6 135.9h0.9v0.9h-0.9zM164.7 113.6h0.9v0.9h-0.9zM143.4 131.6h0.9v0.9h-0.9zM143.1 130.7h0.9v0.9h-0.9zM159.8 120.8h0.9v0.9h-0.9zM150.9 127.9h0.9v0.9h-0.9zM167.3 117.0h0.9v0.9h-0.9zM165.3 119.8h0.9v0.9h-0.9zM156.6 117.7h0.9v0.9h-0.9zM152.5 128.5h0.9v0.9h-0.9zM157.1 133.4h0.9v0.9h-0.9zM138.4 124.2h0.9v0.9h-0.9zM151.8 133.5h0.9v0.9h-0.9zM151.5 111.5h0.9v0.9h-0.9zM146.0 121.1h0.9v0.9h-0.9zM152.5 118.7h0.9v0.9h-0.9zM137.1 140.4h0.9v0.9h-0.9zM158.3 120.2h0.9v0.9h-0.9zM161.8 128.4h0.9v0.9h-0.9zM138.6 115.1h0.9v0.9h-0.9zM151.5 126.4h0.9v0.9h-0.9zM164.1 126.5h0.9v0.9h-0.9zM154.0 124.8h0.9v0.9h-0.9zM141.0 110.0h0.9v0.9h-0.9zM141.3 129.2h0.9v0.9h-0.9zM157.8 129.6h0.9v0.9h-0.9zM166.6 130.9h0.9v0.9h-0.9zM140.5 130.9h0.9v0.9h-0.9zM150.5 114.7h0.9v0.9h-0.9zM143.2 126.2h0.9v0.9h-0.9zM147.6 132.6h0.9v0.9h-0.9zM153.0 119.9h0.9v0.9h-0.9zM149.8 129.8h0.9v0.9h-0.9zM144.1 124.2h0.9v0.9h-0.9zM148.8 131.3h0.9v0.9h-0.9zM148.6 121.6h0.9v0.9h-0.9zM160.1 142.7h0.9v0.9h-0.9zM150.3 126.9h0.9v0.9h-0.9zM148.4 128.7h0.9v0.9h-0.9zM158.7 119.0h0.9v0.9h-0.9zM140.9 128.5h0.9v0.9h-0.9zM156.9 122.6h0.9v0.9h-0.9zM159.4 114.1h0.9v0.9h-0.9zM156.1 114.4h0.9v0.9h-0.9zM148.6 128.2h0.9v0.9h-0.9zM150.1 125.4h0.9v0.9h-0.9zM134.8 112.0h0.9v0.9h-0.9zM149.0 111.9h0.9v0.9h-0.9zM152.8 123.3h0.9v0.9h-0.9zM157.9 123.7h0.9v0.9h-0.9zM151.4 129.7h0.9v0.9h-0.9zM146.7 118.5h0.9v0.9h-0.9zM142.7 131.7h0.9v0.9h-0.9zM149.8 124.0h0.9v0.9h-0.9zM151.4 122.3h0.9v0.9h-0.9zM161.0 122.5h0.9v0.9h-0.9zM150.3 132.5h0.9v0.9h-0.9zM145.7 130.7h0.9v0.9h-0.9zM149.2 132.1h0.9v0.9h-0.9zM145.9 122.4h0.9v0.9h-0.9zM148.1 124.6h0.9v0.9h-0.9zM130.5 122.8h0.9v0.9h-0.9zM136.0 125.6h0.9v0.9h-0.9zM139.5 125.8h0.9v0.9h-0.9zM154.3 121.9h0.9v0.9h-0.9zM149.5 130.9h0.9v0.9h-0.9zM151.5 128.5h0.9v0.9h-0.9zM160.5 128.6h0.9v0.9h-0.9zM140.9 129.0h0.9v0.9h-0.9zM160.3 130.7h0.9v0.9h-0.9zM153.6 125.9h0.9v0.9h-0.9zM143.8 133.9h0.9v0.9h-0.9zM163.4 126.2h0.9v0.9h-0.9zM137.5 133.8h0.9v0.9h-0.9zM140.1 127.9h0.9v0.9h-0.9zM148.3 118.1h0.9v0.9h-0.9zM153.8 115.5h0.9v0.9h-0.9zM148.5 139.4h0.9v0.9h-0.9zM131.2 133.0h0.9v0.9h-0.9zM147.5 129.5h0.9v0.9h-0.9zM149.4 125.0h0.9v0.9h-0.9zM162.4 142.3h0.9v0.9h-0.9zM151.3 118.2h0.9v0.9h-0.9zM140.5 127.8h0.9v0.9h-0.9zM153.2 124.9h0.9v0.9h-0.9zM139.8 120.8h0.9v0.9h-0.9zM152.0 117.1h0.9v0.9h-0.9zM153.4 120.5h0.9v0.9h-0.9zM146.6 124.5h0.9v0.9h-0.9zM152.4 122.2h0.9v0.9h-0.9zM147.2 132.1h0.9v0.9h-0.9zM145.1 119.3h0.9v0.9h-0.9zM163.8 125.5h0.9v0.9h-0.9zM155.3 134.6h0.9v0.9h-0.9zM147.4 132.6h0.9v0.9h-0.9zM143.3 119.9h0.9v0.9h-0.9zM155.2 130.4h0.9v0.9h-0.9zM157.7 127.5h0.9v0.9h-0.9zM163.2 119.0h0.9v0.9h-0.9zM154.2 133.6h0.9v0.9h-0.9zM140.2 125.6h0.9v0.9h-0.9zM168.2 122.5h0.9v0.9h-0.9zM160.5 116.6h0.9v0.9h-0.9zM157.5 126.4h0.9v0.9h-0.9zM162.0 120.3h0.9v0.9h-0.9zM136.9 125.7h0.9v0.9h-0.9zM146.8 134.0h0.9v0.9h-0.9zM145.6 128.5h0.9v0.9h-0.9zM160.7 113.5h0.9v0.9h-0.9zM139.7 133.0h0.9v0.9h-0.9zM147.3 132.2h0.9v0.9h-0.9zM163.6 117.3h0.9v0.9h-0.9zM155.9 122.0h0.9v0.9h-0.9zM146.7 127.1h0.9v0.9h-0.9zM166.8 120.4h0.9v0.9h-0.9zM138.3 129.6h0.9v0.9h-0.9zM154.2 129.4h0.9v0.9h-0.9zM148.1 123.2h0.9v0.9h-0.9zM154.7 138.8h0.9v0.9h-0.9zM147.7 121.8h0.9v0.9h-0.9zM142.7 124.1h0.9v0.9h-0.9zM152.0 138.7h0.9v0.9h-0.9zM138.4 144.6h0.9v0.9h-0.9zM154.8 125.1h0.9v0.9h-0.9zM147.3 125.4h0.9v0.9h-0.9zM158.3 116.9h0.9v0.9h-0.9zM146.1 134.5h0.9v0.9h-0.9zM144.2 128.5h0.9v0.9h-0.9zM153.7 119.5h0.9v0.9h-0.9zM161.1 126.1h0.9v0.9h-0.9zM131.7 139.4h0.9v0.9h-0.9zM151.2 130.3h0.9v0.9h-0.9zM155.7 139.4h0.9v0.9h-0.9zM137.5 136.7h0.9v0.9h-0.9zM142.3 130.7h0.9v0.9h-0.9zM155.8 124.4h0.9v0.9h-0.9zM142.8 131.4h0.9v0.9h-0.9zM144.4 135.4h0.9v0.9h-0.9zM165.3 128.2h0.9v0.9h-0.9zM141.7 135.0h0.9v0.9h-0.9zM142.4 129.3h0.9v0.9h-0.9zM129.6 135.9h0.9v0.9h-0.9zM140.4 136.4h0.9v0.9h-0.9zM139.2 127.4h0.9v0.9h-0.9zM165.3 113.8h0.9v0.9h-0.9zM160.9 135.0h0.9v0.9h-0.9zM138.9 132.5h0.9v0.9h-0.9zM167.5 119.0h0.9v0.9h-0.9zM156.9 125.9h0.9v0.9h-0.9zM148.5 124.7h0.9v0.9h-0.9zM157.3 112.9h0.9v0.9h-0.9zM153.5 124.0h0.9v0.9h-0.9zM143.3 118.1h0.9v0.9h-0.9zM134.5 131.0h0.9v0.9h-0.9zM142.0 127.1h0.9v0.9h-0.9zM150.0 133.6h0.9v0.9h-0.9zM146.9 125.9h0.9v0.9h-0.9zM143.5 130.0h0.9v0.9h-0.9zM158.7 122.0h0.9v0.9h-0.9zM140.6 125.6h0.9v0.9h-0.9zM158.0 114.8h0.9v0.9h-0.9zM145.8 133.6h0.9v0.9h-0.9zM151.0 126.9h0.9v0.9h-0.9zM140.1 124.4h0.9v0.9h-0.9zM150.0 127.4h0.9v0.9h-0.9zM143.1 124.8h0.9v0.9h-0.9zM134.6 124.8h0.9v0.9h-0.9zM149.9 127.7h0.9v0.9h-0.9zM149.6 134.2h0.9v0.9h-0.9zM157.4 122.5h0.9v0.9h-0.9zM152.6 115.9h0.9v0.9h-0.9zM141.1 124.0h0.9v0.9h-0.9zM144.6 139.3h0.9v0.9h-0.9zM128.0 125.7h0.9v0.9h-0.9zM140.1 136.2h0.9v0.9h-0.9zM161.6 121.7h0.9v0.9h-0.9zM163.5 127.8h0.9v0.9h-0.9zM156.8 123.7h0.9v0.9h-0.9zM152.7 114.8h0.9v0.9h-0.9zM155.3 122.0h0.9v0.9h-0.9zM154.4 139.1h0.9v0.9h-0.9zM134.7 128.7h0.9v0.9h-0.9zM142.3 131.6h0.9v0.9h-0.9zM160.6 121.3h0.9v0.9h-0.9zM160.5 122.7h0.9v0.9h-0.9zM152.2 127.6h0.9v0.9h-0.9zM147.3 129.8h0.9v0.9h-0.9zM146.6 141.6h0.9v0.9h-0.9zM145.2 127.0h0.9v0.9h-0.9zM141.8 126.7h0.9v0.9h-0.9zM132.9 125.6h0.9v0.9h-0.9zM151.4 116.9h0.9v0.9h-0.9zM146.0 116.2h0.9v0.9h-0.9zM148.1 130.9h0.9v0.9h-0.9zM165.3 110.0h0.9v0.9h-0.9zM155.3 134.2h0.9v0.9h-0.9zM143.8 133.2h0.9v0.9h-0.9zM155.2 122.8h0.9v0.9h-0.9zM152.2 147.2h0.9v0.9h-0.9zM152.1 152.3h0.9v0.9h-0.9zM158.8 145.9h0.9v0.9h-0.9zM147.6 151.9h0.9v0.9h-0.9zM149.7 143.1h0.9v0.9h-0.9zM151.7 147.8h0.9v0.9h-0.9zM150.4 142.8h0.9v0.9h-0.9zM148.3 149.7h0.9v0.9h-0.9zM141.7 149.4h0.9v0.9h-0.9zM142.2 143.3h0.9v0.9h-0.9zM148.0 144.1h0.9v0.9h-0.9zM150.7 145.3h0.9v0.9h-0.9zM158.0 141.1h0.9v0.9h-0.9zM165.9 143.4h0.9v0.9h-0.9zM162.3 143.6h0.9v0.9h-0.9zM154.4 150.2h0.9v0.9h-0.9zM151.3 145.3h0.9v0.9h-0.9zM148.9 145.9h0.9v0.9h-0.9zM165.9 147.9h0.9v0.9h-0.9zM145.6 145.0h0.9v0.9h-0.9zM149.5 145.9h0.9v0.9h-0.9zM150.4 150.4h0.9v0.9h-0.9zM160.8 148.0h0.9v0.9h-0.9zM148.5 146.7h0.9v0.9h-0.9zM156.7 144.8h0.9v0.9h-0.9zM144.7 144.6h0.9v0.9h-0.9zM153.4 147.5h0.9v0.9h-0.9zM153.0 142.9h0.9v0.9h-0.9zM145.1 144.7h0.9v0.9h-0.9zM146.8 147.4h0.9v0.9h-0.9zM147.3 145.5h0.9v0.9h-0.9zM157.8 149.2h0.9v0.9h-0.9zM154.8 147.3h0.9v0.9h-0.9zM153.5 141.5h0.9v0.9h-0.9zM155.0 137.8h0.9v0.9h-0.9zM149.2 151.0h0.9v0.9h-0.9zM154.9 144.7h0.9v0.9h-0.9zM144.0 147.1h0.9v0.9h-0.9zM147.8 144.0h0.9v0.9h-0.9zM153.3 149.3h0.9v0.9h-0.9zM152.6 146.0h0.9v0.9h-0.9zM158.4 147.1h0.9v0.9h-0.9zM141.9 143.3h0.9v0.9h-0.9zM150.7 149.6h0.9v0.9h-0.9zM154.4 151.4h0.9v0.9h-0.9zM146.3 145.0h0.9v0.9h-0.9zM149.6 144.8h0.9v0.9h-0.9zM145.3 148.1h0.9v0.9h-0.9zM158.8 140.5h0.9v0.9h-0.9zM143.7 139.4h0.9v0.9h-0.9zM146.4 151.6h0.9v0.9h-0.9zM146.7 140.3h0.9v0.9h-0.9zM147.6 148.0h0.9v0.9h-0.9zM147.0 148.7h0.9v0.9h-0.9zM153.7 147.4h0.9v0.9h-0.9zM140.8 148.2h0.9v0.9h-0.9zM159.5 143.4h0.9v0.9h-0.9zM157.1 146.4h0.9v0.9h-0.9zM160.4 142.5h0.9v0.9h-0.9zM146.2 145.7h0.9v0.9h-0.9zM138.1 148.5h0.9v0.9h-0.9zM148.3 143.9h0.9v0.9h-0.9zM151.0 145.9h0.9v0.9h-0.9zM153.9 145.3h0.9v0.9h-0.9zM148.9 147.1h0.9v0.9h-0.9zM151.5 150.7h0.9v0.9h-0.9zM152.9 148.0h0.9v0.9h-0.9zM142.8 148.6h0.9v0.9h-0.9zM162.9 141.3h0.9v0.9h-0.9zM145.3 145.6h0.9v0.9h-0.9zM153.6 150.3h0.9v0.9h-0.9zM158.5 143.6h0.9v0.9h-0.9zM147.4 145.3h0.9v0.9h-0.9zM152.1 143.2h0.9v0.9h-0.9zM161.9 152.4h0.9v0.9h-0.9zM150.4 145.2h0.9v0.9h-0.9zM158.3 144.1h0.9v0.9h-0.9zM153.8 149.5h0.9v0.9h-0.9zM153.4 151.4h0.9v0.9h-0.9zM156.4 149.0h0.9v0.9h-0.9zM150.7 151.0h0.9v0.9h-0.9zM150.8 147.9h0.9v0.9h-0.9zM157.8 146.5h0.9v0.9h-0.9zM153.6 145.3h0.9v0.9h-0.9zM155.1 145.0h0.9v0.9h-0.9zM144.9 144.7h0.9v0.9h-0.9zM152.2 148.5h0.9v0.9h-0.9zM159.3 146.6h0.9v0.9h-0.9zM157.5 147.4h0.9v0.9h-0.9zM154.1 149.5h0.9v0.9h-0.9zM149.0 146.8h0.9v0.9h-0.9zM148.4 141.6h0.9v0.9h-0.9zM154.7 143.9h0.9v0.9h-0.9z" fill="#3a3a3a" stroke="none" stroke-width="1" fill-opacity="0.6"/>
<rect x="112.40" y="106.90" width="57.40" height="47.10" fill="none" stroke="#333" stroke-width="1.1"/>
<line x1="142.40" y1="106.90" x2="142.40" y2="154.00" stroke="#222" stroke-width="1.1"/>
<line x1="112.40" y1="139.60" x2="169.80" y2="139.60" stroke="#222" stroke-width="1.1"/>
<text x="113.70" y="146.86" font-size="8.3" font-weight="bold" stroke="#000" stroke-width="0.3" text-anchor="start" fill="#000">88</text>
<g clip-path="url(#c170_106)"><ellipse cx="190" cy="150" rx="11" ry="4.4" fill="#505050" fill-opacity="0.85" filter="url(#b2)" transform="rotate(0 190 150)"/></g>
<g clip-path="url(#c170_106)"><ellipse cx="200" cy="134" rx="4.5" ry="1.3" fill="#222" fill-opacity="0.8" filter="url(#b1)" transform="rotate(-35 200 134)"/></g>
<path d="M182.8 145.5h0.9v0.9h-0.9zM177.7 152.1h0.9v0.9h-0.9zM190.7 152.5h0.9v0.9h-0.9zM182.3 141.7h0.9v0.9h-0.9zM181.7 141.7h0.9v0.9h-0.9zM183.1 144.8h0.9v0.9h-0.9zM195.7 144.9h0.9v0.9h-0.9zM188.0 150.6h0.9v0.9h-0.9zM196.5 150.7h0.9v0.9h-0.9zM187.2 151.8h0.9v0.9h-0.9zM193.7 150.1h0.9v0.9h-0.9zM190.8 146.5h0.9v0.9h-0.9zM183.3 144.3h0.9v0.9h-0.9zM187.1 149.3h0.9v0.9h-0.9zM182.4 152.0h0.9v0.9h-0.9zM188.4 143.9h0.9v0.9h-0.9zM190.6 152.4h0.9v0.9h-0.9zM199.2 148.5h0.9v0.9h-0.9zM194.4 150.3h0.9v0.9h-0.9zM196.2 149.0h0.9v0.9h-0.9zM191.5 149.8h0.9v0.9h-0.9zM199.9 147.5h0.9v0.9h-0.9zM196.9 143.4h0.9v0.9h-0.9zM191.2 143.4h0.9v0.9h-0.9zM192.0 151.9h0.9v0.9h-0.9zM183.6 147.0h0.9v0.9h-0.9zM196.1 147.6h0.9v0.9h-0.9zM190.9 147.0h0.9v0.9h-0.9zM195.3 145.4h0.9v0.9h-0.9zM188.6 148.4h0.9v0.9h-0.9zM178.5 146.2h0.9v0.9h-0.9zM193.3 147.5h0.9v0.9h-0.9zM197.6 151.6h0.9v0.9h-0.9zM181.7 144.9h0.9v0.9h-0.9zM188.1 141.9h0.9v0.9h-0.9zM179.0 144.1h0.9v0.9h-0.9zM201.4 152.2h0.9v0.9h-0.9zM186.0 149.1h0.9v0.9h-0.9zM178.2 151.0h0.9v0.9h-0.9zM192.4 149.2h0.9v0.9h-0.9zM202.9 144.6h0.9v0.9h-0.9zM195.4 151.0h0.9v0.9h-0.9zM183.9 147.1h0.9v0.9h-0.9zM191.5 143.9h0.9v0.9h-0.9zM180.3 146.7h0.9v0.9h-0.9zM202.9 151.5h0.9v0.9h-0.9zM193.7 150.7h0.9v0.9h-0.9zM176.3 152.1h0.9v0.9h-0.9zM178.0 150.4h0.9v0.9h-0.9zM193.1 151.3h0.9v0.9h-0.9zM190.9 142.8h0.9v0.9h-0.9zM194.0 149.9h0.9v0.9h-0.9zM192.4 148.5h0.9v0.9h-0.9zM178.3 148.0h0.9v0.9h-0.9zM189.0 149.5h0.9v0.9h-0.9zM192.1 151.6h0.9v0.9h-0.9zM183.1 147.6h0.9v0.9h-0.9zM189.8 151.1h0.9v0.9h-0.9zM184.7 147.5h0.9v0.9h-0.9zM188.4 149.4h0.9v0.9h-0.9zM194.8 142.9h0.9v0.9h-0.9zM189.9 150.5h0.9v0.9h-0.9zM186.3 148.1h0.9v0.9h-0.9zM190.9 143.1h0.9v0.9h-0.9zM178.4 147.6h0.9v0.9h-0.9zM207.3 143.1h0.9v0.9h-0.9zM185.5 149.4h0.9v0.9h-0.9zM190.6 148.9h0.9v0.9h-0.9zM186.8 148.1h0.9v0.9h-0.9zM181.0 147.9h0.9v0.9h-0.9zM183.9 151.5h0.9v0.9h-0.9zM182.3 143.8h0.9v0.9h-0.9zM201.6 146.6h0.9v0.9h-0.9zM181.2 147.9h0.9v0.9h-0.9zM182.9 148.8h0.9v0.9h-0.9zM191.2 145.5h0.9v0.9h-0.9zM199.2 148.8h0.9v0.9h-0.9zM178.9 151.0h0.9v0.9h-0.9zM179.8 147.2h0.9v0.9h-0.9zM190.7 149.0h0.9v0.9h-0.9zM192.1 146.7h0.9v0.9h-0.9zM183.7 149.7h0.9v0.9h-0.9zM194.8 149.5h0.9v0.9h-0.9zM194.7 151.4h0.9v0.9h-0.9zM189.2 147.2h0.9v0.9h-0.9zM189.7 144.9h0.9v0.9h-0.9zM193.9 147.8h0.9v0.9h-0.9zM191.4 147.6h0.9v0.9h-0.9zM186.0 149.2h0.9v0.9h-0.9zM192.9 149.0h0.9v0.9h-0.9zM185.0 148.3h0.9v0.9h-0.9zM194.1 151.1h0.9v0.9h-0.9zM193.4 146.3h0.9v0.9h-0.9zM189.8 145.3h0.9v0.9h-0.9zM184.9 146.6h0.9v0.9h-0.9zM195.7 150.7h0.9v0.9h-0.9zM206.1 148.5h0.9v0.9h-0.9zM184.5 142.5h0.9v0.9h-0.9zM179.8 150.3h0.9v0.9h-0.9zM184.8 148.5h0.9v0.9h-0.9zM183.8 148.1h0.9v0.9h-0.9zM181.6 146.8h0.9v0.9h-0.9zM182.2 141.4h0.9v0.9h-0.9zM195.4 148.3h0.9v0.9h-0.9zM199.5 152.0h0.9v0.9h-0.9zM196.9 150.7h0.9v0.9h-0.9zM185.9 149.2h0.9v0.9h-0.9zM187.6 150.3h0.9v0.9h-0.9zM182.2 151.9h0.9v0.9h-0.9zM197.8 152.0h0.9v0.9h-0.9zM196.4 148.5h0.9v0.9h-0.9zM186.8 150.8h0.9v0.9h-0.9zM187.8 150.6h0.9v0.9h-0.9zM190.1 151.8h0.9v0.9h-0.9zM191.1 150.3h0.9v0.9h-0.9zM190.3 150.2h0.9v0.9h-0.9zM180.1 148.9h0.9v0.9h-0.9zM187.9 147.4h0.9v0.9h-0.9zM178.2 145.4h0.9v0.9h-0.9zM201.4 149.8h0.9v0.9h-0.9zM198.9 152.0h0.9v0.9h-0.9zM197.0 149.7h0.9v0.9h-0.9zM202.8 148.7h0.9v0.9h-0.9zM195.9 148.2h0.9v0.9h-0.9zM188.5 149.7h0.9v0.9h-0.9zM174.5 146.6h0.9v0.9h-0.9zM184.5 151.6h0.9v0.9h-0.9zM181.7 144.4h0.9v0.9h-0.9zM189.8 149.9h0.9v0.9h-0.9zM192.3 149.5h0.9v0.9h-0.9zM183.8 148.6h0.9v0.9h-0.9zM188.0 145.5h0.9v0.9h-0.9zM188.6 145.0h0.9v0.9h-0.9zM174.2 148.7h0.9v0.9h-0.9zM186.9 151.4h0.9v0.9h-0.9zM191.5 148.2h0.9v0.9h-0.9zM180.1 145.6h0.9v0.9h-0.9zM188.0 149.3h0.9v0.9h-0.9zM183.4 149.2h0.9v0.9h-0.9zM194.2 150.7h0.9v0.9h-0.9zM187.6 142.2h0.9v0.9h-0.9zM189.1 142.2h0.9v0.9h-0.9zM187.7 151.9h0.9v0.9h-0.9zM186.1 144.6h0.9v0.9h-0.9zM194.4 151.6h0.9v0.9h-0.9zM186.7 149.4h0.9v0.9h-0.9zM191.0 150.3h0.9v0.9h-0.9zM175.1 145.7h0.9v0.9h-0.9zM191.7 148.1h0.9v0.9h-0.9zM189.6 146.5h0.9v0.9h-0.9zM181.4 149.0h0.9v0.9h-0.9zM198.6 149.4h0.9v0.9h-0.9zM188.5 151.5h0.9v0.9h-0.9zM181.2 143.6h0.9v0.9h-0.9zM179.2 150.1h0.9v0.9h-0.9zM179.9 149.7h0.9v0.9h-0.9zM195.4 149.8h0.9v0.9h-0.9zM185.6 151.5h0.9v0.9h-0.9zM179.3 145.6h0.9v0.9h-0.9zM187.2 151.9h0.9v0.9h-0.9zM182.9 144.3h0.9v0.9h-0.9zM190.9 144.5h0.9v0.9h-0.9zM187.0 142.2h0.9v0.9h-0.9zM190.2 151.3h0.9v0.9h-0.9zM196.5 149.4h0.9v0.9h-0.9zM200.8 150.7h0.9v0.9h-0.9zM186.4 150.7h0.9v0.9h-0.9zM194.4 149.7h0.9v0.9h-0.9zM188.2 146.4h0.9v0.9h-0.9zM182.9 149.7h0.9v0.9h-0.9zM198.1 151.3h0.9v0.9h-0.9zM192.3 151.3h0.9v0.9h-0.9zM192.0 147.2h0.9v0.9h-0.9zM188.7 149.6h0.9v0.9h-0.9zM182.9 150.8h0.9v0.9h-0.9zM201.3 148.9h0.9v0.9h-0.9zM195.6 145.9h0.9v0.9h-0.9zM191.4 147.7h0.9v0.9h-0.9zM198.1 149.2h0.9v0.9h-0.9zM188.4 151.4h0.9v0.9h-0.9zM193.5 147.3h0.9v0.9h-0.9zM187.6 150.8h0.9v0.9h-0.9zM193.9 147.5h0.9v0.9h-0.9zM188.1 146.5h0.9v0.9h-0.9zM205.6 151.1h0.9v0.9h-0.9zM187.4 149.5h0.9v0.9h-0.9zM192.7 144.3h0.9v0.9h-0.9zM187.6 151.0h0.9v0.9h-0.9zM187.1 148.0h0.9v0.9h-0.9zM189.7 147.2h0.9v0.9h-0.9zM184.8 147.5h0.9v0.9h-0.9zM197.5 151.1h0.9v0.9h-0.9zM193.8 150.4h0.9v0.9h-0.9zM196.1 151.1h0.9v0.9h-0.9zM180.9 150.8h0.9v0.9h-0.9zM191.5 146.0h0.9v0.9h-0.9zM184.7 145.3h0.9v0.9h-0.9zM190.3 145.4h0.9v0.9h-0.9zM198.0 145.6h0.9v0.9h-0.9zM191.4 149.3h0.9v0.9h-0.9zM188.6 150.4h0.9v0.9h-0.9zM196.3 151.8h0.9v0.9h-0.9zM201.7 150.5h0.9v0.9h-0.9zM191.9 147.2h0.9v0.9h-0.9zM187.0 150.4h0.9v0.9h-0.9zM184.0 152.3h0.9v0.9h-0.9zM190.5 152.2h0.9v0.9h-0.9zM182.2 150.3h0.9v0.9h-0.9zM175.2 147.2h0.9v0.9h-0.9zM183.9 144.9h0.9v0.9h-0.9zM188.0 148.8h0.9v0.9h-0.9zM201.9 148.4h0.9v0.9h-0.9zM185.0 151.4h0.9v0.9h-0.9zM182.1 148.4h0.9v0.9h-0.9zM176.9 150.4h0.9v0.9h-0.9zM187.4 143.9h0.9v0.9h-0.9zM190.7 146.7h0.9v0.9h-0.9zM180.3 143.5h0.9v0.9h-0.9zM184.8 144.5h0.9v0.9h-0.9zM175.0 146.3h0.9v0.9h-0.9zM179.5 151.1h0.9v0.9h-0.9zM171.9 144.2h0.9v0.9h-0.9zM197.3 150.3h0.9v0.9h-0.9zM193.0 149.4h0.9v0.9h-0.9zM192.0 144.4h0.9v0.9h-0.9zM192.0 146.3h0.9v0.9h-0.9zM183.0 142.2h0.9v0.9h-0.9zM196.7 147.1h0.9v0.9h-0.9zM182.9 140.1h0.9v0.9h-0.9zM202.2 147.8h0.9v0.9h-0.9zM191.2 146.5h0.9v0.9h-0.9zM177.7 145.9h0.9v0.9h-0.9zM195.4 147.2h0.9v0.9h-0.9zM188.1 148.2h0.9v0.9h-0.9zM196.7 150.8h0.9v0.9h-0.9zM188.4 151.9h0.9v0.9h-0.9zM185.7 152.2h0.9v0.9h-0.9zM173.0 150.5h0.9v0.9h-0.9zM197.8 148.2h0.9v0.9h-0.9zM186.8 145.6h0.9v0.9h-0.9zM192.2 147.1h0.9v0.9h-0.9zM182.4 147.3h0.9v0.9h-0.9zM183.8 149.0h0.9v0.9h-0.9zM197.0 149.7h0.9v0.9h-0.9zM187.1 148.9h0.9v0.9h-0.9zM194.8 148.3h0.9v0.9h-0.9zM186.8 152.1h0.9v0.9h-0.9zM188.5 139.8h0.9v0.9h-0.9zM198.9 151.5h0.9v0.9h-0.9zM185.7 150.5h0.9v0.9h-0.9zM188.7 143.8h0.9v0.9h-0.9zM188.3 148.5h0.9v0.9h-0.9zM179.7 148.2h0.9v0.9h-0.9zM187.4 148.7h0.9v0.9h-0.9zM201.4 147.5h0.9v0.9h-0.9zM191.2 151.8h0.9v0.9h-0.9zM188.3 146.0h0.9v0.9h-0.9zM195.2 152.4h0.9v0.9h-0.9zM198.3 150.6h0.9v0.9h-0.9zM199.1 146.2h0.9v0.9h-0.9zM192.7 150.7h0.9v0.9h-0.9zM191.1 147.4h0.9v0.9h-0.9zM188.0 151.7h0.9v0.9h-0.9zM190.3 147.1h0.9v0.9h-0.9zM183.2 150.8h0.9v0.9h-0.9zM193.7 152.0h0.9v0.9h-0.9zM191.7 146.9h0.9v0.9h-0.9zM195.3 146.0h0.9v0.9h-0.9zM188.4 146.8h0.9v0.9h-0.9zM186.2 149.7h0.9v0.9h-0.9zM181.7 149.8h0.9v0.9h-0.9zM184.6 149.5h0.9v0.9h-0.9zM191.2 150.3h0.9v0.9h-0.9zM185.5 147.8h0.9v0.9h-0.9zM188.5 150.0h0.9v0.9h-0.9zM191.5 150.4h0.9v0.9h-0.9zM194.9 145.3h0.9v0.9h-0.9zM194.9 150.9h0.9v0.9h-0.9zM196.5 147.7h0.9v0.9h-0.9zM191.2 147.9h0.9v0.9h-0.9zM179.4 145.1h0.9v0.9h-0.9zM187.6 148.6h0.9v0.9h-0.9zM184.6 151.2h0.9v0.9h-0.9zM177.9 152.4h0.9v0.9h-0.9zM200.7 148.6h0.9v0.9h-0.9zM177.8 149.6h0.9v0.9h-0.9zM192.2 150.6h0.9v0.9h-0.9zM193.5 146.0h0.9v0.9h-0.9zM188.3 142.2h0.9v0.9h-0.9zM206.8 144.4h0.9v0.9h-0.9zM190.0 151.5h0.9v0.9h-0.9zM184.8 149.4h0.9v0.9h-0.9zM201.4 145.9h0.9v0.9h-0.9zM184.6 147.0h0.9v0.9h-0.9zM180.4 147.4h0.9v0.9h-0.9zM183.2 147.8h0.9v0.9h-0.9zM185.6 149.1h0.9v0.9h-0.9zM192.1 147.0h0.9v0.9h-0.9zM179.8 149.2h0.9v0.9h-0.9zM192.2 147.1h0.9v0.9h-0.9zM204.5 148.5h0.9v0.9h-0.9zM185.2 146.2h0.9v0.9h-0.9zM189.0 148.7h0.9v0.9h-0.9zM194.4 148.0h0.9v0.9h-0.9zM197.8 151.3h0.9v0.9h-0.9zM185.5 149.9h0.9v0.9h-0.9zM183.5 146.0h0.9v0.9h-0.9zM215.8 120.2h0.9v0.9h-0.9zM196.8 128.3h0.9v0.9h-0.9zM206.2 136.0h0.9v0.9h-0.9zM217.3 123.6h0.9v0.9h-0.9zM199.6 137.7h0.9v0.9h-0.9zM212.1 130.6h0.9v0.9h-0.9zM212.7 127.0h0.9v0.9h-0.9zM206.1 130.9h0.9v0.9h-0.9zM192.7 134.0h0.9v0.9h-0.9zM212.7 124.6h0.9v0.9h-0.9zM204.6 127.5h0.9v0.9h-0.9zM200.6 132.1h0.9v0.9h-0.9zM211.8 122.9h0.9v0.9h-0.9zM199.6 137.2h0.9v0.9h-0.9zM210.5 129.0h0.9v0.9h-0.9zM200.6 131.6h0.9v0.9h-0.9zM207.3 122.0h0.9v0.9h-0.9zM197.4 136.3h0.9v0.9h-0.9zM201.6 134.6h0.9v0.9h-0.9zM198.4 133.0h0.9v0.9h-0.9zM199.6 128.0h0.9v0.9h-0.9zM205.1 130.9h0.9v0.9h-0.9zM202.9 134.4h0.9v0.9h-0.9zM205.1 122.3h0.9v0.9h-0.9zM211.9 127.5h0.9v0.9h-0.9zM203.3 123.8h0.9v0.9h-0.9zM192.6 136.9h0.9v0.9h-0.9zM202.2 137.4h0.9v0.9h-0.9zM204.5 130.1h0.9v0.9h-0.9zM210.2 128.1h0.9v0.9h-0.9zM210.3 125.1h0.9v0.9h-0.9zM209.8 126.6h0.9v0.9h-0.9zM202.6 139.4h0.9v0.9h-0.9zM207.9 132.6h0.9v0.9h-0.9zM195.2 134.0h0.9v0.9h-0.9zM211.9 124.0h0.9v0.9h-0.9zM206.7 128.5h0.9v0.9h-0.9zM207.1 136.2h0.9v0.9h-0.9zM201.7 132.1h0.9v0.9h-0.9zM204.3 133.9h0.9v0.9h-0.9zM199.9 131.1h0.9v0.9h-0.9zM207.5 123.3h0.9v0.9h-0.9zM195.9 139.6h0.9v0.9h-0.9zM209.9 126.3h0.9v0.9h-0.9zM207.3 125.2h0.9v0.9h-0.9zM216.4 120.2h0.9v0.9h-0.9zM203.8 127.7h0.9v0.9h-0.9zM203.4 128.1h0.9v0.9h-0.9zM205.2 123.7h0.9v0.9h-0.9zM204.2 134.2h0.9v0.9h-0.9zM203.3 131.8h0.9v0.9h-0.9zM197.2 137.5h0.9v0.9h-0.9zM197.2 132.7h0.9v0.9h-0.9zM200.5 133.3h0.9v0.9h-0.9zM202.2 131.6h0.9v0.9h-0.9zM196.7 138.5h0.9v0.9h-0.9zM196.9 137.1h0.9v0.9h-0.9zM202.3 132.3h0.9v0.9h-0.9zM208.5 125.0h0.9v0.9h-0.9zM202.8 126.3h0.9v0.9h-0.9zM208.2 124.7h0.9v0.9h-0.9zM210.0 124.2h0.9v0.9h-0.9zM208.7 125.3h0.9v0.9h-0.9zM201.4 127.0h0.9v0.9h-0.9zM201.5 137.5h0.9v0.9h-0.9zM192.6 137.6h0.9v0.9h-0.9zM199.8 125.1h0.9v0.9h-0.9zM206.9 124.4h0.9v0.9h-0.9zM197.3 129.0h0.9v0.9h-0.9zM212.3 126.0h0.9v0.9h-0.9zM212.8 128.7h0.9v0.9h-0.9zM201.7 127.7h0.9v0.9h-0.9zM209.6 129.0h0.9v0.9h-0.9zM195.3 134.1h0.9v0.9h-0.9zM197.6 137.9h0.9v0.9h-0.9zM201.7 136.3h0.9v0.9h-0.9zM204.1 131.1h0.9v0.9h-0.9zM202.9 133.3h0.9v0.9h-0.9zM198.7 133.1h0.9v0.9h-0.9zM216.0 121.6h0.9v0.9h-0.9zM205.8 124.7h0.9v0.9h-0.9zM205.8 130.2h0.9v0.9h-0.9zM208.2 127.3h0.9v0.9h-0.9zM205.1 128.0h0.9v0.9h-0.9zM202.6 130.6h0.9v0.9h-0.9zM200.6 131.3h0.9v0.9h-0.9zM194.0 132.1h0.9v0.9h-0.9zM213.2 122.7h0.9v0.9h-0.9zM198.4 137.4h0.9v0.9h-0.9zM193.8 135.1h0.9v0.9h-0.9zM224.9 135.5h0.9v0.9h-0.9zM206.8 120.8h0.9v0.9h-0.9zM205.4 133.2h0.9v0.9h-0.9zM215.9 121.7h0.9v0.9h-0.9zM220.5 131.4h0.9v0.9h-0.9zM210.3 123.0h0.9v0.9h-0.9zM219.4 111.7h0.9v0.9h-0.9zM221.6 118.2h0.9v0.9h-0.9zM222.6 123.3h0.9v0.9h-0.9zM214.2 125.2h0.9v0.9h-0.9zM214.6 109.2h0.9v0.9h-0.9zM203.3 116.5h0.9v0.9h-0.9zM215.2 119.8h0.9v0.9h-0.9zM217.0 123.5h0.9v0.9h-0.9zM225.0 126.6h0.9v0.9h-0.9zM206.0 119.2h0.9v0.9h-0.9zM209.0 114.3h0.9v0.9h-0.9zM207.9 127.1h0.9v0.9h-0.9zM221.4 122.7h0.9v0.9h-0.9zM197.1 131.3h0.9v0.9h-0.9zM207.3 121.3h0.9v0.9h-0.9zM219.7 118.7h0.9v0.9h-0.9zM205.6 126.9h0.9v0.9h-0.9zM214.6 125.6h0.9v0.9h-0.9zM221.0 128.2h0.9v0.9h-0.9zM218.9 118.4h0.9v0.9h-0.9zM213.4 124.1h0.9v0.9h-0.9zM209.4 119.0h0.9v0.9h-0.9zM220.9 123.9h0.9v0.9h-0.9zM215.0 129.4h0.9v0.9h-0.9zM220.7 146.0h0.9v0.9h-0.9zM217.8 125.2h0.9v0.9h-0.9zM211.7 130.0h0.9v0.9h-0.9zM225.2 125.8h0.9v0.9h-0.9zM211.5 133.0h0.9v0.9h-0.9zM218.0 128.3h0.9v0.9h-0.9zM210.5 132.4h0.9v0.9h-0.9zM213.4 127.5h0.9v0.9h-0.9zM213.2 141.9h0.9v0.9h-0.9zM210.3 134.7h0.9v0.9h-0.9zM216.7 113.0h0.9v0.9h-0.9zM224.3 127.1h0.9v0.9h-0.9zM225.2 109.5h0.9v0.9h-0.9zM213.8 119.0h0.9v0.9h-0.9zM225.3 121.8h0.9v0.9h-0.9zM218.0 119.8h0.9v0.9h-0.9zM206.1 112.4h0.9v0.9h-0.9zM215.8 142.5h0.9v0.9h-0.9zM215.9 144.4h0.9v0.9h-0.9zM213.8 147.7h0.9v0.9h-0.9zM210.4 141.8h0.9v0.9h-0.9zM209.7 139.9h0.9v0.9h-0.9zM217.8 144.7h0.9v0.9h-0.9zM214.6 142.1h0.9v0.9h-0.9zM222.0 145.4h0.9v0.9h-0.9zM210.2 151.2h0.9v0.9h-0.9zM219.3 150.4h0.9v0.9h-0.9zM209.1 151.7h0.9v0.9h-0.9zM211.2 150.4h0.9v0.9h-0.9zM206.8 139.9h0.9v0.9h-0.9zM214.7 149.2h0.9v0.9h-0.9zM211.7 140.6h0.9v0.9h-0.9zM215.1 146.0h0.9v0.9h-0.9zM219.5 146.5h0.9v0.9h-0.9zM211.7 145.8h0.9v0.9h-0.9zM213.9 150.0h0.9v0.9h-0.9zM216.5 144.8h0.9v0.9h-0.9zM209.3 150.4h0.9v0.9h-0.9zM214.6 151.1h0.9v0.9h-0.9zM215.9 151.6h0.9v0.9h-0.9zM216.2 147.9h0.9v0.9h-0.9zM214.3 143.8h0.9v0.9h-0.9zM218.2 149.9h0.9v0.9h-0.9zM209.7 148.0h0.9v0.9h-0.9zM213.9 147.1h0.9v0.9h-0.9zM208.9 149.3h0.9v0.9h-0.9zM212.9 145.0h0.9v0.9h-0.9zM220.7 151.5h0.9v0.9h-0.9zM212.9 151.2h0.9v0.9h-0.9zM207.2 148.4h0.9v0.9h-0.9zM213.8 151.0h0.9v0.9h-0.9zM213.1 143.9h0.9v0.9h-0.9zM217.6 140.8h0.9v0.9h-0.9z" fill="#3a3a3a" stroke="none" stroke-width="1" fill-opacity="0.6"/>
<rect x="170.30" y="106.90" width="57.60" height="47.10" fill="none" stroke="#333" stroke-width="1.1"/>
<line x1="201.00" y1="106.90" x2="201.00" y2="154.00" stroke="#222" stroke-width="1.1"/>
<line x1="170.30" y1="139.60" x2="227.90" y2="139.60" stroke="#222" stroke-width="1.1"/>
<text x="171.60" y="146.86" font-size="8.3" font-weight="bold" stroke="#000" stroke-width="0.3" text-anchor="start" fill="#000">89</text>
<line x1="232.70" y1="20.00" x2="232.70" y2="154.60" stroke="#555" stroke-width="1.3"/>
<path d="M230.5 21.0 L232.7 16.8 L234.9 21.0 Z" fill="#111" stroke="none" stroke-width="1"/>
<text x="230.70" y="15.82" font-size="8.2" font-weight="bold" stroke="#000" stroke-width="0.3" text-anchor="start" fill="#000">PI</text>
<text x="54.30" y="165.02" font-size="8.2" font-weight="bold" stroke="#000" stroke-width="0.3" text-anchor="start" fill="#000">Annexin-V</text>
<line x1="104.00" y1="160.30" x2="229.00" y2="160.30" stroke="#333" stroke-width="1.1"/>
<path d="M227.8 157.8 L233.6 160.3 L227.8 162.8 Z" fill="#111" stroke="none" stroke-width="1"/>
<text x="260.60" y="10.65" font-size="13.8" font-weight="bold" stroke="#000" stroke-width="0.3" text-anchor="start" fill="#000">B</text>
<text x="304.20" y="123.88" font-size="7.8" text-anchor="end" fill="#2a2a2a">0</text>
<text x="304.20" y="107.83" font-size="7.8" text-anchor="end" fill="#2a2a2a">20</text>
<text x="304.20" y="91.78" font-size="7.8" text-anchor="end" fill="#2a2a2a">40</text>
<text x="304.20" y="75.73" font-size="7.8" text-anchor="end" fill="#2a2a2a">60</text>
<text x="304.20" y="59.68" font-size="7.8" text-anchor="end" fill="#2a2a2a">80</text>
<text x="304.20" y="43.63" font-size="7.8" text-anchor="end" fill="#2a2a2a">100</text>
<text x="304.20" y="27.58" font-size="7.8" text-anchor="end" fill="#2a2a2a">120</text>
<line x1="306.50" y1="122.50" x2="496.00" y2="122.50" stroke="#c0c0c0" stroke-width="1"/>
<line x1="309.50" y1="22.00" x2="309.50" y2="122.50" stroke="#ececec" stroke-width="1"/>
<text x="0" y="0" font-size="9.5" font-weight="bold" stroke="#000" stroke-width="0.3" text-anchor="middle" fill="#000" transform="translate(275.40,72.20) rotate(-90)">Apoptotic cells</text>
<text x="0" y="0" font-size="9.4" font-weight="bold" stroke="#000" stroke-width="0.3" text-anchor="middle" fill="#000" transform="translate(287.20,72.80) rotate(-90)">(% of Mel control)</text>
<rect x="330.80" y="4.40" width="110.80" height="13.40" fill="white" stroke="#dedede" stroke-width="0.9"/>
<rect x="333.80" y="8.95" width="3.90" height="3.90" fill="#fff" stroke="#333" stroke-width="0.8"/>
<text x="339.80" y="13.82" font-size="8.5" text-anchor="start" fill="#1a1a1a">Mel</text>
<rect x="356.20" y="8.95" width="3.90" height="3.90" fill="#555" stroke="#333" stroke-width="0.8"/>
<text x="362.60" y="13.82" font-size="8.5" text-anchor="start" fill="#1a1a1a">Mel+nM&#248;</text>
<rect x="401.20" y="8.95" width="3.90" height="3.90" fill="url(#hatB)" stroke="#333" stroke-width="0.8"/>
<text x="407.60" y="13.82" font-size="8.5" text-anchor="start" fill="#1a1a1a">Mel+tM&#248;</text>
<rect x="317.30" y="40.50" width="10.30" height="82.00" fill="#fff" stroke="#444" stroke-width="0.9"/>
<line x1="332.75" y1="77.40" x2="332.75" y2="81.50" stroke="#333" stroke-width="1"/>
<line x1="330.35" y1="77.40" x2="335.15" y2="77.40" stroke="#333" stroke-width="1"/>
<rect x="327.60" y="81.50" width="10.30" height="41.00" fill="#5a5a5a" stroke="#444" stroke-width="0.9"/>
<line x1="343.05" y1="102.82" x2="343.05" y2="106.10" stroke="#333" stroke-width="1"/>
<line x1="340.65" y1="102.82" x2="345.45" y2="102.82" stroke="#333" stroke-width="1"/>
<rect x="337.90" y="106.10" width="10.30" height="16.40" fill="url(#hatB)" stroke="#444" stroke-width="0.9"/>
<rect x="363.50" y="40.50" width="10.30" height="82.00" fill="#fff" stroke="#444" stroke-width="0.9"/>
<line x1="378.95" y1="72.48" x2="378.95" y2="78.22" stroke="#333" stroke-width="1"/>
<line x1="376.55" y1="72.48" x2="381.35" y2="72.48" stroke="#333" stroke-width="1"/>
<rect x="373.80" y="78.22" width="10.30" height="44.28" fill="#5a5a5a" stroke="#444" stroke-width="0.9"/>
<line x1="389.25" y1="107.74" x2="389.25" y2="110.20" stroke="#333" stroke-width="1"/>
<line x1="386.85" y1="107.74" x2="391.65" y2="107.74" stroke="#333" stroke-width="1"/>
<rect x="384.10" y="110.20" width="10.30" height="12.30" fill="url(#hatB)" stroke="#444" stroke-width="0.9"/>
<rect x="409.40" y="40.50" width="10.30" height="82.00" fill="#fff" stroke="#444" stroke-width="0.9"/>
<line x1="424.85" y1="86.42" x2="424.85" y2="89.70" stroke="#333" stroke-width="1"/>
<line x1="422.45" y1="86.42" x2="427.25" y2="86.42" stroke="#333" stroke-width="1"/>
<rect x="419.70" y="89.70" width="10.30" height="32.80" fill="#5a5a5a" stroke="#444" stroke-width="0.9"/>
<line x1="435.15" y1="103.64" x2="435.15" y2="106.10" stroke="#333" stroke-width="1"/>
<line x1="432.75" y1="103.64" x2="437.55" y2="103.64" stroke="#333" stroke-width="1"/>
<rect x="430.00" y="106.10" width="10.30" height="16.40" fill="url(#hatB)" stroke="#444" stroke-width="0.9"/>
<rect x="456.30" y="40.50" width="10.30" height="82.00" fill="#fff" stroke="#444" stroke-width="0.9"/>
<line x1="471.75" y1="68.38" x2="471.75" y2="73.30" stroke="#333" stroke-width="1"/>
<line x1="469.35" y1="68.38" x2="474.15" y2="68.38" stroke="#333" stroke-width="1"/>
<rect x="466.60" y="73.30" width="10.30" height="49.20" fill="#5a5a5a" stroke="#444" stroke-width="0.9"/>
<line x1="482.05" y1="93.80" x2="482.05" y2="97.90" stroke="#333" stroke-width="1"/>
<line x1="479.65" y1="93.80" x2="484.45" y2="93.80" stroke="#333" stroke-width="1"/>
<rect x="476.90" y="97.90" width="10.30" height="24.60" fill="url(#hatB)" stroke="#444" stroke-width="0.9"/>
<path d="M320.10 34.80 L320.10 31.20 Q320.10 29.70 321.60 29.70 L334.00 29.70 Q335.50 29.70 335.50 31.20 L335.50 34.80" fill="none" stroke="#444" stroke-width="1.1"/>
<text x="329.35" y="31.84" font-size="11.6" text-anchor="middle" letter-spacing="0.9" fill="#333" stroke="#333" stroke-width="0.25">**</text>
<path d="M331.70 56.50 L331.70 53.00 Q331.70 51.50 333.20 51.50 L345.60 51.50 Q347.10 51.50 347.10 53.00 L347.10 56.50" fill="none" stroke="#444" stroke-width="1.1"/>
<text x="339.75" y="54.24" font-size="11.6" text-anchor="middle" letter-spacing="0.9" fill="#333" stroke="#333" stroke-width="0.25">**</text>
<path d="M366.30 34.80 L366.30 31.20 Q366.30 29.70 367.80 29.70 L380.20 29.70 Q381.70 29.70 381.70 31.20 L381.70 34.80" fill="none" stroke="#444" stroke-width="1.1"/>
<text x="375.55" y="31.84" font-size="11.6" text-anchor="middle" letter-spacing="0.9" fill="#333" stroke="#333" stroke-width="0.25">**</text>
<path d="M377.90 56.50 L377.90 53.00 Q377.90 51.50 379.40 51.50 L391.80 51.50 Q393.30 51.50 393.30 53.00 L393.30 56.50" fill="none" stroke="#444" stroke-width="1.1"/>
<text x="385.95" y="54.24" font-size="11.6" text-anchor="middle" letter-spacing="0.9" fill="#333" stroke="#333" stroke-width="0.25">**</text>
<path d="M412.20 34.80 L412.20 31.20 Q412.20 29.70 413.70 29.70 L426.10 29.70 Q427.60 29.70 427.60 31.20 L427.60 34.80" fill="none" stroke="#444" stroke-width="1.1"/>
<text x="421.45" y="31.84" font-size="11.6" text-anchor="middle" letter-spacing="0.9" fill="#333" stroke="#333" stroke-width="0.25">**</text>
<path d="M423.80 56.50 L423.80 53.00 Q423.80 51.50 425.30 51.50 L437.70 51.50 Q439.20 51.50 439.20 53.00 L439.20 56.50" fill="none" stroke="#444" stroke-width="1.1"/>
<text x="431.85" y="54.24" font-size="11.6" text-anchor="middle" letter-spacing="0.9" fill="#333" stroke="#333" stroke-width="0.25">*</text>
<path d="M459.10 34.80 L459.10 31.20 Q459.10 29.70 460.60 29.70 L473.00 29.70 Q474.50 29.70 474.50 31.20 L474.50 34.80" fill="none" stroke="#444" stroke-width="1.1"/>
<text x="468.35" y="31.84" font-size="11.6" text-anchor="middle" letter-spacing="0.9" fill="#333" stroke="#333" stroke-width="0.25">*</text>
<path d="M470.70 56.50 L470.70 53.00 Q470.70 51.50 472.20 51.50 L484.60 51.50 Q486.10 51.50 486.10 53.00 L486.10 56.50" fill="none" stroke="#444" stroke-width="1.1"/>
<text x="478.75" y="54.24" font-size="11.6" text-anchor="middle" letter-spacing="0.9" fill="#333" stroke="#333" stroke-width="0.25">**</text>
<text x="333.90" y="135.88" font-size="7.2" font-weight="bold" stroke="#000" stroke-width="0.3" text-anchor="middle" fill="#000">ARP-1</text>
<text x="380.30" y="135.88" font-size="7.2" font-weight="bold" stroke="#000" stroke-width="0.3" text-anchor="middle" fill="#000">MM.1S</text>
<text x="426.00" y="135.88" font-size="7.2" font-weight="bold" stroke="#000" stroke-width="0.3" text-anchor="middle" fill="#000">RPMI-8226</text>
<text x="472.60" y="135.88" font-size="7.2" font-weight="bold" stroke="#000" stroke-width="0.3" text-anchor="middle" fill="#000">U266</text>
<text x="0.60" y="192.15" font-size="13.8" font-weight="bold" stroke="#000" stroke-width="0.3" text-anchor="start" fill="#000">C</text>
<rect x="50.70" y="184.00" width="195.30" height="37.60" fill="white" stroke="#dedede" stroke-width="0.9"/>
<rect x="54.10" y="187.75" width="3.90" height="3.90" fill="#fff" stroke="#333" stroke-width="0.8"/>
<text x="61.10" y="192.49" font-size="8.1" text-anchor="start" fill="#1a1a1a">MM alone</text>
<rect x="54.10" y="200.65" width="3.90" height="3.90" fill="url(#dotC)" stroke="#333" stroke-width="0.8"/>
<text x="61.10" y="205.39" font-size="8.1" text-anchor="start" fill="#1a1a1a">MM+tM&#248;+Mel</text>
<rect x="54.10" y="213.45" width="3.90" height="3.90" fill="#bdbdbd" stroke="#333" stroke-width="0.8"/>
<text x="61.10" y="218.19" font-size="8.1" text-anchor="start" fill="#1a1a1a">MM+tM&#248;(transwell)+Mel</text>
<rect x="151.20" y="187.75" width="3.90" height="3.90" fill="#555" stroke="#333" stroke-width="0.8"/>
<text x="158.20" y="192.49" font-size="8.1" text-anchor="start" fill="#1a1a1a">MM+Mel</text>
<rect x="151.20" y="200.65" width="3.90" height="3.90" fill="url(#crossC)" stroke="#333" stroke-width="0.8"/>
<text x="158.20" y="205.39" font-size="8.1" text-anchor="start" fill="#1a1a1a">MM+tM&#248;</text>
<rect x="151.20" y="213.45" width="3.90" height="3.90" fill="url(#strC)" stroke="#333" stroke-width="0.8"/>
<text x="158.20" y="218.19" font-size="8.1" text-anchor="start" fill="#1a1a1a">MM+tM&#248;(transwell)</text>
<text x="51.40" y="302.79" font-size="8.1" text-anchor="end" fill="#2a2a2a">0</text>
<text x="51.40" y="288.69" font-size="8.1" text-anchor="end" fill="#2a2a2a">20</text>
<text x="51.40" y="274.59" font-size="8.1" text-anchor="end" fill="#2a2a2a">40</text>
<text x="51.40" y="260.49" font-size="8.1" text-anchor="end" fill="#2a2a2a">60</text>
<text x="51.40" y="246.39" font-size="8.1" text-anchor="end" fill="#2a2a2a">80</text>
<text x="51.40" y="232.29" font-size="8.1" text-anchor="end" fill="#2a2a2a">100</text>
<line x1="56.00" y1="300.00" x2="237.50" y2="300.00" stroke="#c0c0c0" stroke-width="1"/>
<line x1="56.30" y1="225.00" x2="56.30" y2="300.00" stroke="#e2e2e2" stroke-width="1"/>
<text x="0" y="0" font-size="10.0" font-weight="bold" stroke="#000" stroke-width="0.3" text-anchor="middle" fill="#000" transform="translate(32.60,265.60) rotate(-90)">% Apoptotic cells</text>
<line x1="64.12" y1="283.79" x2="64.12" y2="285.19" stroke="#333" stroke-width="1"/>
<line x1="61.92" y1="283.79" x2="66.33" y2="283.79" stroke="#333" stroke-width="1"/>
<rect x="61.00" y="285.19" width="6.25" height="14.81" fill="#fff" stroke="#444" stroke-width="0.8"/>
<line x1="70.38" y1="249.94" x2="70.38" y2="254.18" stroke="#333" stroke-width="1"/>
<line x1="68.17" y1="249.94" x2="72.58" y2="249.94" stroke="#333" stroke-width="1"/>
<rect x="67.25" y="254.18" width="6.25" height="45.82" fill="#5a5a5a" stroke="#444" stroke-width="0.8"/>
<line x1="76.62" y1="282.38" x2="76.62" y2="283.79" stroke="#333" stroke-width="1"/>
<line x1="74.42" y1="282.38" x2="78.83" y2="282.38" stroke="#333" stroke-width="1"/>
<rect x="73.50" y="283.79" width="6.25" height="16.21" fill="url(#dotC)" stroke="#444" stroke-width="0.8"/>
<line x1="82.88" y1="287.31" x2="82.88" y2="288.01" stroke="#333" stroke-width="1"/>
<line x1="80.67" y1="287.31" x2="85.08" y2="287.31" stroke="#333" stroke-width="1"/>
<rect x="79.75" y="288.01" width="6.25" height="11.99" fill="url(#crossC)" stroke="#444" stroke-width="0.8"/>
<line x1="89.12" y1="258.40" x2="89.12" y2="261.93" stroke="#333" stroke-width="1"/>
<line x1="86.92" y1="258.40" x2="91.33" y2="258.40" stroke="#333" stroke-width="1"/>
<rect x="86.00" y="261.93" width="6.25" height="38.07" fill="#bdbdbd" stroke="#444" stroke-width="0.8"/>
<line x1="95.38" y1="282.38" x2="95.38" y2="283.79" stroke="#333" stroke-width="1"/>
<line x1="93.17" y1="282.38" x2="97.58" y2="282.38" stroke="#333" stroke-width="1"/>
<rect x="92.25" y="283.79" width="6.25" height="16.21" fill="url(#strC)" stroke="#444" stroke-width="0.8"/>
<path d="M68.00 235.00 L68.00 231.10 Q68.00 229.60 69.50 229.60 L81.00 229.60 Q82.50 229.60 82.50 231.10 L82.50 235.00" fill="none" stroke="#444" stroke-width="1.1"/>
<text x="75.95" y="231.94" font-size="11.6" text-anchor="middle" letter-spacing="0.9" fill="#333" stroke="#333" stroke-width="0.25">**</text>
<line x1="110.62" y1="292.25" x2="110.62" y2="292.95" stroke="#333" stroke-width="1"/>
<line x1="108.42" y1="292.25" x2="112.83" y2="292.25" stroke="#333" stroke-width="1"/>
<rect x="107.50" y="292.95" width="6.25" height="7.05" fill="#fff" stroke="#444" stroke-width="0.8"/>
<line x1="116.88" y1="238.67" x2="116.88" y2="242.90" stroke="#333" stroke-width="1"/>
<line x1="114.67" y1="238.67" x2="119.08" y2="238.67" stroke="#333" stroke-width="1"/>
<rect x="113.75" y="242.90" width="6.25" height="57.10" fill="#5a5a5a" stroke="#444" stroke-width="0.8"/>
<line x1="123.12" y1="279.56" x2="123.12" y2="280.96" stroke="#333" stroke-width="1"/>
<line x1="120.92" y1="279.56" x2="125.33" y2="279.56" stroke="#333" stroke-width="1"/>
<rect x="120.00" y="280.96" width="6.25" height="19.04" fill="url(#dotC)" stroke="#444" stroke-width="0.8"/>
<line x1="129.38" y1="288.01" x2="129.38" y2="288.72" stroke="#333" stroke-width="1"/>
<line x1="127.17" y1="288.01" x2="131.57" y2="288.01" stroke="#333" stroke-width="1"/>
<rect x="126.25" y="288.72" width="6.25" height="11.28" fill="url(#crossC)" stroke="#444" stroke-width="0.8"/>
<line x1="135.62" y1="249.94" x2="135.62" y2="253.47" stroke="#333" stroke-width="1"/>
<line x1="133.43" y1="249.94" x2="137.82" y2="249.94" stroke="#333" stroke-width="1"/>
<rect x="132.50" y="253.47" width="6.25" height="46.53" fill="#bdbdbd" stroke="#444" stroke-width="0.8"/>
<line x1="141.88" y1="288.01" x2="141.88" y2="288.72" stroke="#333" stroke-width="1"/>
<line x1="139.68" y1="288.01" x2="144.07" y2="288.01" stroke="#333" stroke-width="1"/>
<rect x="138.75" y="288.72" width="6.25" height="11.28" fill="url(#strC)" stroke="#444" stroke-width="0.8"/>
<path d="M114.50 235.00 L114.50 231.10 Q114.50 229.60 116.00 229.60 L127.50 229.60 Q129.00 229.60 129.00 231.10 L129.00 235.00" fill="none" stroke="#444" stroke-width="1.1"/>
<text x="122.45" y="231.94" font-size="11.6" text-anchor="middle" letter-spacing="0.9" fill="#333" stroke="#333" stroke-width="0.25">**</text>
<line x1="157.62" y1="290.83" x2="157.62" y2="291.54" stroke="#333" stroke-width="1"/>
<line x1="155.43" y1="290.83" x2="159.82" y2="290.83" stroke="#333" stroke-width="1"/>
<rect x="154.50" y="291.54" width="6.25" height="8.46" fill="#fff" stroke="#444" stroke-width="0.8"/>
<line x1="163.88" y1="237.25" x2="163.88" y2="242.19" stroke="#333" stroke-width="1"/>
<line x1="161.68" y1="237.25" x2="166.07" y2="237.25" stroke="#333" stroke-width="1"/>
<rect x="160.75" y="242.19" width="6.25" height="57.81" fill="#5a5a5a" stroke="#444" stroke-width="0.8"/>
<line x1="170.12" y1="283.08" x2="170.12" y2="285.19" stroke="#333" stroke-width="1"/>
<line x1="167.93" y1="283.08" x2="172.32" y2="283.08" stroke="#333" stroke-width="1"/>
<rect x="167.00" y="285.19" width="6.25" height="14.81" fill="url(#dotC)" stroke="#444" stroke-width="0.8"/>
<line x1="176.38" y1="288.01" x2="176.38" y2="288.72" stroke="#333" stroke-width="1"/>
<line x1="174.18" y1="288.01" x2="178.57" y2="288.01" stroke="#333" stroke-width="1"/>
<rect x="173.25" y="288.72" width="6.25" height="11.28" fill="url(#crossC)" stroke="#444" stroke-width="0.8"/>
<line x1="182.62" y1="247.83" x2="182.62" y2="252.06" stroke="#333" stroke-width="1"/>
<line x1="180.43" y1="247.83" x2="184.82" y2="247.83" stroke="#333" stroke-width="1"/>
<rect x="179.50" y="252.06" width="6.25" height="47.94" fill="#bdbdbd" stroke="#444" stroke-width="0.8"/>
<line x1="188.88" y1="288.01" x2="188.88" y2="288.72" stroke="#333" stroke-width="1"/>
<line x1="186.68" y1="288.01" x2="191.07" y2="288.01" stroke="#333" stroke-width="1"/>
<rect x="185.75" y="288.72" width="6.25" height="11.28" fill="url(#strC)" stroke="#444" stroke-width="0.8"/>
<path d="M161.50 235.00 L161.50 231.10 Q161.50 229.60 163.00 229.60 L174.50 229.60 Q176.00 229.60 176.00 231.10 L176.00 235.00" fill="none" stroke="#444" stroke-width="1.1"/>
<text x="169.45" y="231.94" font-size="11.6" text-anchor="middle" letter-spacing="0.9" fill="#333" stroke="#333" stroke-width="0.25">**</text>
<line x1="202.72" y1="288.72" x2="202.72" y2="289.43" stroke="#333" stroke-width="1"/>
<line x1="200.53" y1="288.72" x2="204.92" y2="288.72" stroke="#333" stroke-width="1"/>
<rect x="199.60" y="289.43" width="6.25" height="10.57" fill="#fff" stroke="#444" stroke-width="0.8"/>
<line x1="208.97" y1="247.12" x2="208.97" y2="251.36" stroke="#333" stroke-width="1"/>
<line x1="206.78" y1="247.12" x2="211.17" y2="247.12" stroke="#333" stroke-width="1"/>
<rect x="205.85" y="251.36" width="6.25" height="48.64" fill="#5a5a5a" stroke="#444" stroke-width="0.8"/>
<line x1="215.22" y1="277.44" x2="215.22" y2="278.85" stroke="#333" stroke-width="1"/>
<line x1="213.03" y1="277.44" x2="217.42" y2="277.44" stroke="#333" stroke-width="1"/>
<rect x="212.10" y="278.85" width="6.25" height="21.15" fill="url(#dotC)" stroke="#444" stroke-width="0.8"/>
<line x1="221.47" y1="290.13" x2="221.47" y2="290.83" stroke="#333" stroke-width="1"/>
<line x1="219.28" y1="290.13" x2="223.67" y2="290.13" stroke="#333" stroke-width="1"/>
<rect x="218.35" y="290.83" width="6.25" height="9.17" fill="url(#crossC)" stroke="#444" stroke-width="0.8"/>
<line x1="227.72" y1="255.59" x2="227.72" y2="258.40" stroke="#333" stroke-width="1"/>
<line x1="225.53" y1="255.59" x2="229.92" y2="255.59" stroke="#333" stroke-width="1"/>
<rect x="224.60" y="258.40" width="6.25" height="41.60" fill="#bdbdbd" stroke="#444" stroke-width="0.8"/>
<line x1="233.97" y1="280.26" x2="233.97" y2="281.67" stroke="#333" stroke-width="1"/>
<line x1="231.78" y1="280.26" x2="236.17" y2="280.26" stroke="#333" stroke-width="1"/>
<rect x="230.85" y="281.67" width="6.25" height="18.33" fill="url(#strC)" stroke="#444" stroke-width="0.8"/>
<path d="M206.60 235.00 L206.60 231.10 Q206.60 229.60 208.10 229.60 L219.60 229.60 Q221.10 229.60 221.10 231.10 L221.10 235.00" fill="none" stroke="#444" stroke-width="1.1"/>
<text x="214.55" y="231.94" font-size="11.6" text-anchor="middle" letter-spacing="0.9" fill="#333" stroke="#333" stroke-width="0.25">**</text>
<text x="80.00" y="314.58" font-size="7.8" font-weight="bold" stroke="#000" stroke-width="0.3" text-anchor="middle" fill="#000">ARP-1</text>
<text x="126.60" y="314.58" font-size="7.8" font-weight="bold" stroke="#000" stroke-width="0.3" text-anchor="middle" fill="#000">MM.1S</text>
<text x="173.50" y="314.58" font-size="7.8" font-weight="bold" stroke="#000" stroke-width="0.3" text-anchor="middle" fill="#000">RPMI-8226</text>
<text x="219.30" y="314.58" font-size="7.8" font-weight="bold" stroke="#000" stroke-width="0.3" text-anchor="middle" fill="#000">U266</text>
<text x="260.60" y="193.15" font-size="13.8" font-weight="bold" stroke="#000" stroke-width="0.3" text-anchor="start" fill="#000">D</text>
<rect x="355.40" y="177.40" width="90.80" height="13.80" fill="white" stroke="#dedede" stroke-width="0.9"/>
<rect x="358.70" y="182.55" width="3.90" height="3.90" fill="#555" stroke="#333" stroke-width="0.8"/>
<text x="365.30" y="187.29" font-size="8.1" text-anchor="start" fill="#1a1a1a">MM alone</text>
<rect x="405.20" y="182.55" width="3.90" height="3.90" fill="#fff" stroke="#333" stroke-width="0.8"/>
<text x="411.10" y="187.29" font-size="8.1" text-anchor="start" fill="#1a1a1a">MM+tM&#248;</text>
<text x="304.00" y="302.60" font-size="7.2" text-anchor="end" fill="#2a2a2a">0</text>
<text x="304.00" y="285.93" font-size="7.2" text-anchor="end" fill="#2a2a2a">20</text>
<text x="304.00" y="269.26" font-size="7.2" text-anchor="end" fill="#2a2a2a">40</text>
<text x="304.00" y="252.59" font-size="7.2" text-anchor="end" fill="#2a2a2a">60</text>
<text x="304.00" y="235.92" font-size="7.2" text-anchor="end" fill="#2a2a2a">80</text>
<text x="304.00" y="219.25" font-size="7.2" text-anchor="end" fill="#2a2a2a">100</text>
<text x="304.00" y="202.58" font-size="7.2" text-anchor="end" fill="#2a2a2a">120</text>
<line x1="306.00" y1="301.50" x2="520.00" y2="301.50" stroke="#c0c0c0" stroke-width="1"/>
<line x1="308.00" y1="199.00" x2="308.00" y2="301.50" stroke="#ececec" stroke-width="1"/>
<text x="0" y="0" font-size="9.0" font-weight="bold" stroke="#000" stroke-width="0.3" text-anchor="middle" fill="#000" transform="translate(269.00,250.70) rotate(-90)">Apoptotic cells</text>
<text x="0" y="0" font-size="9.0" font-weight="bold" stroke="#000" stroke-width="0.3" text-anchor="middle" fill="#000" transform="translate(279.50,251.20) rotate(-90)">(% of Mel control)</text>
<rect x="316.20" y="217.00" width="12.40" height="84.50" fill="#5a5a5a" stroke="#444" stroke-width="0.9"/>
<line x1="334.80" y1="255.87" x2="334.80" y2="260.10" stroke="#333" stroke-width="1"/>
<line x1="332.40" y1="255.87" x2="337.20" y2="255.87" stroke="#333" stroke-width="1"/>
<rect x="328.60" y="260.10" width="12.40" height="41.40" fill="#fff" stroke="#444" stroke-width="0.9"/>
<rect x="358.20" y="289.67" width="12.40" height="11.83" fill="#5a5a5a" stroke="#444" stroke-width="0.9"/>
<line x1="376.80" y1="288.82" x2="376.80" y2="289.67" stroke="#333" stroke-width="1"/>
<line x1="374.40" y1="288.82" x2="379.20" y2="288.82" stroke="#333" stroke-width="1"/>
<rect x="370.60" y="289.67" width="12.40" height="11.83" fill="#fff" stroke="#444" stroke-width="0.9"/>
<line x1="407.40" y1="210.24" x2="407.40" y2="215.31" stroke="#333" stroke-width="1"/>
<line x1="405.00" y1="210.24" x2="409.80" y2="210.24" stroke="#333" stroke-width="1"/>
<rect x="401.20" y="215.31" width="12.40" height="86.19" fill="#5a5a5a" stroke="#444" stroke-width="0.9"/>
<line x1="419.80" y1="254.18" x2="419.80" y2="259.25" stroke="#333" stroke-width="1"/>
<line x1="417.40" y1="254.18" x2="422.20" y2="254.18" stroke="#333" stroke-width="1"/>
<rect x="413.60" y="259.25" width="12.40" height="42.25" fill="#fff" stroke="#444" stroke-width="0.9"/>
<line x1="449.30" y1="275.31" x2="449.30" y2="287.13" stroke="#333" stroke-width="1"/>
<line x1="446.90" y1="275.31" x2="451.70" y2="275.31" stroke="#333" stroke-width="1"/>
<rect x="443.10" y="287.13" width="12.40" height="14.37" fill="#5a5a5a" stroke="#444" stroke-width="0.9"/>
<line x1="461.70" y1="289.67" x2="461.70" y2="290.51" stroke="#333" stroke-width="1"/>
<line x1="459.30" y1="289.67" x2="464.10" y2="289.67" stroke="#333" stroke-width="1"/>
<rect x="455.50" y="290.51" width="12.40" height="10.99" fill="#fff" stroke="#444" stroke-width="0.9"/>
<line x1="491.90" y1="206.86" x2="491.90" y2="209.39" stroke="#333" stroke-width="1"/>
<line x1="489.50" y1="206.86" x2="494.30" y2="206.86" stroke="#333" stroke-width="1"/>
<rect x="485.70" y="209.39" width="12.40" height="92.11" fill="#5a5a5a" stroke="#444" stroke-width="0.9"/>
<line x1="504.30" y1="209.39" x2="504.30" y2="217.00" stroke="#333" stroke-width="1"/>
<line x1="501.90" y1="209.39" x2="506.70" y2="209.39" stroke="#333" stroke-width="1"/>
<rect x="498.10" y="217.00" width="12.40" height="84.50" fill="#fff" stroke="#444" stroke-width="0.9"/>
<path d="M333 205.5 L333 200.8 L501.3 200.8 L501.3 205.5" fill="none" stroke="#555" stroke-width="1.6"/>
<text x="420.65" y="203.94" font-size="11.6" text-anchor="middle" letter-spacing="0.9" fill="#333" stroke="#333" stroke-width="0.25">**</text>
<text x="329.10" y="315.15" font-size="7.4" font-weight="bold" stroke="#000" stroke-width="0.3" text-anchor="middle" fill="#000">Mel</text>
<text x="372.60" y="315.15" font-size="7.4" font-weight="bold" stroke="#000" stroke-width="0.3" text-anchor="middle" fill="#000">mIgG</text>
<text x="414.40" y="315.15" font-size="7.4" font-weight="bold" stroke="#000" stroke-width="0.3" text-anchor="middle" fill="#000">Mel+mIgG</text>
<text x="456.10" y="315.15" font-size="7.4" font-weight="bold" stroke="#000" stroke-width="0.3" text-anchor="middle" fill="#000">&#945;ICAM</text>
<text x="499.00" y="315.15" font-size="7.4" font-weight="bold" stroke="#000" stroke-width="0.3" text-anchor="middle" fill="#000">Mel+&#945;ICAM</text>
<text x="0.60" y="339.45" font-size="13.8" font-weight="bold" stroke="#000" stroke-width="0.3" text-anchor="start" fill="#000">E</text>
<text x="88.20" y="336.82" font-size="8.2" font-weight="bold" stroke="#1a1a1a" stroke-width="0.3" text-anchor="middle" fill="#1a1a1a">24h</text>
<text x="163.50" y="336.82" font-size="8.2" font-weight="bold" stroke="#1a1a1a" stroke-width="0.3" text-anchor="middle" fill="#1a1a1a">48h</text>
<text x="47.30" y="371.82" font-size="8.2" font-weight="bold" stroke="#1a1a1a" stroke-width="0.3" text-anchor="end" fill="#1a1a1a">Primary MM</text>
<text x="47.30" y="432.12" font-size="8.2" font-weight="bold" stroke="#1a1a1a" stroke-width="0.3" text-anchor="end" fill="#1a1a1a">Primary MM</text>
<text x="42.90" y="442.52" font-size="8.2" font-weight="bold" stroke="#000" stroke-width="0.3" text-anchor="end" fill="#000">+ tM</text>
<ellipse cx="45.10" cy="440.39" rx="1.45" ry="1.80" fill="none" stroke="#000" stroke-width="0.85"/>
<line x1="45.10" y1="436.94" x2="45.10" y2="444.32" stroke="#000" stroke-width="0.9"/>
<path d="M52.1 397.8L52.1 363.8L52.6 363.8L53.1 389.9L53.6 392.7L54.1 391.6L54.6 391.8L55.1 390.7L55.6 392.7L56.1 392.2L56.6 393.1L57.1 393.9L57.6 394.1L58.1 393.9L58.6 391.9L59.1 393.0L59.6 393.5L60.1 393.4L60.6 394.0L61.1 393.6L61.6 393.7L62.1 393.1L62.6 393.0L63.1 395.3L63.6 393.7L64.1 392.8L64.6 395.0L65.1 394.4L65.6 394.1L66.1 393.4L66.6 393.8L67.1 394.5L67.6 393.9L68.1 393.4L68.6 394.0L69.1 392.7L69.6 393.9L70.1 395.2L70.6 395.0L71.1 394.4L71.6 394.5L72.1 393.8L72.6 394.0L73.1 392.8L73.6 393.6L74.1 393.0L74.6 394.9L75.1 394.7L75.6 393.7L76.1 394.2L76.6 393.8L77.1 394.1L77.6 394.8L78.1 392.8L78.6 393.3L79.1 395.6L79.6 394.8L80.1 394.3L80.6 393.7L81.1 394.3L81.6 395.4L82.1 393.6L82.6 394.5L83.1 393.3L83.6 394.0L84.1 393.4L84.6 393.6L85.1 393.5L85.6 394.7L86.1 393.4L86.6 394.1L87.1 395.3L87.6 394.6L88.1 394.6L88.6 393.9L89.1 393.7L89.6 395.2L90.1 393.7L90.6 394.3L91.1 395.2L91.6 393.6L92.1 394.9L92.6 395.3L93.1 393.6L93.6 393.5L94.1 394.8L94.6 393.4L95.1 393.4L95.6 394.7L96.1 392.5L96.6 394.3L97.1 394.0L97.6 396.2L98.1 393.6L98.6 394.6L99.1 393.6L99.6 395.4L100.1 392.7L100.6 392.3L101.1 391.7L101.6 396.0L102.1 392.3L102.6 392.2L103.1 395.2L103.6 392.4L104.1 391.0L104.6 388.5L105.1 390.3L105.6 388.0L106.1 387.2L106.6 385.5L107.1 385.4L107.6 382.4L108.1 381.3L108.6 384.3L109.1 379.8L109.6 382.8L110.1 382.3L110.6 380.7L111.1 383.4L111.6 384.0L112.1 385.3L112.6 387.2L113.1 390.2L113.6 392.0L114.1 391.4L114.6 392.3L115.1 393.5L115.6 394.6L116.1 394.3L116.6 395.3L117.1 396.6L117.6 395.6L118.1 395.7L118.6 395.7L119.1 396.9L119.6 397.0L120.1 396.5L120.6 397.1L121.1 397.0L121.1 397.8Z" fill="#333" stroke="none" stroke-width="1"/>
<rect x="51.50" y="338.80" width="70.70" height="59.50" fill="none" stroke="#777" stroke-width="1.1"/>
<line x1="90.20" y1="367.30" x2="121.40" y2="367.30" stroke="#555" stroke-width="1"/>
<line x1="90.20" y1="363.30" x2="90.20" y2="371.30" stroke="#555" stroke-width="1"/>
<line x1="121.40" y1="363.30" x2="121.40" y2="371.30" stroke="#555" stroke-width="1"/>
<text x="106.90" y="364.32" font-size="8.2" font-weight="bold" stroke="#000" stroke-width="0.3" text-anchor="middle" fill="#000">54%</text>
<path d="M126.9 397.8L126.9 395.6L127.4 396.0L127.9 395.1L128.4 396.0L128.9 395.1L129.4 395.5L129.9 394.6L130.4 396.2L130.9 396.2L131.4 395.3L131.9 396.5L132.4 396.4L132.9 396.0L133.4 395.9L133.9 397.0L134.4 395.9L134.9 396.3L135.4 396.0L135.9 395.9L136.4 396.1L136.9 395.2L137.4 395.6L137.9 396.0L138.4 395.8L138.9 395.1L139.4 395.3L139.9 394.9L140.4 395.8L140.9 395.6L141.4 394.2L141.9 395.6L142.4 394.3L142.9 394.9L143.4 395.7L143.9 396.4L144.4 394.9L144.9 395.8L145.4 395.7L145.9 396.4L146.4 394.2L146.9 394.9L147.4 394.9L147.9 394.6L148.4 394.6L148.9 394.7L149.4 394.3L149.9 394.8L150.4 396.6L150.9 393.8L151.4 394.0L151.9 394.2L152.4 392.8L152.9 395.3L153.4 396.5L153.9 392.6L154.4 393.4L154.9 395.1L155.4 393.9L155.9 392.9L156.4 394.5L156.9 392.7L157.4 391.2L157.9 391.7L158.4 393.0L158.9 392.5L159.4 393.6L159.9 392.5L160.4 392.8L160.9 393.3L161.4 393.5L161.9 390.0L162.4 391.7L162.9 392.6L163.4 391.7L163.9 389.2L164.4 388.6L164.9 390.7L165.4 389.1L165.9 387.6L166.4 388.4L166.9 388.7L167.4 387.5L167.9 385.1L168.4 385.2L168.9 384.9L169.4 382.2L169.9 379.1L170.4 378.5L170.9 379.1L171.4 374.4L171.9 378.6L172.4 376.7L172.9 378.7L173.4 374.4L173.9 376.1L174.4 379.2L174.9 378.0L175.4 374.0L175.9 377.0L176.4 379.5L176.9 379.7L177.4 385.3L177.9 385.7L178.4 388.0L178.9 388.8L179.4 389.6L179.9 389.9L180.4 390.6L180.9 391.7L181.4 391.0L181.9 394.6L182.4 394.7L182.9 394.7L183.4 396.0L183.9 395.9L184.4 395.6L184.9 396.6L185.4 395.8L185.9 395.3L186.4 396.9L186.9 397.6L187.4 396.2L187.9 396.9L188.4 396.1L188.9 396.5L189.4 396.0L189.9 395.5L190.4 395.7L190.9 396.5L191.4 397.0L191.9 397.8L192.4 397.6L192.9 396.7L193.4 396.2L193.9 396.7L194.4 396.6L194.9 397.3L195.4 397.3L195.9 397.3L196.4 395.9L196.9 397.5L197.4 395.8L197.9 396.8L197.9 397.8Z" fill="#333" stroke="none" stroke-width="1"/>
<rect x="126.30" y="338.80" width="72.20" height="59.50" fill="none" stroke="#777" stroke-width="1.1"/>
<line x1="165.50" y1="367.30" x2="196.90" y2="367.30" stroke="#555" stroke-width="1"/>
<line x1="165.50" y1="363.30" x2="165.50" y2="371.30" stroke="#555" stroke-width="1"/>
<line x1="196.90" y1="363.30" x2="196.90" y2="371.30" stroke="#555" stroke-width="1"/>
<text x="181.00" y="364.72" font-size="8.2" font-weight="bold" stroke="#000" stroke-width="0.3" text-anchor="middle" fill="#000">80%</text>
<path d="M52.1 462.6L52.1 429.6L52.6 429.6L53.1 457.4L53.6 457.0L54.1 458.8L54.6 459.0L55.1 458.5L55.6 458.8L56.1 457.5L56.6 458.2L57.1 458.0L57.6 457.5L58.1 458.2L58.6 456.6L59.1 459.2L59.6 457.0L60.1 456.4L60.6 457.4L61.1 457.0L61.6 454.9L62.1 455.8L62.6 457.2L63.1 456.0L63.6 452.6L64.1 454.4L64.6 450.9L65.1 450.2L65.6 451.7L66.1 450.1L66.6 451.6L67.1 450.5L67.6 450.6L68.1 448.3L68.6 450.9L69.1 449.1L69.6 448.8L70.1 448.2L70.6 452.6L71.1 452.7L71.6 452.1L72.1 451.8L72.6 451.9L73.1 452.3L73.6 450.3L74.1 452.6L74.6 453.4L75.1 455.4L75.6 454.7L76.1 455.5L76.6 456.3L77.1 457.7L77.6 457.6L78.1 457.3L78.6 459.7L79.1 461.1L79.6 459.0L80.1 459.2L80.6 460.1L81.1 460.4L81.6 458.0L82.1 460.5L82.6 461.1L83.1 460.5L83.6 459.8L84.1 460.7L84.6 460.5L85.1 460.0L85.6 460.6L86.1 460.2L86.6 460.3L87.1 461.1L87.6 460.2L88.1 461.1L88.6 459.6L89.1 461.0L89.6 460.5L90.1 461.7L90.6 460.7L91.1 461.3L91.6 459.3L92.1 460.5L92.6 460.0L93.1 461.7L93.6 461.3L94.1 460.6L94.6 461.4L95.1 459.7L95.6 460.8L96.1 460.4L96.6 460.3L97.1 460.6L97.6 460.0L98.1 460.9L98.6 459.9L99.1 458.7L99.6 458.7L100.1 458.2L100.6 458.4L101.1 458.5L101.6 458.7L102.1 460.1L102.6 461.6L103.1 460.4L103.6 460.7L104.1 460.1L104.6 460.1L105.1 458.5L105.6 460.3L106.1 460.1L106.6 459.0L107.1 460.7L107.6 460.1L108.1 460.6L108.6 462.1L109.1 460.4L109.6 459.9L110.1 460.7L110.6 461.8L111.1 460.3L111.6 461.5L112.1 461.0L112.6 460.6L113.1 461.4L113.6 462.0L114.1 461.0L114.6 461.0L115.1 461.5L115.6 461.5L116.1 460.5L116.6 461.0L117.1 461.3L117.6 461.4L118.1 460.9L118.6 461.0L119.1 461.2L119.6 461.9L120.1 461.3L120.6 461.5L121.1 461.1L121.1 462.6Z" fill="#333" stroke="none" stroke-width="1"/>
<rect x="51.50" y="404.30" width="70.70" height="58.80" fill="none" stroke="#777" stroke-width="1.1"/>
<line x1="90.40" y1="433.10" x2="121.40" y2="433.10" stroke="#555" stroke-width="1"/>
<line x1="90.40" y1="429.10" x2="90.40" y2="437.10" stroke="#555" stroke-width="1"/>
<line x1="121.40" y1="429.10" x2="121.40" y2="437.10" stroke="#555" stroke-width="1"/>
<text x="107.80" y="431.32" font-size="8.2" font-weight="bold" stroke="#000" stroke-width="0.3" text-anchor="middle" fill="#000">19%</text>
<path d="M126.9 462.6L126.9 448.6L127.4 448.6L127.9 460.0L128.4 460.4L128.9 460.7L129.4 460.1L129.9 460.7L130.4 460.5L130.9 460.8L131.4 459.9L131.9 459.7L132.4 457.5L132.9 458.5L133.4 459.1L133.9 457.3L134.4 458.2L134.9 455.7L135.4 455.2L135.9 451.3L136.4 456.0L136.9 453.5L137.4 452.5L137.9 450.6L138.4 448.7L138.9 450.7L139.4 449.2L139.9 446.3L140.4 444.1L140.9 447.8L141.4 448.2L141.9 442.2L142.4 442.7L142.9 442.2L143.4 446.7L143.9 445.3L144.4 444.8L144.9 445.0L145.4 446.8L145.9 447.5L146.4 446.4L146.9 450.0L147.4 451.2L147.9 452.1L148.4 453.2L148.9 453.2L149.4 454.7L149.9 455.9L150.4 454.3L150.9 456.6L151.4 458.1L151.9 456.9L152.4 459.4L152.9 459.3L153.4 459.7L153.9 460.5L154.4 460.5L154.9 460.3L155.4 461.8L155.9 461.0L156.4 460.6L156.9 460.6L157.4 460.7L157.9 459.1L158.4 460.5L158.9 461.1L159.4 461.1L159.9 461.1L160.4 460.8L160.9 461.3L161.4 460.0L161.9 462.0L162.4 460.6L162.9 460.8L163.4 462.0L163.9 460.7L164.4 460.7L164.9 461.6L165.4 459.4L165.9 460.6L166.4 461.4L166.9 461.5L167.4 461.7L167.9 461.0L168.4 461.2L168.9 462.2L169.4 461.9L169.9 461.6L170.4 461.1L170.9 460.7L171.4 460.4L171.9 458.4L172.4 457.2L172.9 457.5L173.4 459.9L173.9 457.6L174.4 457.0L174.9 458.3L175.4 458.5L175.9 459.3L176.4 461.3L176.9 462.6L177.4 460.2L177.9 461.4L178.4 460.8L178.9 461.5L179.4 461.4L179.9 460.4L180.4 462.2L180.9 461.4L181.4 462.2L181.9 461.4L182.4 461.1L182.9 461.0L183.4 461.3L183.9 462.4L184.4 461.3L184.9 460.8L185.4 460.8L185.9 460.0L186.4 461.1L186.9 462.2L187.4 461.8L187.9 461.4L188.4 460.8L188.9 462.3L189.4 460.9L189.9 461.1L190.4 462.1L190.9 461.1L191.4 462.1L191.9 461.5L192.4 461.8L192.9 461.4L193.4 462.4L193.9 461.2L194.4 462.6L194.9 461.9L195.4 462.0L195.9 460.5L196.4 461.2L196.9 461.9L197.4 462.2L197.9 461.6L197.9 462.6Z" fill="#333" stroke="none" stroke-width="1"/>
<rect x="126.30" y="403.80" width="72.20" height="59.30" fill="none" stroke="#777" stroke-width="1.1"/>
<line x1="165.50" y1="433.10" x2="196.60" y2="433.10" stroke="#555" stroke-width="1"/>
<line x1="165.50" y1="429.10" x2="165.50" y2="437.10" stroke="#555" stroke-width="1"/>
<line x1="196.60" y1="429.10" x2="196.60" y2="437.10" stroke="#555" stroke-width="1"/>
<text x="182.90" y="431.32" font-size="8.2" font-weight="bold" stroke="#000" stroke-width="0.3" text-anchor="middle" fill="#000">11%</text>
<line x1="51.50" y1="470.00" x2="140.50" y2="470.00" stroke="#333" stroke-width="1.1"/>
<path d="M139.5 467.5 L145.5 470 L139.5 472.5 Z" fill="#111" stroke="none" stroke-width="1"/>
<text x="150.60" y="474.12" font-size="8.2" font-weight="bold" stroke="#000" stroke-width="0.3" text-anchor="start" fill="#000">Annexin-V</text>
<text x="260.60" y="340.25" font-size="13.8" font-weight="bold" stroke="#000" stroke-width="0.3" text-anchor="start" fill="#000">F</text>
<text x="337.00" y="336.62" font-size="8.2" font-weight="bold" stroke="#1a1a1a" stroke-width="0.3" text-anchor="middle" fill="#1a1a1a">Med</text>
<text x="412.40" y="336.62" font-size="8.2" font-weight="bold" stroke="#1a1a1a" stroke-width="0.3" text-anchor="middle" fill="#1a1a1a">Mel</text>
<text x="292.80" y="371.62" font-size="8.2" font-weight="bold" stroke="#1a1a1a" stroke-width="0.3" text-anchor="end" fill="#1a1a1a">ARP-1</text>
<text x="292.40" y="434.09" font-size="8.4" font-weight="bold" stroke="#1a1a1a" stroke-width="0.3" text-anchor="end" fill="#1a1a1a">ARP-1+</text>
<text x="288.00" y="442.89" font-size="8.4" font-weight="bold" stroke="#000" stroke-width="0.3" text-anchor="end" fill="#000">MM tM</text>
<ellipse cx="290.20" cy="440.71" rx="1.45" ry="1.85" fill="none" stroke="#000" stroke-width="0.85"/>
<line x1="290.20" y1="437.18" x2="290.20" y2="444.74" stroke="#000" stroke-width="0.9"/>
<path d="M298.0 398.9L298.0 398.6L298.4 397.2L298.8 398.9L299.2 398.3L299.6 398.9L300.0 397.8L300.4 398.7L300.8 397.5L301.2 398.6L301.6 397.8L302.0 398.2L302.4 397.8L302.8 398.3L303.2 398.9L303.6 398.7L304.0 398.9L304.4 397.9L304.8 398.1L305.2 398.3L305.6 398.1L306.0 398.2L306.4 398.6L306.8 397.4L307.2 398.2L307.6 398.4L308.0 398.9L308.4 398.6L308.8 398.3L309.2 398.4L309.6 398.5L310.0 398.3L310.4 398.8L310.8 398.2L311.2 398.9L311.6 398.4L312.0 398.0L312.4 396.5L312.8 395.7L313.2 394.5L313.6 393.5L314.0 389.7L314.4 383.9L314.8 377.7L315.2 376.5L315.6 367.7L316.0 359.6L316.4 352.4L316.8 348.0L317.2 342.7L317.6 347.5L318.0 344.2L318.4 356.0L318.8 357.0L319.2 359.7L319.6 361.7L320.0 365.5L320.4 368.5L320.8 370.3L321.2 375.5L321.6 375.9L322.0 376.6L322.4 382.2L322.8 384.8L323.2 385.5L323.6 383.3L324.0 384.8L324.4 388.1L324.8 388.3L325.2 388.9L325.6 389.0L326.0 393.1L326.4 392.3L326.8 392.6L327.2 392.5L327.6 393.3L328.0 394.1L328.4 393.9L328.8 396.8L329.2 392.3L329.6 394.6L330.0 394.8L330.4 396.3L330.8 395.7L331.2 394.7L331.6 395.1L332.0 396.5L332.4 397.6L332.8 396.8L333.2 397.2L333.6 396.6L334.0 398.0L334.4 397.5L334.8 397.3L335.2 397.8L335.6 397.0L336.0 398.3L336.4 398.4L336.8 398.0L337.2 397.4L337.6 398.0L338.0 398.2L338.4 397.5L338.8 397.8L339.2 398.3L339.6 398.0L340.0 398.2L340.4 397.8L340.8 398.0L341.2 398.5L341.6 398.4L342.0 398.3L342.4 397.9L342.8 397.9L343.2 398.6L343.6 398.2L344.0 397.9L344.4 397.5L344.8 397.9L345.2 397.0L345.6 397.9L346.0 397.4L346.4 397.9L346.8 398.2L347.2 397.5L347.6 397.1L348.0 397.0L348.4 396.9L348.8 397.0L349.2 397.1L349.6 396.5L350.0 395.6L350.4 395.0L350.8 398.1L351.2 394.6L351.6 393.9L352.0 393.4L352.4 393.9L352.8 393.4L353.2 394.2L353.6 393.7L354.0 393.0L354.4 394.4L354.8 394.1L355.2 393.1L355.6 394.7L356.0 393.5L356.4 395.1L356.8 393.8L357.2 394.2L357.6 395.0L358.0 395.7L358.4 395.6L358.8 397.3L359.2 396.2L359.6 396.1L360.0 395.7L360.4 397.1L360.8 397.2L361.2 396.4L361.6 396.4L362.0 397.9L362.4 397.2L362.8 397.3L363.2 397.7L363.6 398.6L364.0 398.6L364.4 397.9L364.8 397.0L365.2 398.3L365.6 397.5L366.0 397.3L366.4 398.9L366.8 398.6L367.2 397.6L367.6 397.8L368.0 398.0L368.4 398.3L368.8 398.0L369.2 398.6L369.6 397.1L370.0 398.9L370.0 398.9Z" fill="#222" stroke="none" stroke-width="1"/>
<rect x="297.40" y="339.80" width="73.60" height="59.60" fill="none" stroke="#a0a0a0" stroke-width="1.1"/>
<line x1="331.30" y1="361.80" x2="370.60" y2="361.80" stroke="#666" stroke-width="1"/>
<line x1="331.30" y1="360.30" x2="331.30" y2="363.30" stroke="#666" stroke-width="1"/>
<text x="352.50" y="354.92" font-size="8.2" font-weight="bold" stroke="#000" stroke-width="0.3" text-anchor="middle" fill="#000">11%</text>
<path d="M376.9 398.9L376.9 398.8L377.3 397.3L377.7 396.3L378.1 397.8L378.5 397.4L378.9 398.2L379.3 397.4L379.7 398.2L380.1 398.1L380.5 398.5L380.9 397.8L381.3 395.9L381.7 397.4L382.1 397.2L382.5 395.6L382.9 397.8L383.3 398.0L383.7 396.8L384.1 398.1L384.5 396.8L384.9 396.1L385.3 397.9L385.7 397.3L386.1 395.4L386.5 397.6L386.9 397.2L387.3 396.2L387.7 396.6L388.1 396.9L388.5 394.4L388.9 396.3L389.3 395.1L389.7 395.6L390.1 395.2L390.5 396.1L390.9 393.1L391.3 394.3L391.7 391.7L392.1 394.2L392.5 392.7L392.9 390.6L393.3 390.1L393.7 390.2L394.1 388.1L394.5 388.6L394.9 384.3L395.3 387.6L395.7 379.3L396.1 373.7L396.5 371.4L396.9 367.9L397.3 367.7L397.7 361.2L398.1 360.1L398.5 355.4L398.9 352.0L399.3 360.1L399.7 342.7L400.1 342.4L400.5 339.8L400.9 346.0L401.3 340.3L401.7 342.1L402.1 353.4L402.5 353.7L402.9 350.0L403.3 355.3L403.7 356.4L404.1 361.7L404.5 358.9L404.9 372.0L405.3 373.6L405.7 375.7L406.1 379.4L406.5 380.2L406.9 381.5L407.3 386.2L407.7 384.9L408.1 385.0L408.5 386.9L408.9 386.8L409.3 389.3L409.7 391.9L410.1 390.3L410.5 392.4L410.9 391.5L411.3 394.5L411.7 397.0L412.1 396.2L412.5 395.1L412.9 395.0L413.3 396.0L413.7 395.0L414.1 397.2L414.5 396.9L414.9 395.6L415.3 396.5L415.7 396.6L416.1 395.6L416.5 395.9L416.9 397.6L417.3 396.8L417.7 398.4L418.1 397.1L418.5 396.8L418.9 398.5L419.3 395.9L419.7 395.5L420.1 396.7L420.5 396.3L420.9 395.8L421.3 397.2L421.7 396.1L422.1 396.6L422.5 398.1L422.9 397.5L423.3 397.1L423.7 395.6L424.1 396.3L424.5 395.3L424.9 396.5L425.3 397.1L425.7 393.6L426.1 392.7L426.5 394.8L426.9 395.1L427.3 393.3L427.7 395.5L428.1 394.0L428.5 395.0L428.9 391.9L429.3 391.3L429.7 391.2L430.1 390.4L430.5 390.3L430.9 387.3L431.3 381.2L431.7 381.6L432.1 375.1L432.5 376.8L432.9 371.5L433.3 369.2L433.7 365.5L434.1 359.7L434.5 366.1L434.9 356.1L435.3 355.6L435.7 357.9L436.1 358.2L436.5 360.1L436.9 358.8L437.3 362.6L437.7 367.2L438.1 366.7L438.5 367.0L438.9 371.0L439.3 374.3L439.7 376.2L440.1 380.0L440.5 381.9L440.9 386.6L441.3 384.8L441.7 384.2L442.1 388.0L442.5 389.9L442.9 388.0L443.3 390.1L443.7 390.9L444.1 391.1L444.5 391.4L444.9 392.9L445.3 394.4L445.7 391.7L446.1 394.1L446.5 395.3L446.9 394.6L447.3 393.8L447.7 396.8L448.1 394.3L448.5 395.9L448.9 394.1L449.3 395.6L449.3 398.9Z" fill="#222" stroke="none" stroke-width="1"/>
<rect x="376.30" y="339.80" width="73.90" height="59.60" fill="none" stroke="#a0a0a0" stroke-width="1.1"/>
<line x1="410.20" y1="362.20" x2="449.70" y2="362.20" stroke="#666" stroke-width="1"/>
<line x1="410.20" y1="360.70" x2="410.20" y2="363.70" stroke="#666" stroke-width="1"/>
<text x="429.00" y="354.22" font-size="8.2" font-weight="bold" stroke="#000" stroke-width="0.3" text-anchor="middle" fill="#000">42%</text>
<path d="M298.2 461.8L298.2 461.2L298.6 460.6L299.0 460.6L299.4 461.4L299.8 461.1L300.2 461.4L300.6 460.8L301.0 461.8L301.4 461.3L301.8 461.8L302.2 460.9L302.6 461.8L303.0 461.7L303.4 461.1L303.8 461.4L304.2 461.4L304.6 461.7L305.0 461.4L305.4 461.8L305.8 461.0L306.2 460.8L306.6 460.8L307.0 461.2L307.4 460.6L307.8 461.0L308.2 460.7L308.6 461.0L309.0 461.2L309.4 461.5L309.8 461.8L310.2 460.7L310.6 461.0L311.0 459.6L311.4 461.5L311.8 458.9L312.2 459.1L312.6 456.5L313.0 454.9L313.4 449.8L313.8 445.7L314.2 438.4L314.6 433.3L315.0 425.6L315.4 416.8L315.8 412.8L316.2 410.2L316.6 404.0L317.0 410.2L317.4 413.9L317.8 420.4L318.2 425.2L318.6 434.2L319.0 429.2L319.4 436.1L319.8 435.0L320.2 435.5L320.6 443.4L321.0 441.6L321.4 445.0L321.8 445.8L322.2 449.7L322.6 449.2L323.0 450.2L323.4 449.7L323.8 449.8L324.2 452.9L324.6 454.5L325.0 452.4L325.4 455.5L325.8 456.0L326.2 456.4L326.6 456.5L327.0 456.8L327.4 458.3L327.8 458.2L328.2 456.9L328.6 457.4L329.0 458.6L329.4 459.0L329.8 459.5L330.2 458.8L330.6 460.0L331.0 459.8L331.4 460.3L331.8 460.5L332.2 460.2L332.6 460.3L333.0 460.7L333.4 460.5L333.8 460.5L334.2 460.9L334.6 461.0L335.0 460.8L335.4 460.4L335.8 460.2L336.2 460.7L336.6 461.0L337.0 460.9L337.4 459.9L337.8 460.5L338.2 461.5L338.6 461.0L339.0 461.3L339.4 461.2L339.8 461.8L340.2 461.1L340.6 461.8L341.0 461.4L341.4 460.4L341.8 460.6L342.2 461.5L342.6 461.6L343.0 461.6L343.4 461.8L343.8 461.6L344.2 461.3L344.6 461.7L345.0 460.8L345.4 461.2L345.8 461.4L346.2 460.3L346.6 460.8L347.0 461.1L347.4 460.3L347.8 460.5L348.2 461.5L348.6 461.0L349.0 461.4L349.4 461.8L349.8 460.3L350.2 460.5L350.6 461.8L351.0 460.9L351.4 461.8L351.8 460.7L352.2 461.2L352.6 461.3L353.0 460.6L353.4 461.2L353.8 461.3L354.2 460.7L354.6 461.3L355.0 460.8L355.4 461.2L355.8 460.8L356.2 460.9L356.6 460.8L357.0 461.7L357.4 460.3L357.8 461.3L358.2 460.3L358.6 461.5L359.0 461.3L359.4 461.3L359.8 460.6L360.2 461.4L360.6 461.0L361.0 461.8L361.4 461.4L361.8 461.1L362.2 461.2L362.6 461.8L363.0 460.9L363.4 461.7L363.8 460.2L364.2 461.3L364.6 460.1L365.0 460.9L365.4 461.0L365.8 461.4L366.2 461.2L366.6 461.0L367.0 461.8L367.4 460.7L367.8 461.8L368.2 461.3L368.6 461.8L369.0 461.0L369.4 460.8L369.8 461.1L369.8 461.8Z" fill="#222" stroke="none" stroke-width="1"/>
<rect x="297.60" y="403.30" width="73.20" height="59.00" fill="none" stroke="#a0a0a0" stroke-width="1.1"/>
<line x1="331.60" y1="425.40" x2="370.50" y2="425.40" stroke="#666" stroke-width="1"/>
<line x1="331.60" y1="423.90" x2="331.60" y2="426.90" stroke="#666" stroke-width="1"/>
<text x="353.40" y="419.02" font-size="8.2" font-weight="bold" stroke="#000" stroke-width="0.3" text-anchor="middle" fill="#000">3%</text>
<path d="M376.9 461.8L376.9 460.8L377.3 461.2L377.7 460.9L378.1 460.2L378.5 461.3L378.9 460.6L379.3 460.5L379.7 461.1L380.1 460.8L380.5 460.8L380.9 461.3L381.3 459.3L381.7 461.2L382.1 459.8L382.5 460.1L382.9 461.8L383.3 460.6L383.7 460.0L384.1 460.1L384.5 461.3L384.9 460.4L385.3 461.4L385.7 461.2L386.1 460.5L386.5 460.0L386.9 458.7L387.3 459.5L387.7 458.7L388.1 460.5L388.5 460.2L388.9 459.3L389.3 456.8L389.7 459.5L390.1 459.4L390.5 457.2L390.9 455.0L391.3 457.7L391.7 455.0L392.1 455.5L392.5 449.7L392.9 449.1L393.3 447.6L393.7 445.8L394.1 443.3L394.5 439.2L394.9 437.6L395.3 434.4L395.7 431.1L396.1 423.7L396.5 422.2L396.9 412.9L397.3 419.6L397.7 407.5L398.1 405.5L398.5 401.8L398.9 406.9L399.3 412.0L399.7 411.3L400.1 406.1L400.5 413.9L400.9 417.5L401.3 421.7L401.7 423.8L402.1 428.2L402.5 435.7L402.9 436.6L403.3 436.2L403.7 438.5L404.1 444.8L404.5 448.1L404.9 446.8L405.3 451.4L405.7 454.4L406.1 454.1L406.5 454.1L406.9 453.9L407.3 457.3L407.7 456.7L408.1 458.2L408.5 457.1L408.9 458.4L409.3 458.7L409.7 460.2L410.1 459.8L410.5 460.0L410.9 461.8L411.3 459.4L411.7 460.2L412.1 460.5L412.5 460.7L412.9 460.5L413.3 460.4L413.7 461.6L414.1 460.7L414.5 460.7L414.9 460.8L415.3 461.8L415.7 461.0L416.1 461.8L416.5 460.7L416.9 460.1L417.3 460.4L417.7 461.2L418.1 461.3L418.5 461.3L418.9 460.7L419.3 461.4L419.7 461.3L420.1 461.8L420.5 461.5L420.9 461.5L421.3 461.3L421.7 460.2L422.1 461.8L422.5 461.8L422.9 460.6L423.3 461.6L423.7 461.1L424.1 460.9L424.5 461.0L424.9 461.5L425.3 460.4L425.7 459.9L426.1 461.6L426.5 461.0L426.9 460.1L427.3 460.8L427.7 461.2L428.1 460.6L428.5 459.4L428.9 460.6L429.3 459.1L429.7 458.6L430.1 459.1L430.5 457.3L430.9 456.6L431.3 455.7L431.7 455.3L432.1 457.9L432.5 454.5L432.9 454.8L433.3 454.2L433.7 456.7L434.1 454.6L434.5 455.5L434.9 457.7L435.3 455.2L435.7 458.0L436.1 458.7L436.5 457.6L436.9 459.0L437.3 458.5L437.7 459.4L438.1 459.3L438.5 459.2L438.9 460.1L439.3 459.6L439.7 459.8L440.1 461.2L440.5 460.1L440.9 460.4L441.3 460.8L441.7 460.1L442.1 459.8L442.5 460.4L442.9 461.8L443.3 460.7L443.7 461.1L444.1 461.2L444.5 460.8L444.9 461.2L445.3 459.9L445.7 460.8L446.1 461.0L446.5 460.5L446.9 460.5L447.3 460.2L447.7 460.6L448.1 461.0L448.5 460.9L448.9 461.8L448.9 461.8Z" fill="#222" stroke="none" stroke-width="1"/>
<rect x="376.30" y="403.30" width="73.30" height="59.00" fill="none" stroke="#a0a0a0" stroke-width="1.1"/>
<line x1="410.20" y1="425.40" x2="449.40" y2="425.40" stroke="#666" stroke-width="1"/>
<line x1="410.20" y1="423.90" x2="410.20" y2="426.90" stroke="#666" stroke-width="1"/>
<text x="430.10" y="418.82" font-size="8.2" font-weight="bold" stroke="#000" stroke-width="0.3" text-anchor="middle" fill="#000">12%</text>
<line x1="297.50" y1="468.70" x2="387.00" y2="468.70" stroke="#333" stroke-width="1.1"/>
<path d="M386 466.3 L392 468.7 L386 471.1 Z" fill="#111" stroke="none" stroke-width="1"/>
<text x="398.60" y="473.62" font-size="8.2" font-weight="bold" stroke="#000" stroke-width="0.3" text-anchor="start" fill="#000">Annexin-V</text>
</svg>
</body></html>
